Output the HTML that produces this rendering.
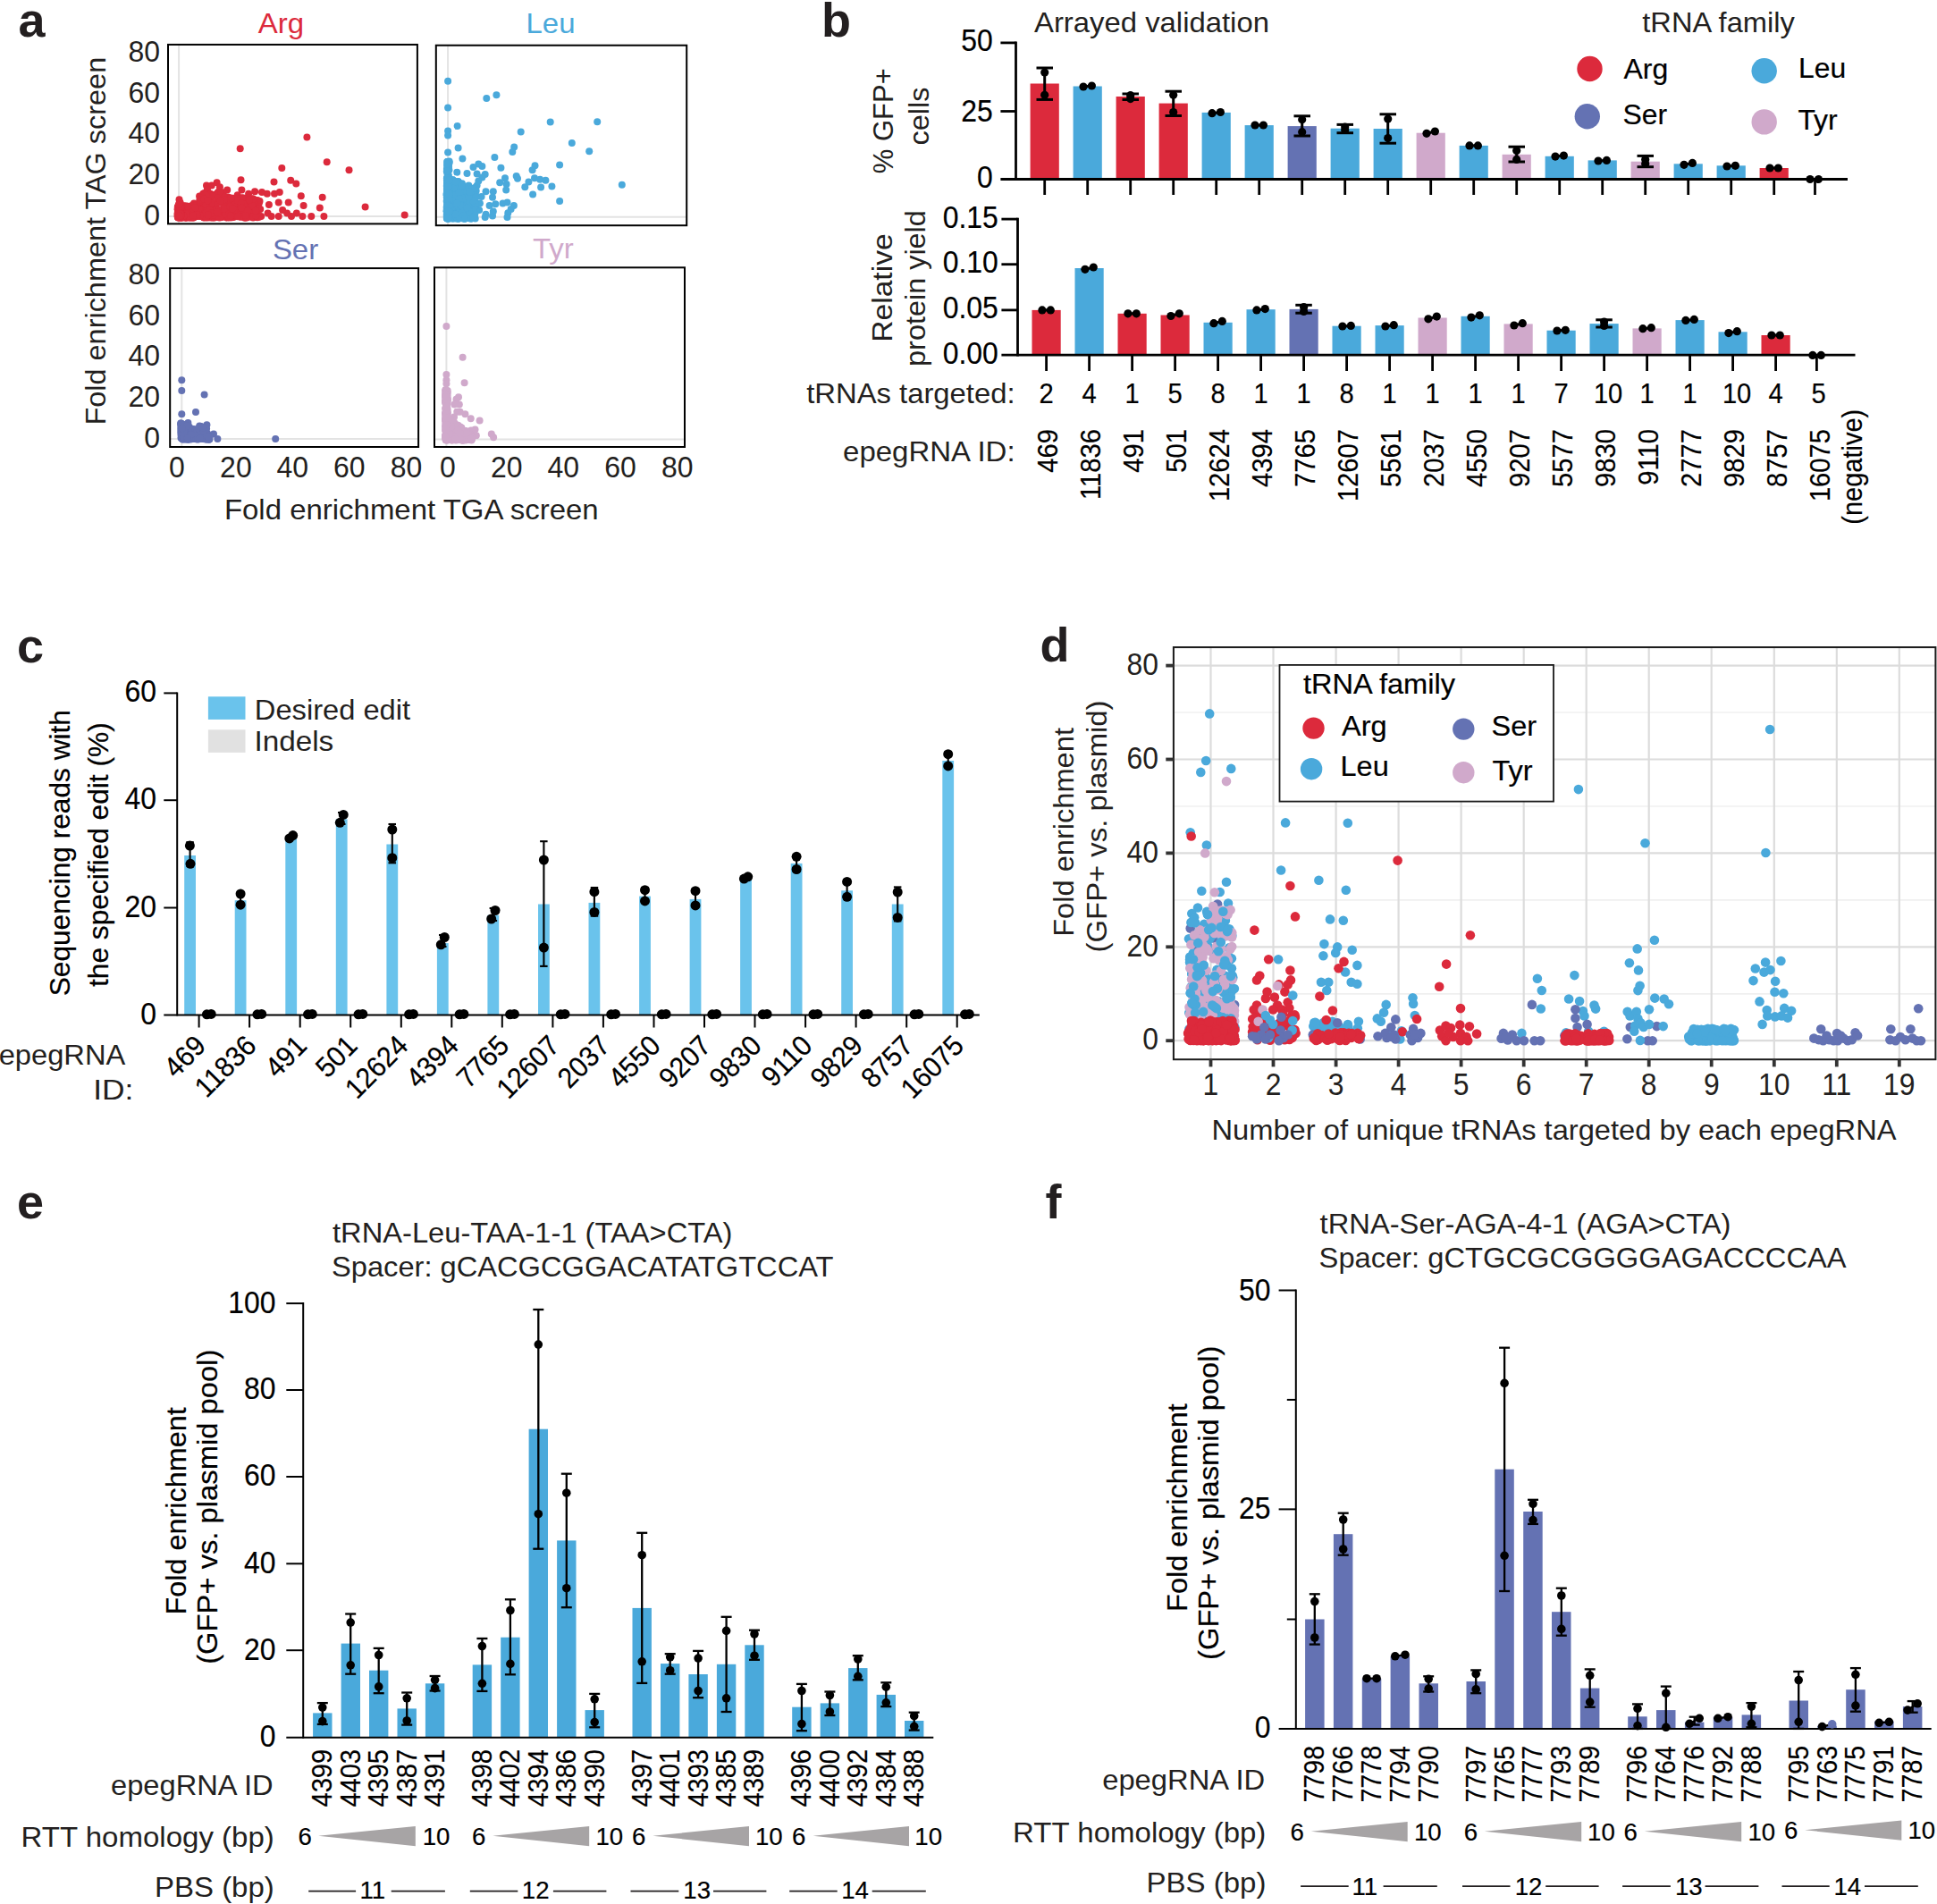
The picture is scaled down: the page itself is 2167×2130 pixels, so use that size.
<!DOCTYPE html>
<html lang="en"><head><meta charset="utf-8"><title>Figure</title>
<style>
html,body{margin:0;padding:0;background:#fff}
svg{display:block}
text{font-family:"Liberation Sans", sans-serif}
.k{fill:#000;stroke:#000;stroke-width:.2px}
</style></head><body>
<svg width="2167" height="2130" viewBox="0 0 2167 2130" fill="#231F20">
<rect width="2167" height="2130" fill="#fff"/>
<text x="20.5" y="41" font-size="54" font-weight="bold">a</text>
<line x1="200.1" y1="49.9" x2="200.1" y2="250.4" stroke="#E3E3E3" stroke-width="2"/>
<line x1="188" y1="242" x2="466.9" y2="242" stroke="#E3E3E3" stroke-width="2"/>
<text x="288.7" y="37.4" font-size="31.9" fill="#DC2A3C" textLength="51.30" lengthAdjust="spacingAndGlyphs">Arg</text>
<g fill="#DC2A3C">
<circle cx="268.7" cy="166.3" r="4"/><circle cx="343.4" cy="153.6" r="4"/><circle cx="365.7" cy="181.2" r="4"/><circle cx="390.5" cy="190.3" r="4"/><circle cx="315.3" cy="188.1" r="4"/><circle cx="269.5" cy="201.3" r="4"/><circle cx="306.5" cy="203.5" r="4"/><circle cx="325.2" cy="201.8" r="4"/><circle cx="331.3" cy="205.5" r="4"/><circle cx="408.6" cy="231.6" r="4"/><circle cx="452.7" cy="240.6" r="4"/><circle cx="360.7" cy="220.8" r="4"/><circle cx="336.8" cy="219.2" r="4"/><circle cx="339.6" cy="229.9" r="4"/><circle cx="357.8" cy="232.4" r="4"/><circle cx="362.4" cy="242" r="4"/><circle cx="348.3" cy="242" r="4"/><circle cx="338.4" cy="242" r="4"/><circle cx="331.8" cy="238.5" r="4"/><circle cx="326" cy="242" r="4"/><circle cx="321.1" cy="238.5" r="4"/><circle cx="316.1" cy="234.9" r="4"/><circle cx="322.7" cy="226.6" r="4"/><circle cx="311.7" cy="226.6" r="4"/><circle cx="311.7" cy="242" r="4"/><circle cx="300.9" cy="229.1" r="4"/><circle cx="299.6" cy="238.5" r="4"/><circle cx="312.8" cy="215" r="4"/><circle cx="307" cy="216.7" r="4"/><circle cx="298.8" cy="216.7" r="4"/><circle cx="293" cy="215" r="4"/><circle cx="285.1" cy="214.2" r="4"/><circle cx="278.1" cy="216.7" r="4"/><circle cx="270.4" cy="212.6" r="4"/><circle cx="254.2" cy="212.6" r="4"/><circle cx="242.6" cy="204.3" r="4"/><circle cx="231" cy="207.6" r="4"/><circle cx="236.8" cy="207.6" r="4"/><circle cx="245.9" cy="209.2" r="4"/><circle cx="231.9" cy="211.7" r="4"/><circle cx="245.9" cy="215" r="4"/><circle cx="200.5" cy="223.3" r="4"/><circle cx="200.5" cy="227.4" r="4"/><circle cx="265.7" cy="218.3" r="4"/><circle cx="290.5" cy="224.9" r="4"/><circle cx="288.9" cy="232.4" r="4"/><circle cx="303.7" cy="242" r="4"/><circle cx="292.2" cy="242" r="4"/><circle cx="217" cy="227.4" r="4"/><circle cx="231" cy="220" r="4"/><circle cx="241" cy="218.3" r="4"/><circle cx="252.5" cy="226.6" r="4"/><circle cx="260.8" cy="223.3" r="4"/><circle cx="214.1" cy="242.7" r="4"/><circle cx="245.4" cy="242.9" r="4"/><circle cx="232.9" cy="237" r="4"/><circle cx="199.8" cy="238.6" r="4"/><circle cx="199.3" cy="239.6" r="4"/><circle cx="200.1" cy="243.1" r="4"/><circle cx="222.3" cy="233.3" r="4"/><circle cx="202.1" cy="242" r="4"/><circle cx="242.7" cy="216.5" r="4"/><circle cx="237.2" cy="236.1" r="4"/><circle cx="287.9" cy="243.2" r="4"/><circle cx="271.3" cy="240" r="4"/><circle cx="203" cy="242.9" r="4"/><circle cx="212.9" cy="233.5" r="4"/><circle cx="204.8" cy="237.4" r="4"/><circle cx="244" cy="236.8" r="4"/><circle cx="234.1" cy="243" r="4"/><circle cx="199.8" cy="242.2" r="4"/><circle cx="248.8" cy="235.3" r="4"/><circle cx="213.3" cy="237.4" r="4"/><circle cx="224.9" cy="238.6" r="4"/><circle cx="262.8" cy="230.2" r="4"/><circle cx="208.5" cy="237.6" r="4"/><circle cx="231.8" cy="219.5" r="4"/><circle cx="254.7" cy="239.9" r="4"/><circle cx="288.4" cy="242.6" r="4"/><circle cx="221.7" cy="234.5" r="4"/><circle cx="203.4" cy="238.8" r="4"/><circle cx="199.3" cy="236" r="4"/><circle cx="259" cy="233.6" r="4"/><circle cx="273.6" cy="239.6" r="4"/><circle cx="250.5" cy="230.2" r="4"/><circle cx="237.5" cy="234.4" r="4"/><circle cx="268.8" cy="223" r="4"/><circle cx="226.9" cy="227.6" r="4"/><circle cx="199.9" cy="235.5" r="4"/><circle cx="244.9" cy="214.5" r="4"/><circle cx="266.4" cy="240" r="4"/><circle cx="219" cy="236" r="4"/><circle cx="199" cy="239.2" r="4"/><circle cx="204.2" cy="242.9" r="4"/><circle cx="199.8" cy="234.3" r="4"/><circle cx="202.3" cy="241.8" r="4"/><circle cx="219.4" cy="232.4" r="4"/><circle cx="200.5" cy="239.4" r="4"/><circle cx="234.3" cy="219.2" r="4"/><circle cx="266.1" cy="225.4" r="4"/><circle cx="210.8" cy="239.8" r="4"/><circle cx="216.8" cy="232.2" r="4"/><circle cx="285.2" cy="242.2" r="4"/><circle cx="204.6" cy="241.9" r="4"/><circle cx="207.8" cy="238.9" r="4"/><circle cx="238.5" cy="239.5" r="4"/><circle cx="198.8" cy="239.8" r="4"/><circle cx="217.6" cy="237.7" r="4"/><circle cx="284.5" cy="231.1" r="4"/><circle cx="230.9" cy="229.3" r="4"/><circle cx="248.3" cy="243.1" r="4"/><circle cx="276.9" cy="228.4" r="4"/><circle cx="273.5" cy="227.7" r="4"/><circle cx="219.5" cy="240" r="4"/><circle cx="201.3" cy="236.6" r="4"/><circle cx="199.9" cy="243.2" r="4"/><circle cx="206.4" cy="242.6" r="4"/><circle cx="215.3" cy="243.3" r="4"/><circle cx="198.8" cy="242.7" r="4"/><circle cx="201.2" cy="240.5" r="4"/><circle cx="199.1" cy="232.4" r="4"/><circle cx="241.2" cy="241.8" r="4"/><circle cx="209" cy="240.7" r="4"/><circle cx="217.2" cy="242.9" r="4"/><circle cx="270" cy="221.4" r="4"/><circle cx="226.1" cy="233.6" r="4"/><circle cx="200.6" cy="243" r="4"/><circle cx="215.5" cy="241.6" r="4"/><circle cx="267.3" cy="242" r="4"/><circle cx="199" cy="230.9" r="4"/><circle cx="232.1" cy="241.8" r="4"/><circle cx="233.7" cy="243.3" r="4"/><circle cx="232.1" cy="215.1" r="4"/><circle cx="272" cy="230.6" r="4"/><circle cx="209.6" cy="240.4" r="4"/><circle cx="204.1" cy="234.3" r="4"/><circle cx="232.6" cy="223.3" r="4"/><circle cx="214.5" cy="242" r="4"/><circle cx="265.1" cy="221.5" r="4"/><circle cx="270.5" cy="227.4" r="4"/><circle cx="266" cy="229.2" r="4"/><circle cx="207.4" cy="238.4" r="4"/><circle cx="216.5" cy="243.4" r="4"/><circle cx="199.1" cy="241.4" r="4"/><circle cx="209.5" cy="235.6" r="4"/><circle cx="285" cy="237" r="4"/><circle cx="282.2" cy="222.2" r="4"/><circle cx="284.8" cy="238.7" r="4"/><circle cx="207.1" cy="242" r="4"/><circle cx="205.7" cy="242.2" r="4"/><circle cx="242.3" cy="218.5" r="4"/><circle cx="268.9" cy="236" r="4"/><circle cx="245.6" cy="222.5" r="4"/><circle cx="200.6" cy="236.2" r="4"/><circle cx="278.4" cy="228.3" r="4"/><circle cx="257.2" cy="235.9" r="4"/><circle cx="204.7" cy="234" r="4"/><circle cx="214.7" cy="233.7" r="4"/><circle cx="287.2" cy="238.1" r="4"/><circle cx="220.3" cy="231" r="4"/><circle cx="254.1" cy="241.8" r="4"/><circle cx="202.2" cy="242.7" r="4"/><circle cx="277.7" cy="227.6" r="4"/><circle cx="203.1" cy="233.3" r="4"/><circle cx="288.4" cy="232.1" r="4"/><circle cx="216.1" cy="237.9" r="4"/><circle cx="202.4" cy="243.4" r="4"/><circle cx="287.1" cy="232.2" r="4"/><circle cx="232" cy="217.1" r="4"/><circle cx="223.1" cy="219.6" r="4"/><circle cx="267" cy="241.3" r="4"/><circle cx="209" cy="241.3" r="4"/><circle cx="208.3" cy="237.4" r="4"/><circle cx="209.5" cy="239.8" r="4"/><circle cx="202.4" cy="231.7" r="4"/><circle cx="216.4" cy="239.2" r="4"/><circle cx="237.9" cy="218.3" r="4"/><circle cx="222" cy="231.5" r="4"/><circle cx="229.5" cy="232.1" r="4"/><circle cx="231.7" cy="243.4" r="4"/><circle cx="223.7" cy="241.2" r="4"/><circle cx="198.8" cy="233.8" r="4"/><circle cx="204.4" cy="239" r="4"/><circle cx="254.2" cy="233.9" r="4"/><circle cx="214.2" cy="238.4" r="4"/><circle cx="234.9" cy="223.1" r="4"/><circle cx="201.4" cy="237.8" r="4"/><circle cx="208.8" cy="241.5" r="4"/><circle cx="260" cy="235.2" r="4"/><circle cx="235.6" cy="224.1" r="4"/><circle cx="278.7" cy="237" r="4"/><circle cx="241.1" cy="232.9" r="4"/><circle cx="230.5" cy="226.6" r="4"/><circle cx="224.8" cy="232.1" r="4"/><circle cx="227.2" cy="216.7" r="4"/><circle cx="251" cy="219.7" r="4"/><circle cx="282.9" cy="240.6" r="4"/><circle cx="235.4" cy="216.7" r="4"/><circle cx="268.8" cy="242.3" r="4"/><circle cx="202" cy="239.5" r="4"/><circle cx="200.2" cy="241.8" r="4"/><circle cx="200.2" cy="236" r="4"/><circle cx="261.5" cy="224.2" r="4"/><circle cx="203.5" cy="235.2" r="4"/><circle cx="246.4" cy="241.9" r="4"/><circle cx="274.6" cy="222.5" r="4"/><circle cx="207" cy="230.9" r="4"/><circle cx="220" cy="238.8" r="4"/><circle cx="289.8" cy="227.3" r="4"/><circle cx="203.8" cy="239.6" r="4"/><circle cx="230.9" cy="237.7" r="4"/><circle cx="205.6" cy="241" r="4"/><circle cx="253.8" cy="243.4" r="4"/><circle cx="234.8" cy="234.9" r="4"/><circle cx="199" cy="240.9" r="4"/><circle cx="242.3" cy="232.7" r="4"/><circle cx="200" cy="230.2" r="4"/><circle cx="262.1" cy="221.8" r="4"/><circle cx="201.3" cy="241.6" r="4"/><circle cx="199.4" cy="234.1" r="4"/><circle cx="210.2" cy="242.8" r="4"/><circle cx="222.1" cy="231.7" r="4"/><circle cx="266" cy="240.5" r="4"/><circle cx="203.2" cy="231.5" r="4"/><circle cx="236.5" cy="226.3" r="4"/><circle cx="200.8" cy="243.3" r="4"/><circle cx="249.7" cy="235.4" r="4"/><circle cx="200.2" cy="231.1" r="4"/><circle cx="243.5" cy="222.5" r="4"/><circle cx="200.6" cy="232.7" r="4"/><circle cx="200" cy="232.6" r="4"/><circle cx="225" cy="237.7" r="4"/><circle cx="234.7" cy="217.4" r="4"/><circle cx="210.1" cy="242.8" r="4"/><circle cx="232" cy="240" r="4"/><circle cx="201.5" cy="242.6" r="4"/><circle cx="199.6" cy="242.2" r="4"/><circle cx="213.2" cy="241.2" r="4"/><circle cx="258.4" cy="239.9" r="4"/><circle cx="229.4" cy="241.3" r="4"/><circle cx="215.8" cy="243.4" r="4"/><circle cx="208.9" cy="243.4" r="4"/><circle cx="255.1" cy="234" r="4"/><circle cx="205.3" cy="239" r="4"/><circle cx="281.9" cy="242.7" r="4"/><circle cx="266" cy="237.1" r="4"/><circle cx="228.9" cy="221.2" r="4"/><circle cx="219.6" cy="238.6" r="4"/><circle cx="249.7" cy="215.2" r="4"/><circle cx="215.5" cy="233.2" r="4"/><circle cx="251.9" cy="228.8" r="4"/><circle cx="220.6" cy="240.7" r="4"/><circle cx="199.7" cy="242.8" r="4"/><circle cx="200.2" cy="234.8" r="4"/><circle cx="209.3" cy="242.6" r="4"/><circle cx="200.6" cy="233" r="4"/><circle cx="272.9" cy="231.3" r="4"/><circle cx="211" cy="241.8" r="4"/><circle cx="211.8" cy="239.2" r="4"/><circle cx="203.6" cy="239.4" r="4"/><circle cx="209.8" cy="230.7" r="4"/><circle cx="287.3" cy="234.8" r="4"/><circle cx="208.5" cy="230.6" r="4"/><circle cx="213" cy="240.6" r="4"/><circle cx="198.8" cy="240.3" r="4"/><circle cx="226.9" cy="233" r="4"/><circle cx="205.9" cy="238.6" r="4"/><circle cx="198.8" cy="241.6" r="4"/><circle cx="200.8" cy="240" r="4"/><circle cx="199.4" cy="243.4" r="4"/><circle cx="212.6" cy="241.9" r="4"/><circle cx="238.1" cy="232.2" r="4"/><circle cx="257.3" cy="231.2" r="4"/><circle cx="253" cy="224.4" r="4"/><circle cx="219.3" cy="240.9" r="4"/><circle cx="289.1" cy="242.2" r="4"/><circle cx="254" cy="231.6" r="4"/><circle cx="199.4" cy="233.1" r="4"/><circle cx="275.9" cy="232.5" r="4"/><circle cx="255.2" cy="226.6" r="4"/><circle cx="202.8" cy="238.3" r="4"/><circle cx="229.8" cy="221.1" r="4"/><circle cx="264.2" cy="226.5" r="4"/><circle cx="238" cy="218.8" r="4"/><circle cx="249.1" cy="226.7" r="4"/><circle cx="207.6" cy="243.4" r="4"/><circle cx="202.5" cy="240.5" r="4"/><circle cx="201.3" cy="233.1" r="4"/><circle cx="235.3" cy="228.9" r="4"/><circle cx="242.6" cy="227" r="4"/><circle cx="228.3" cy="243.4" r="4"/><circle cx="263.3" cy="228.8" r="4"/><circle cx="229.6" cy="232" r="4"/><circle cx="246.3" cy="243" r="4"/><circle cx="255.6" cy="240.5" r="4"/><circle cx="200.3" cy="241.6" r="4"/><circle cx="254.7" cy="241.3" r="4"/><circle cx="255.9" cy="221.3" r="4"/><circle cx="228.8" cy="236.5" r="4"/><circle cx="227.3" cy="226.9" r="4"/><circle cx="259.3" cy="232.4" r="4"/><circle cx="244.4" cy="242.8" r="4"/><circle cx="203.1" cy="241.7" r="4"/><circle cx="256.4" cy="239.6" r="4"/><circle cx="236.2" cy="243.4" r="4"/><circle cx="199.9" cy="241.6" r="4"/><circle cx="247.8" cy="226.7" r="4"/><circle cx="248.2" cy="238.9" r="4"/><circle cx="231" cy="234.2" r="4"/><circle cx="226.1" cy="242.3" r="4"/><circle cx="276.1" cy="241.5" r="4"/><circle cx="288.1" cy="224.1" r="4"/><circle cx="199" cy="239.2" r="4"/><circle cx="266.2" cy="222.1" r="4"/><circle cx="224.6" cy="239.4" r="4"/><circle cx="206.4" cy="231" r="4"/><circle cx="206.5" cy="237.4" r="4"/><circle cx="202.9" cy="238.3" r="4"/><circle cx="284.4" cy="242.4" r="4"/><circle cx="266.2" cy="235.3" r="4"/><circle cx="275.2" cy="230.5" r="4"/><circle cx="207.7" cy="231.9" r="4"/><circle cx="228" cy="243.3" r="4"/><circle cx="198.8" cy="238.8" r="4"/><circle cx="224.7" cy="238.6" r="4"/><circle cx="202.8" cy="240.7" r="4"/><circle cx="213.5" cy="233" r="4"/><circle cx="198.8" cy="234.6" r="4"/><circle cx="268.7" cy="242.5" r="4"/><circle cx="280.7" cy="230.4" r="4"/><circle cx="277.2" cy="240" r="4"/><circle cx="217.9" cy="240.1" r="4"/><circle cx="291.2" cy="233.9" r="4"/><circle cx="216.9" cy="239.7" r="4"/><circle cx="210.6" cy="243.3" r="4"/><circle cx="201.2" cy="233.1" r="4"/><circle cx="211.3" cy="231.2" r="4"/><circle cx="208.8" cy="241.6" r="4"/><circle cx="230.4" cy="241" r="4"/><circle cx="217.9" cy="230.8" r="4"/><circle cx="274.8" cy="227.3" r="4"/><circle cx="243.1" cy="217.9" r="4"/><circle cx="282.7" cy="234.6" r="4"/><circle cx="253.5" cy="243.2" r="4"/><circle cx="255" cy="236.5" r="4"/><circle cx="257.5" cy="231.6" r="4"/><circle cx="211.3" cy="243.3" r="4"/><circle cx="280.7" cy="242.5" r="4"/><circle cx="226.7" cy="237.6" r="4"/><circle cx="212.1" cy="234.8" r="4"/><circle cx="287.9" cy="240.6" r="4"/><circle cx="245.9" cy="238.6" r="4"/><circle cx="235.1" cy="236.2" r="4"/><circle cx="204.1" cy="242.6" r="4"/><circle cx="206.3" cy="231.8" r="4"/><circle cx="229.1" cy="240.4" r="4"/><circle cx="277.9" cy="221.7" r="4"/><circle cx="224.6" cy="241.9" r="4"/><circle cx="205.4" cy="243.1" r="4"/><circle cx="215.4" cy="243.1" r="4"/><circle cx="208.2" cy="241.7" r="4"/><circle cx="236.4" cy="219" r="4"/><circle cx="257.2" cy="237.4" r="4"/><circle cx="221.4" cy="238.3" r="4"/><circle cx="218.2" cy="240.8" r="4"/><circle cx="199.9" cy="241.5" r="4"/><circle cx="286.6" cy="242.5" r="4"/><circle cx="229.7" cy="228.8" r="4"/><circle cx="271.9" cy="241.2" r="4"/><circle cx="210.3" cy="241.8" r="4"/><circle cx="220.2" cy="239.4" r="4"/><circle cx="284.6" cy="226.6" r="4"/><circle cx="273.3" cy="243.4" r="4"/><circle cx="199.2" cy="235.4" r="4"/><circle cx="276.4" cy="236.3" r="4"/><circle cx="238.3" cy="243.4" r="4"/><circle cx="219.5" cy="231.4" r="4"/><circle cx="266.9" cy="225.7" r="4"/><circle cx="287.3" cy="240.8" r="4"/><circle cx="201.5" cy="242.6" r="4"/><circle cx="231.6" cy="227" r="4"/><circle cx="282.8" cy="230.2" r="4"/><circle cx="245" cy="223.9" r="4"/><circle cx="225.3" cy="231.5" r="4"/><circle cx="199.4" cy="234.1" r="4"/><circle cx="207.8" cy="231.5" r="4"/><circle cx="244.7" cy="238.6" r="4"/><circle cx="202.3" cy="241.7" r="4"/><circle cx="243.7" cy="226.4" r="4"/><circle cx="201.6" cy="243.2" r="4"/><circle cx="231.8" cy="230.4" r="4"/><circle cx="219.2" cy="242" r="4"/><circle cx="239.8" cy="243.4" r="4"/><circle cx="212.4" cy="239.2" r="4"/><circle cx="285.3" cy="232.3" r="4"/><circle cx="274.7" cy="236.2" r="4"/><circle cx="207.9" cy="241.8" r="4"/><circle cx="285.6" cy="230.7" r="4"/><circle cx="212.8" cy="243.4" r="4"/><circle cx="229.2" cy="227.3" r="4"/><circle cx="221.9" cy="241.7" r="4"/><circle cx="247.3" cy="217.5" r="4"/><circle cx="207.4" cy="243.4" r="4"/><circle cx="215.1" cy="239.8" r="4"/><circle cx="249" cy="240.9" r="4"/><circle cx="263.2" cy="229.1" r="4"/><circle cx="229.8" cy="240.7" r="4"/><circle cx="286.9" cy="239.7" r="4"/><circle cx="266.2" cy="241" r="4"/><circle cx="207.1" cy="234.5" r="4"/><circle cx="211.9" cy="230.9" r="4"/><circle cx="228.9" cy="241.1" r="4"/><circle cx="207.2" cy="239.8" r="4"/><circle cx="247" cy="216.5" r="4"/><circle cx="203.1" cy="240.1" r="4"/><circle cx="206.6" cy="230.4" r="4"/><circle cx="202.9" cy="243.3" r="4"/><circle cx="199.9" cy="240.1" r="4"/><circle cx="276.7" cy="225.2" r="4"/><circle cx="255.1" cy="220.5" r="4"/><circle cx="281.4" cy="239.4" r="4"/><circle cx="205.1" cy="231.2" r="4"/><circle cx="256.8" cy="243.3" r="4"/><circle cx="246.9" cy="236.6" r="4"/><circle cx="218" cy="240.9" r="4"/><circle cx="204.2" cy="243.4" r="4"/><circle cx="210.9" cy="240.6" r="4"/><circle cx="284.8" cy="242.5" r="4"/><circle cx="286.1" cy="241.4" r="4"/><circle cx="216.6" cy="233.4" r="4"/><circle cx="266.4" cy="237.1" r="4"/><circle cx="199.6" cy="239" r="4"/><circle cx="217.9" cy="231.5" r="4"/><circle cx="205.5" cy="240.5" r="4"/><circle cx="276.6" cy="243.3" r="4"/><circle cx="221.1" cy="233.5" r="4"/><circle cx="259.3" cy="243.3" r="4"/><circle cx="199.3" cy="243.2" r="4"/><circle cx="279.8" cy="240.6" r="4"/><circle cx="256.9" cy="223.9" r="4"/><circle cx="215.2" cy="241.5" r="4"/><circle cx="285.2" cy="233" r="4"/><circle cx="209.7" cy="235.2" r="4"/><circle cx="213.5" cy="241.5" r="4"/><circle cx="198.8" cy="234.5" r="4"/><circle cx="279.3" cy="232.4" r="4"/><circle cx="283.1" cy="243.4" r="4"/><circle cx="207.9" cy="239" r="4"/><circle cx="285" cy="223.4" r="4"/><circle cx="219" cy="241.7" r="4"/><circle cx="222.8" cy="233.3" r="4"/><circle cx="280.9" cy="241.7" r="4"/><circle cx="263.9" cy="229.1" r="4"/><circle cx="266.5" cy="228.2" r="4"/><circle cx="240.5" cy="238" r="4"/><circle cx="213.7" cy="240.5" r="4"/><circle cx="261.3" cy="242.9" r="4"/><circle cx="205.7" cy="234.6" r="4"/><circle cx="208.7" cy="243.2" r="4"/><circle cx="199.2" cy="237.9" r="4"/><circle cx="214.2" cy="230.3" r="4"/><circle cx="274.7" cy="221.8" r="4"/><circle cx="209.9" cy="243.1" r="4"/><circle cx="201" cy="238.7" r="4"/><circle cx="252.3" cy="234.8" r="4"/><circle cx="207.9" cy="239.8" r="4"/><circle cx="241.9" cy="227.3" r="4"/><circle cx="257" cy="225.6" r="4"/><circle cx="246.9" cy="242.2" r="4"/><circle cx="268.9" cy="239.9" r="4"/><circle cx="236.1" cy="236.8" r="4"/><circle cx="255.7" cy="241.4" r="4"/><circle cx="208.7" cy="241.8" r="4"/><circle cx="203.4" cy="232.2" r="4"/><circle cx="237.3" cy="238" r="4"/><circle cx="219.8" cy="230.1" r="4"/><circle cx="230.1" cy="240.2" r="4"/><circle cx="264.7" cy="231.6" r="4"/><circle cx="290" cy="242.8" r="4"/><circle cx="226.9" cy="221.8" r="4"/><circle cx="268.9" cy="223.9" r="4"/><circle cx="199.4" cy="241.3" r="4"/><circle cx="201.9" cy="242.3" r="4"/><circle cx="287.4" cy="233.9" r="4"/><circle cx="281.2" cy="238.5" r="4"/><circle cx="272.3" cy="236.8" r="4"/><circle cx="209.5" cy="234.2" r="4"/><circle cx="283.4" cy="242.7" r="4"/><circle cx="239.3" cy="229.2" r="4"/><circle cx="206.9" cy="240.4" r="4"/><circle cx="202.9" cy="242.2" r="4"/><circle cx="209.2" cy="237.2" r="4"/><circle cx="245.5" cy="240.8" r="4"/><circle cx="198.9" cy="240.9" r="4"/><circle cx="248.5" cy="241.1" r="4"/><circle cx="213.2" cy="242.2" r="4"/><circle cx="263" cy="234.3" r="4"/><circle cx="199.9" cy="243" r="4"/><circle cx="219.8" cy="237.9" r="4"/><circle cx="244" cy="242.6" r="4"/><circle cx="203.9" cy="235.6" r="4"/><circle cx="221" cy="241.4" r="4"/><circle cx="212.9" cy="230.8" r="4"/><circle cx="213.2" cy="237.7" r="4"/><circle cx="216.6" cy="239.8" r="4"/><circle cx="272.1" cy="221.4" r="4"/><circle cx="217.2" cy="242.3" r="4"/><circle cx="254.5" cy="241.3" r="4"/><circle cx="198.8" cy="231.8" r="4"/><circle cx="222.2" cy="233.4" r="4"/><circle cx="220.7" cy="232.2" r="4"/><circle cx="225.6" cy="241.5" r="4"/><circle cx="198.9" cy="237.9" r="4"/><circle cx="244.2" cy="218.1" r="4"/><circle cx="200.8" cy="236.8" r="4"/><circle cx="217.7" cy="238.6" r="4"/><circle cx="203.1" cy="241.4" r="4"/><circle cx="231.4" cy="217.4" r="4"/><circle cx="201.5" cy="238.8" r="4"/><circle cx="264.2" cy="222" r="4"/><circle cx="205.7" cy="242.8" r="4"/><circle cx="283.1" cy="222.6" r="4"/><circle cx="227.7" cy="243.1" r="4"/><circle cx="280.7" cy="238.2" r="4"/><circle cx="277.6" cy="232.8" r="4"/><circle cx="266.8" cy="242" r="4"/><circle cx="261.7" cy="241.1" r="4"/><circle cx="220.6" cy="232.9" r="4"/><circle cx="267.4" cy="241.7" r="4"/><circle cx="206.9" cy="240" r="4"/><circle cx="231.1" cy="236.5" r="4"/><circle cx="202.1" cy="241.8" r="4"/><circle cx="254.1" cy="223.9" r="4"/><circle cx="199.4" cy="237.7" r="4"/><circle cx="258.1" cy="243.3" r="4"/><circle cx="268.6" cy="242.5" r="4"/><circle cx="239.6" cy="231.5" r="4"/><circle cx="242.7" cy="238.5" r="4"/><circle cx="221.9" cy="237.4" r="4"/><circle cx="222.4" cy="236.2" r="4"/><circle cx="224.3" cy="235" r="4"/><circle cx="199.1" cy="236.9" r="4"/><circle cx="228.3" cy="240.1" r="4"/><circle cx="258.9" cy="227.7" r="4"/><circle cx="225.4" cy="241.2" r="4"/><circle cx="226.8" cy="242.4" r="4"/><circle cx="202.3" cy="239.6" r="4"/><circle cx="200.8" cy="239.5" r="4"/><circle cx="230.3" cy="243.2" r="4"/><circle cx="243.7" cy="242.8" r="4"/><circle cx="255.2" cy="227.7" r="4"/><circle cx="230.5" cy="243.1" r="4"/><circle cx="229.7" cy="236.7" r="4"/><circle cx="284.2" cy="242.4" r="4"/><circle cx="271.1" cy="221.4" r="4"/><circle cx="255" cy="226.5" r="4"/><circle cx="205.5" cy="230.3" r="4"/><circle cx="228.6" cy="216.1" r="4"/><circle cx="279.2" cy="242" r="4"/><circle cx="262.1" cy="223.1" r="4"/><circle cx="200" cy="240.6" r="4"/><circle cx="258" cy="242" r="4"/><circle cx="276.5" cy="240.3" r="4"/><circle cx="265.6" cy="242.2" r="4"/><circle cx="229.6" cy="217.6" r="4"/><circle cx="206.3" cy="241.6" r="4"/><circle cx="229.9" cy="238.2" r="4"/><circle cx="199.3" cy="242.4" r="4"/><circle cx="203.8" cy="231.2" r="4"/><circle cx="248.7" cy="218.8" r="4"/><circle cx="204.2" cy="234" r="4"/><circle cx="201.7" cy="238.2" r="4"/><circle cx="243.7" cy="237.1" r="4"/><circle cx="273.3" cy="234.3" r="4"/><circle cx="237.5" cy="219.2" r="4"/><circle cx="201.3" cy="230" r="4"/><circle cx="243" cy="236.2" r="4"/><circle cx="263.3" cy="240.4" r="4"/><circle cx="289.9" cy="234.1" r="4"/><circle cx="216.9" cy="234.4" r="4"/><circle cx="223.9" cy="241.3" r="4"/><circle cx="256.4" cy="243.2" r="4"/><circle cx="266.1" cy="240.6" r="4"/><circle cx="244" cy="214.9" r="4"/><circle cx="238.2" cy="227.6" r="4"/><circle cx="213.2" cy="243.4" r="4"/><circle cx="199.2" cy="242.7" r="4"/><circle cx="241.4" cy="235.1" r="4"/><circle cx="230.6" cy="218.7" r="4"/><circle cx="202.4" cy="242" r="4"/><circle cx="245.6" cy="243.4" r="4"/><circle cx="198.8" cy="240.6" r="4"/><circle cx="201.4" cy="240.6" r="4"/><circle cx="207.3" cy="237.4" r="4"/><circle cx="238.5" cy="240.7" r="4"/><circle cx="242.3" cy="233.9" r="4"/><circle cx="202.6" cy="231.2" r="4"/><circle cx="208.5" cy="242.7" r="4"/><circle cx="201" cy="236.5" r="4"/><circle cx="273" cy="228.2" r="4"/><circle cx="220.3" cy="241.6" r="4"/><circle cx="198.9" cy="236.4" r="4"/><circle cx="235.7" cy="237.4" r="4"/><circle cx="244.8" cy="234.8" r="4"/><circle cx="282.2" cy="229.9" r="4"/><circle cx="208.8" cy="231.8" r="4"/><circle cx="199.4" cy="238.2" r="4"/><circle cx="220.7" cy="241.9" r="4"/><circle cx="199.8" cy="234.1" r="4"/><circle cx="198.9" cy="237.9" r="4"/><circle cx="282.8" cy="242.3" r="4"/><circle cx="205.8" cy="237" r="4"/><circle cx="230" cy="228.4" r="4"/><circle cx="265.3" cy="241.8" r="4"/><circle cx="213" cy="241.2" r="4"/><circle cx="199.6" cy="232.1" r="4"/><circle cx="261.4" cy="229.7" r="4"/><circle cx="198.9" cy="232.9" r="4"/><circle cx="256.6" cy="236.2" r="4"/><circle cx="256.2" cy="236.5" r="4"/><circle cx="207.4" cy="243" r="4"/><circle cx="207.8" cy="243.3" r="4"/><circle cx="214.9" cy="234.7" r="4"/><circle cx="250.5" cy="220.9" r="4"/><circle cx="252.5" cy="239.5" r="4"/><circle cx="234.8" cy="235" r="4"/><circle cx="262.1" cy="234.9" r="4"/><circle cx="209.9" cy="236.5" r="4"/><circle cx="286.2" cy="241.3" r="4"/><circle cx="274.2" cy="243.4" r="4"/><circle cx="209.6" cy="241.9" r="4"/><circle cx="256.5" cy="222.4" r="4"/><circle cx="256.7" cy="239.2" r="4"/><circle cx="274.2" cy="239.3" r="4"/><circle cx="208.2" cy="231.7" r="4"/><circle cx="243.1" cy="226.6" r="4"/><circle cx="247" cy="215.2" r="4"/><circle cx="226.4" cy="220.9" r="4"/><circle cx="250.8" cy="220.4" r="4"/><circle cx="223.4" cy="225.4" r="4"/><circle cx="236.5" cy="238.5" r="4"/><circle cx="206.6" cy="236.8" r="4"/><circle cx="200.4" cy="231.7" r="4"/><circle cx="203" cy="243.4" r="4"/><circle cx="201.4" cy="231.3" r="4"/><circle cx="215.7" cy="242.7" r="4"/><circle cx="199.1" cy="243.3" r="4"/><circle cx="250.2" cy="228.8" r="4"/><circle cx="250.8" cy="225.1" r="4"/><circle cx="200" cy="237.3" r="4"/><circle cx="217.1" cy="233.4" r="4"/><circle cx="266.1" cy="224.6" r="4"/><circle cx="200" cy="232.5" r="4"/><circle cx="279" cy="223.4" r="4"/><circle cx="201.4" cy="242.2" r="4"/><circle cx="201.6" cy="243.4" r="4"/><circle cx="269.8" cy="227.2" r="4"/><circle cx="243.5" cy="221.5" r="4"/><circle cx="243.2" cy="238.9" r="4"/><circle cx="201.1" cy="243" r="4"/><circle cx="258.1" cy="241.3" r="4"/><circle cx="213.7" cy="239.7" r="4"/><circle cx="199" cy="241.7" r="4"/><circle cx="211.1" cy="235.2" r="4"/><circle cx="217.5" cy="241" r="4"/><circle cx="286.1" cy="235.8" r="4"/><circle cx="270.3" cy="232.6" r="4"/><circle cx="199.2" cy="239.9" r="4"/><circle cx="223.4" cy="223.6" r="4"/><circle cx="215.8" cy="235.4" r="4"/><circle cx="233.1" cy="240.5" r="4"/><circle cx="271.8" cy="242.8" r="4"/><circle cx="266.1" cy="241.9" r="4"/><circle cx="198.8" cy="242.2" r="4"/><circle cx="258.7" cy="221.4" r="4"/><circle cx="198.8" cy="238.8" r="4"/><circle cx="228.5" cy="222.7" r="4"/><circle cx="205" cy="238.7" r="4"/><circle cx="215.8" cy="233.2" r="4"/><circle cx="209.6" cy="231" r="4"/><circle cx="211.2" cy="242.1" r="4"/><circle cx="251" cy="233.3" r="4"/><circle cx="201.5" cy="236.6" r="4"/><circle cx="200.5" cy="234" r="4"/><circle cx="250.8" cy="223.2" r="4"/><circle cx="242.8" cy="237.2" r="4"/><circle cx="220.3" cy="240.1" r="4"/><circle cx="275.7" cy="242.9" r="4"/><circle cx="275.4" cy="243.4" r="4"/><circle cx="206.2" cy="241.6" r="4"/><circle cx="277.2" cy="235.7" r="4"/><circle cx="218.4" cy="232.2" r="4"/><circle cx="207.9" cy="239.2" r="4"/><circle cx="232.5" cy="224.3" r="4"/><circle cx="257.6" cy="231.6" r="4"/><circle cx="216" cy="240.9" r="4"/><circle cx="203.5" cy="233" r="4"/><circle cx="246.7" cy="224.8" r="4"/><circle cx="204.2" cy="239.5" r="4"/><circle cx="260.2" cy="233.4" r="4"/><circle cx="202.2" cy="239.2" r="4"/><circle cx="274.9" cy="240.9" r="4"/><circle cx="205.4" cy="241.2" r="4"/><circle cx="202" cy="240.5" r="4"/><circle cx="200.2" cy="229.2" r="4"/><circle cx="200.5" cy="232" r="4"/><circle cx="201.4" cy="229.3" r="4"/><circle cx="200.7" cy="229.7" r="4"/><circle cx="202.9" cy="238.6" r="4"/><circle cx="200" cy="242.5" r="4"/><circle cx="200" cy="232.9" r="4"/><circle cx="202.9" cy="239.7" r="4"/><circle cx="202.1" cy="233.8" r="4"/><circle cx="200.3" cy="237.1" r="4"/><circle cx="200" cy="230" r="4"/><circle cx="200.9" cy="227.2" r="4"/><circle cx="201" cy="239.7" r="4"/><circle cx="201.9" cy="234.9" r="4"/><circle cx="201.7" cy="234.3" r="4"/><circle cx="200.1" cy="236.6" r="4"/><circle cx="201" cy="238.8" r="4"/><circle cx="202.6" cy="233.7" r="4"/><circle cx="201.5" cy="239" r="4"/><circle cx="201" cy="230.4" r="4"/><circle cx="202" cy="241.1" r="4"/><circle cx="202.2" cy="238.2" r="4"/><circle cx="202.5" cy="237.8" r="4"/><circle cx="201.8" cy="234.1" r="4"/><circle cx="200.7" cy="237" r="4"/><circle cx="200" cy="233.5" r="4"/><circle cx="202.2" cy="238.4" r="4"/><circle cx="201.7" cy="230.7" r="4"/><circle cx="201" cy="234.1" r="4"/><circle cx="201.7" cy="233.4" r="4"/><circle cx="201.9" cy="242" r="4"/><circle cx="200.3" cy="237.4" r="4"/><circle cx="202.2" cy="233" r="4"/><circle cx="201.3" cy="242.7" r="4"/><circle cx="199.8" cy="235.6" r="4"/><circle cx="200.2" cy="239.5" r="4"/><circle cx="202.8" cy="235.2" r="4"/><circle cx="200" cy="236.1" r="4"/><circle cx="201.4" cy="238.4" r="4"/><circle cx="201.3" cy="237.2" r="4"/><circle cx="202.4" cy="235.2" r="4"/><circle cx="201" cy="242.3" r="4"/><circle cx="200.3" cy="237.9" r="4"/><circle cx="200.9" cy="239.2" r="4"/><circle cx="200.1" cy="242.9" r="4"/><circle cx="200.8" cy="227.5" r="4"/><circle cx="200.6" cy="233.2" r="4"/><circle cx="199.7" cy="233.5" r="4"/><circle cx="201" cy="238.1" r="4"/><circle cx="200.8" cy="231" r="4"/><circle cx="200.4" cy="238.8" r="4"/><circle cx="202.8" cy="235.3" r="4"/><circle cx="200.4" cy="239.8" r="4"/><circle cx="200.9" cy="230.1" r="4"/><circle cx="200.1" cy="239.4" r="4"/><circle cx="202.3" cy="237.1" r="4"/><circle cx="201.2" cy="235.9" r="4"/><circle cx="200.4" cy="242.5" r="4"/><circle cx="200.8" cy="237.2" r="4"/><circle cx="202.4" cy="240.1" r="4"/><circle cx="201.2" cy="231.5" r="4"/><circle cx="201.5" cy="228.7" r="4"/><circle cx="202.4" cy="232.5" r="4"/><circle cx="202.5" cy="231" r="4"/><circle cx="200.9" cy="230.8" r="4"/><circle cx="201.1" cy="229.7" r="4"/><circle cx="199.7" cy="238.5" r="4"/><circle cx="200.6" cy="230.6" r="4"/><circle cx="200.6" cy="234.5" r="4"/><circle cx="201.1" cy="237.1" r="4"/><circle cx="201.8" cy="232.6" r="4"/><circle cx="202.7" cy="240.7" r="4"/><circle cx="199.8" cy="240.3" r="4"/><circle cx="202.6" cy="239.5" r="4"/><circle cx="200.1" cy="240.3" r="4"/><circle cx="201.7" cy="226.8" r="4"/><circle cx="199.7" cy="242.3" r="4"/><circle cx="201.8" cy="230.7" r="4"/><circle cx="200" cy="229" r="4"/><circle cx="200.4" cy="239.4" r="4"/><circle cx="200.8" cy="229.1" r="4"/><circle cx="202.6" cy="239.7" r="4"/><circle cx="200.2" cy="241.3" r="4"/><circle cx="201.7" cy="239.5" r="4"/><circle cx="201.9" cy="241.4" r="4"/><circle cx="202.3" cy="240.5" r="4"/><circle cx="200.3" cy="238" r="4"/><circle cx="201.4" cy="238.9" r="4"/><circle cx="201.1" cy="241.2" r="4"/>
</g>
<rect x="188" y="49.9" width="278.9" height="200.5" fill="none" stroke="#000" stroke-width="2"/>
<line x1="501.1" y1="50.7" x2="501.1" y2="252.2" stroke="#E3E3E3" stroke-width="2"/>
<line x1="487.8" y1="242.8" x2="768.2" y2="242.8" stroke="#E3E3E3" stroke-width="2"/>
<text x="588.5" y="37.4" font-size="31.9" fill="#4AA9DB" textLength="55.00" lengthAdjust="spacingAndGlyphs">Leu</text>
<g fill="#4AA9DB">
<circle cx="501.1" cy="90.8" r="4"/><circle cx="501.1" cy="120.4" r="4"/><circle cx="544.3" cy="110.1" r="4"/><circle cx="555.4" cy="106.2" r="4"/><circle cx="511.6" cy="141" r="4"/><circle cx="501.1" cy="146.5" r="4"/><circle cx="501.1" cy="151.4" r="4"/><circle cx="582.7" cy="147.5" r="4"/><circle cx="615.7" cy="136.6" r="4"/><circle cx="668.2" cy="136.2" r="4"/><circle cx="639.8" cy="159.9" r="4"/><circle cx="659.2" cy="169.3" r="4"/><circle cx="512.6" cy="165.5" r="4"/><circle cx="501.1" cy="170.4" r="4"/><circle cx="575.2" cy="164.6" r="4"/><circle cx="573.3" cy="170.1" r="4"/><circle cx="553.4" cy="176" r="4"/><circle cx="517.4" cy="177.5" r="4"/><circle cx="501.1" cy="180.7" r="4"/><circle cx="626.1" cy="184.5" r="4"/><circle cx="598.5" cy="185.3" r="4"/><circle cx="595.6" cy="190.3" r="4"/><circle cx="560.4" cy="187.8" r="4"/><circle cx="535.3" cy="183.6" r="4"/><circle cx="529.5" cy="186.9" r="4"/><circle cx="539.4" cy="186.1" r="4"/><circle cx="511.3" cy="192.7" r="4"/><circle cx="522.5" cy="194.1" r="4"/><circle cx="533.6" cy="194.4" r="4"/><circle cx="542.7" cy="194.9" r="4"/><circle cx="539.4" cy="198.5" r="4"/><circle cx="577.7" cy="196.9" r="4"/><circle cx="579" cy="199.8" r="4"/><circle cx="565" cy="199.3" r="4"/><circle cx="559.2" cy="204.3" r="4"/><circle cx="566.6" cy="205.9" r="4"/><circle cx="566.2" cy="212.6" r="4"/><circle cx="598" cy="199.3" r="4"/><circle cx="604.1" cy="200.7" r="4"/><circle cx="610.4" cy="201.8" r="4"/><circle cx="591.4" cy="203.5" r="4"/><circle cx="587.3" cy="209.2" r="4"/><circle cx="605.1" cy="209.6" r="4"/><circle cx="617.4" cy="208.4" r="4"/><circle cx="596.1" cy="217.5" r="4"/><circle cx="695.8" cy="206.8" r="4"/><circle cx="626.1" cy="224.9" r="4"/><circle cx="543.5" cy="214.2" r="4"/><circle cx="551.8" cy="214.2" r="4"/><circle cx="538.6" cy="220" r="4"/><circle cx="551" cy="220.8" r="4"/><circle cx="547.6" cy="229.9" r="4"/><circle cx="554.3" cy="228.2" r="4"/><circle cx="562.5" cy="227.4" r="4"/><circle cx="567.5" cy="226.6" r="4"/><circle cx="574.9" cy="229.9" r="4"/><circle cx="571.6" cy="234" r="4"/><circle cx="568.3" cy="238.2" r="4"/><circle cx="567.5" cy="243.1" r="4"/><circle cx="543.5" cy="239.8" r="4"/><circle cx="542.7" cy="243.1" r="4"/><circle cx="551" cy="241.5" r="4"/><circle cx="551.8" cy="236.5" r="4"/><circle cx="536.1" cy="234.9" r="4"/><circle cx="536.9" cy="227.4" r="4"/><circle cx="533.6" cy="207.6" r="4"/><circle cx="535.3" cy="202.6" r="4"/><circle cx="513.4" cy="237.4" r="4"/><circle cx="503.5" cy="241.3" r="4"/><circle cx="511.2" cy="243.7" r="4"/><circle cx="510.3" cy="241.3" r="4"/><circle cx="511.1" cy="227.7" r="4"/><circle cx="512.8" cy="210.4" r="4"/><circle cx="499.8" cy="207.9" r="4"/><circle cx="510.3" cy="224.6" r="4"/><circle cx="517.7" cy="212.9" r="4"/><circle cx="507.3" cy="230.7" r="4"/><circle cx="530.8" cy="243.5" r="4"/><circle cx="516.5" cy="222.3" r="4"/><circle cx="499.9" cy="220.5" r="4"/><circle cx="518.4" cy="208.5" r="4"/><circle cx="506" cy="201.8" r="4"/><circle cx="511.8" cy="228.4" r="4"/><circle cx="527.8" cy="244.3" r="4"/><circle cx="519.8" cy="223.5" r="4"/><circle cx="506.2" cy="208.5" r="4"/><circle cx="507.1" cy="228.2" r="4"/><circle cx="512.3" cy="214.9" r="4"/><circle cx="502.9" cy="229.5" r="4"/><circle cx="508.8" cy="224.8" r="4"/><circle cx="524.6" cy="237.2" r="4"/><circle cx="524.6" cy="233.2" r="4"/><circle cx="511.6" cy="237" r="4"/><circle cx="511.6" cy="204" r="4"/><circle cx="517.2" cy="215.1" r="4"/><circle cx="506" cy="234.9" r="4"/><circle cx="505.1" cy="222.6" r="4"/><circle cx="516.4" cy="215.3" r="4"/><circle cx="500" cy="214.5" r="4"/><circle cx="527.3" cy="228.1" r="4"/><circle cx="500.1" cy="235.1" r="4"/><circle cx="499.8" cy="239.4" r="4"/><circle cx="529" cy="225.9" r="4"/><circle cx="517.4" cy="215.3" r="4"/><circle cx="528.4" cy="225.6" r="4"/><circle cx="515.7" cy="222.6" r="4"/><circle cx="518.9" cy="224.6" r="4"/><circle cx="518.3" cy="239.5" r="4"/><circle cx="517.7" cy="230.3" r="4"/><circle cx="521.7" cy="242.8" r="4"/><circle cx="502.3" cy="244.1" r="4"/><circle cx="522.3" cy="210.6" r="4"/><circle cx="517.3" cy="233.8" r="4"/><circle cx="524.4" cy="217.2" r="4"/><circle cx="513.7" cy="237.7" r="4"/><circle cx="505.2" cy="230.3" r="4"/><circle cx="505.7" cy="230" r="4"/><circle cx="516.7" cy="207.9" r="4"/><circle cx="500.2" cy="222.7" r="4"/><circle cx="500" cy="241.9" r="4"/><circle cx="523.8" cy="226.3" r="4"/><circle cx="528.8" cy="232.1" r="4"/><circle cx="499.8" cy="231.3" r="4"/><circle cx="514.8" cy="207.1" r="4"/><circle cx="531.8" cy="231.4" r="4"/><circle cx="508.5" cy="242.5" r="4"/><circle cx="516.8" cy="239.4" r="4"/><circle cx="501.7" cy="244.6" r="4"/><circle cx="499.7" cy="216.6" r="4"/><circle cx="501.1" cy="201" r="4"/><circle cx="500.6" cy="206.5" r="4"/><circle cx="501.3" cy="244.5" r="4"/><circle cx="519.9" cy="238.6" r="4"/><circle cx="520.5" cy="240.3" r="4"/><circle cx="500.1" cy="211.7" r="4"/><circle cx="519.7" cy="212.7" r="4"/><circle cx="520.3" cy="243.2" r="4"/><circle cx="516.2" cy="218.9" r="4"/><circle cx="510.1" cy="205.8" r="4"/><circle cx="504" cy="202.1" r="4"/><circle cx="519.8" cy="244.7" r="4"/><circle cx="499.8" cy="218.3" r="4"/><circle cx="524.2" cy="243.4" r="4"/><circle cx="505.5" cy="215.4" r="4"/><circle cx="502" cy="207.3" r="4"/><circle cx="510.9" cy="243.7" r="4"/><circle cx="507.1" cy="223.5" r="4"/><circle cx="509.3" cy="218.9" r="4"/><circle cx="501.6" cy="210.8" r="4"/><circle cx="507" cy="220" r="4"/><circle cx="516.2" cy="231.7" r="4"/><circle cx="507.7" cy="213" r="4"/><circle cx="530.1" cy="218.8" r="4"/><circle cx="513.8" cy="236.4" r="4"/><circle cx="500.2" cy="200.2" r="4"/><circle cx="519.2" cy="213.9" r="4"/><circle cx="506.1" cy="221.8" r="4"/><circle cx="531.7" cy="217.2" r="4"/><circle cx="515.1" cy="235.9" r="4"/><circle cx="509" cy="207.9" r="4"/><circle cx="507.4" cy="218.1" r="4"/><circle cx="515.2" cy="209.3" r="4"/><circle cx="523.7" cy="237.4" r="4"/><circle cx="499.7" cy="236.6" r="4"/><circle cx="508.8" cy="223.2" r="4"/><circle cx="524.1" cy="212.5" r="4"/><circle cx="500" cy="208.4" r="4"/><circle cx="523.9" cy="213.4" r="4"/><circle cx="514" cy="237.1" r="4"/><circle cx="525.7" cy="216.6" r="4"/><circle cx="518.5" cy="209.5" r="4"/><circle cx="506.5" cy="243" r="4"/><circle cx="513.3" cy="213.9" r="4"/><circle cx="502.7" cy="213.6" r="4"/><circle cx="529.5" cy="239.3" r="4"/><circle cx="515.4" cy="220.2" r="4"/><circle cx="510.2" cy="239.3" r="4"/><circle cx="504" cy="213.9" r="4"/><circle cx="523" cy="230.9" r="4"/><circle cx="500.6" cy="210" r="4"/><circle cx="522.2" cy="239" r="4"/><circle cx="514.3" cy="209" r="4"/><circle cx="527.3" cy="229" r="4"/><circle cx="510.6" cy="223.4" r="4"/><circle cx="502.5" cy="239.5" r="4"/><circle cx="502.3" cy="216.2" r="4"/><circle cx="507" cy="224" r="4"/><circle cx="508.2" cy="226.4" r="4"/><circle cx="501.6" cy="244" r="4"/><circle cx="532.6" cy="235.1" r="4"/><circle cx="500.9" cy="219.5" r="4"/><circle cx="522.8" cy="241.4" r="4"/><circle cx="515" cy="234.5" r="4"/><circle cx="512.1" cy="244.5" r="4"/><circle cx="499.9" cy="199.2" r="4"/><circle cx="526.4" cy="230.3" r="4"/><circle cx="513.9" cy="237.5" r="4"/><circle cx="522.5" cy="232.1" r="4"/><circle cx="530.2" cy="219.5" r="4"/><circle cx="524.2" cy="208.9" r="4"/><circle cx="504" cy="244.1" r="4"/><circle cx="502.7" cy="239.9" r="4"/><circle cx="500.5" cy="243.8" r="4"/><circle cx="513.5" cy="210.2" r="4"/><circle cx="510" cy="205" r="4"/><circle cx="528.4" cy="243.7" r="4"/><circle cx="515" cy="232.4" r="4"/><circle cx="501.1" cy="201.4" r="4"/><circle cx="504" cy="223.5" r="4"/><circle cx="516.7" cy="206.7" r="4"/><circle cx="517.8" cy="232.9" r="4"/><circle cx="509.7" cy="240.8" r="4"/><circle cx="531.1" cy="209.9" r="4"/><circle cx="503.2" cy="244.1" r="4"/><circle cx="504" cy="233.3" r="4"/><circle cx="528.1" cy="212.9" r="4"/><circle cx="525" cy="244.1" r="4"/><circle cx="522.8" cy="220.3" r="4"/><circle cx="516.9" cy="205.3" r="4"/><circle cx="500.2" cy="241" r="4"/><circle cx="521.4" cy="209.1" r="4"/><circle cx="518.1" cy="236.5" r="4"/><circle cx="514.8" cy="216.2" r="4"/><circle cx="500.9" cy="234.2" r="4"/><circle cx="504" cy="241.8" r="4"/><circle cx="510.8" cy="240.6" r="4"/><circle cx="503.6" cy="241.2" r="4"/><circle cx="518.2" cy="244.6" r="4"/><circle cx="519.8" cy="240.1" r="4"/><circle cx="500" cy="202.9" r="4"/><circle cx="503.2" cy="203.5" r="4"/><circle cx="526.4" cy="213.1" r="4"/><circle cx="501.5" cy="228.7" r="4"/><circle cx="500.7" cy="203.1" r="4"/><circle cx="525.3" cy="224.4" r="4"/><circle cx="509.8" cy="234.3" r="4"/><circle cx="524.4" cy="230.4" r="4"/><circle cx="516.2" cy="241.5" r="4"/><circle cx="503.2" cy="243.7" r="4"/><circle cx="519.7" cy="226.6" r="4"/><circle cx="501.6" cy="206.7" r="4"/><circle cx="504.3" cy="230.7" r="4"/><circle cx="501.8" cy="236.4" r="4"/><circle cx="525.2" cy="235.8" r="4"/><circle cx="502" cy="226.7" r="4"/><circle cx="505.7" cy="206.1" r="4"/><circle cx="501" cy="200.2" r="4"/><circle cx="500.2" cy="204.9" r="4"/><circle cx="517.8" cy="239.5" r="4"/><circle cx="510.6" cy="236.4" r="4"/><circle cx="504.1" cy="239.2" r="4"/><circle cx="507" cy="201.6" r="4"/><circle cx="532.7" cy="213.4" r="4"/><circle cx="500.7" cy="235.6" r="4"/><circle cx="527.8" cy="243.9" r="4"/><circle cx="520.2" cy="236.8" r="4"/><circle cx="531.7" cy="244.6" r="4"/><circle cx="523.7" cy="235.4" r="4"/><circle cx="501.5" cy="244.8" r="4"/><circle cx="524.8" cy="228.5" r="4"/><circle cx="502.4" cy="229.4" r="4"/><circle cx="528.5" cy="239.8" r="4"/><circle cx="514" cy="241.6" r="4"/><circle cx="502.3" cy="212.4" r="4"/><circle cx="519.6" cy="240" r="4"/><circle cx="500.5" cy="242.8" r="4"/><circle cx="515.4" cy="228.4" r="4"/><circle cx="504.5" cy="239" r="4"/><circle cx="515.6" cy="218.8" r="4"/><circle cx="523.9" cy="226" r="4"/><circle cx="502.7" cy="243.5" r="4"/><circle cx="520.5" cy="232.6" r="4"/><circle cx="520" cy="243.9" r="4"/><circle cx="523.9" cy="235.6" r="4"/><circle cx="525.3" cy="213.9" r="4"/><circle cx="511.2" cy="244.6" r="4"/><circle cx="528.4" cy="230.9" r="4"/><circle cx="526.6" cy="238.2" r="4"/><circle cx="502.4" cy="209.1" r="4"/><circle cx="507.1" cy="240.6" r="4"/><circle cx="507.2" cy="222.6" r="4"/><circle cx="499.7" cy="225" r="4"/><circle cx="509.6" cy="226.7" r="4"/><circle cx="501.1" cy="215.2" r="4"/><circle cx="524.1" cy="213.5" r="4"/><circle cx="505.7" cy="216.4" r="4"/><circle cx="507.5" cy="214.8" r="4"/><circle cx="500.2" cy="206.2" r="4"/><circle cx="530.5" cy="230.6" r="4"/><circle cx="511.9" cy="226.3" r="4"/><circle cx="512.8" cy="244.5" r="4"/><circle cx="531.2" cy="239.7" r="4"/><circle cx="502.3" cy="242.4" r="4"/><circle cx="503.9" cy="210.3" r="4"/><circle cx="499.9" cy="242.6" r="4"/><circle cx="519" cy="240.1" r="4"/><circle cx="499.8" cy="221" r="4"/><circle cx="514.2" cy="227" r="4"/><circle cx="519.2" cy="242.7" r="4"/><circle cx="526.5" cy="220.8" r="4"/><circle cx="500.1" cy="241.7" r="4"/><circle cx="511.2" cy="227.6" r="4"/><circle cx="504.6" cy="241.9" r="4"/><circle cx="508.3" cy="241.5" r="4"/><circle cx="514.8" cy="211" r="4"/><circle cx="501.6" cy="222.7" r="4"/><circle cx="521.1" cy="241.1" r="4"/><circle cx="524.5" cy="210.2" r="4"/><circle cx="507.7" cy="230.7" r="4"/><circle cx="525.2" cy="228.6" r="4"/><circle cx="508" cy="204.7" r="4"/><circle cx="522.4" cy="235.4" r="4"/><circle cx="503.6" cy="233.9" r="4"/><circle cx="509.2" cy="202.9" r="4"/><circle cx="523.6" cy="211.1" r="4"/><circle cx="524" cy="214.3" r="4"/><circle cx="500.1" cy="225.2" r="4"/><circle cx="530.7" cy="212.3" r="4"/><circle cx="503.8" cy="230.2" r="4"/><circle cx="516.4" cy="233.9" r="4"/><circle cx="512.5" cy="243.5" r="4"/><circle cx="509.2" cy="227.1" r="4"/><circle cx="499.8" cy="241.2" r="4"/><circle cx="531.3" cy="219.4" r="4"/><circle cx="529.7" cy="225" r="4"/><circle cx="523.8" cy="212.5" r="4"/><circle cx="527.2" cy="244.3" r="4"/><circle cx="516.7" cy="237.6" r="4"/><circle cx="518.2" cy="237.4" r="4"/><circle cx="512.9" cy="207.2" r="4"/><circle cx="515.9" cy="238.1" r="4"/><circle cx="512.1" cy="230.6" r="4"/><circle cx="530.4" cy="237.7" r="4"/><circle cx="505.3" cy="219.6" r="4"/><circle cx="501.1" cy="221.5" r="4"/><circle cx="530.6" cy="229.9" r="4"/><circle cx="504.3" cy="228.2" r="4"/><circle cx="512.6" cy="241.3" r="4"/><circle cx="501.2" cy="241.5" r="4"/><circle cx="505" cy="231" r="4"/><circle cx="504.9" cy="237.7" r="4"/><circle cx="500.6" cy="223.8" r="4"/><circle cx="525.2" cy="225.1" r="4"/><circle cx="514" cy="221.2" r="4"/><circle cx="502.7" cy="215.8" r="4"/><circle cx="510.1" cy="225.3" r="4"/><circle cx="515.6" cy="229.6" r="4"/><circle cx="505.5" cy="237.8" r="4"/><circle cx="503.2" cy="225.9" r="4"/><circle cx="507.6" cy="223.1" r="4"/><circle cx="499.8" cy="232.8" r="4"/><circle cx="526.2" cy="239" r="4"/><circle cx="513.5" cy="228.3" r="4"/><circle cx="504.8" cy="201" r="4"/><circle cx="505" cy="213" r="4"/><circle cx="501.8" cy="243.4" r="4"/><circle cx="526.6" cy="232.1" r="4"/><circle cx="500.2" cy="231.3" r="4"/><circle cx="509.4" cy="216" r="4"/><circle cx="500.9" cy="238.2" r="4"/><circle cx="530.8" cy="220.9" r="4"/><circle cx="501.7" cy="233.7" r="4"/><circle cx="506.7" cy="218.5" r="4"/><circle cx="515.7" cy="211.9" r="4"/><circle cx="524.3" cy="228.8" r="4"/><circle cx="520.7" cy="218.3" r="4"/><circle cx="521.6" cy="230.1" r="4"/><circle cx="522.7" cy="220.4" r="4"/><circle cx="528.6" cy="242.3" r="4"/><circle cx="526.6" cy="244.7" r="4"/><circle cx="521.9" cy="225.6" r="4"/><circle cx="511.3" cy="204.6" r="4"/><circle cx="514" cy="231.5" r="4"/><circle cx="522.7" cy="212.7" r="4"/><circle cx="515.4" cy="233.2" r="4"/><circle cx="509.8" cy="229.3" r="4"/><circle cx="520.1" cy="236.8" r="4"/><circle cx="507.8" cy="224.6" r="4"/><circle cx="507.6" cy="234.8" r="4"/><circle cx="522.8" cy="213.9" r="4"/><circle cx="511.4" cy="230.1" r="4"/><circle cx="502.3" cy="235.1" r="4"/><circle cx="501.6" cy="222.5" r="4"/><circle cx="514.4" cy="243" r="4"/><circle cx="528.9" cy="236.4" r="4"/><circle cx="525.3" cy="215.1" r="4"/><circle cx="530.8" cy="240.3" r="4"/><circle cx="508.9" cy="206.7" r="4"/><circle cx="499.8" cy="243.9" r="4"/><circle cx="513.8" cy="228.1" r="4"/><circle cx="528.9" cy="219" r="4"/><circle cx="512.8" cy="203.2" r="4"/><circle cx="512" cy="227" r="4"/><circle cx="518.5" cy="233.1" r="4"/><circle cx="506.8" cy="222.5" r="4"/><circle cx="506.6" cy="203.9" r="4"/><circle cx="518.1" cy="227.5" r="4"/><circle cx="500.8" cy="232" r="4"/><circle cx="508.1" cy="224.3" r="4"/><circle cx="514.1" cy="209.9" r="4"/><circle cx="531" cy="230.9" r="4"/><circle cx="509.4" cy="221.5" r="4"/><circle cx="532.6" cy="236.1" r="4"/><circle cx="512.5" cy="212.7" r="4"/><circle cx="502.1" cy="234.5" r="4"/><circle cx="531.7" cy="217.4" r="4"/><circle cx="511.9" cy="242.4" r="4"/><circle cx="527.7" cy="222.3" r="4"/><circle cx="524.3" cy="207.6" r="4"/><circle cx="527.4" cy="232.9" r="4"/><circle cx="501.8" cy="235.7" r="4"/><circle cx="511.8" cy="227.5" r="4"/><circle cx="502.4" cy="239.8" r="4"/><circle cx="516.3" cy="223.8" r="4"/><circle cx="506.7" cy="201.3" r="4"/><circle cx="516.5" cy="244.1" r="4"/><circle cx="508.5" cy="213.1" r="4"/><circle cx="505.4" cy="217.4" r="4"/><circle cx="499.7" cy="234.9" r="4"/><circle cx="525.3" cy="226.1" r="4"/><circle cx="517.8" cy="239.9" r="4"/><circle cx="511.3" cy="225.2" r="4"/><circle cx="504.3" cy="219.4" r="4"/><circle cx="512.5" cy="203.1" r="4"/><circle cx="514.1" cy="231.8" r="4"/><circle cx="501.1" cy="240.7" r="4"/><circle cx="521.6" cy="242.7" r="4"/><circle cx="500.8" cy="240.2" r="4"/><circle cx="512.2" cy="212.2" r="4"/><circle cx="515.6" cy="214" r="4"/><circle cx="500.2" cy="244.6" r="4"/><circle cx="522.1" cy="235.9" r="4"/><circle cx="519.7" cy="234.6" r="4"/><circle cx="502" cy="236.6" r="4"/><circle cx="500.8" cy="204.5" r="4"/><circle cx="514.4" cy="234.3" r="4"/><circle cx="509.7" cy="232.4" r="4"/><circle cx="500.2" cy="205.1" r="4"/><circle cx="514.4" cy="205.8" r="4"/><circle cx="509.4" cy="221.7" r="4"/><circle cx="503.9" cy="244" r="4"/><circle cx="529.4" cy="215.5" r="4"/><circle cx="505.6" cy="206.3" r="4"/><circle cx="524.1" cy="236.8" r="4"/><circle cx="515.2" cy="206" r="4"/><circle cx="511.3" cy="205.3" r="4"/><circle cx="503.7" cy="231.6" r="4"/><circle cx="519.9" cy="239.2" r="4"/><circle cx="505.4" cy="207.5" r="4"/><circle cx="510.9" cy="213.4" r="4"/><circle cx="503.7" cy="240.2" r="4"/><circle cx="506.8" cy="239.8" r="4"/><circle cx="531.4" cy="237.7" r="4"/><circle cx="513.6" cy="242.3" r="4"/><circle cx="512.6" cy="232.7" r="4"/><circle cx="508.2" cy="243.5" r="4"/><circle cx="501.2" cy="209.1" r="4"/><circle cx="506.6" cy="237.7" r="4"/><circle cx="502.5" cy="236" r="4"/><circle cx="503.6" cy="244.2" r="4"/><circle cx="517.6" cy="234.9" r="4"/><circle cx="501.8" cy="215.8" r="4"/><circle cx="500.7" cy="236.4" r="4"/><circle cx="524.9" cy="242.2" r="4"/><circle cx="509.5" cy="210.8" r="4"/><circle cx="523.6" cy="241.3" r="4"/><circle cx="506.7" cy="216" r="4"/><circle cx="507.4" cy="203.5" r="4"/><circle cx="502.9" cy="202.5" r="4"/><circle cx="511.6" cy="238.6" r="4"/><circle cx="509.8" cy="241.7" r="4"/><circle cx="519.4" cy="237.9" r="4"/><circle cx="527.9" cy="226.5" r="4"/><circle cx="507.1" cy="237.7" r="4"/><circle cx="515.4" cy="239.3" r="4"/><circle cx="526.7" cy="242.4" r="4"/><circle cx="511.9" cy="225.8" r="4"/><circle cx="504.4" cy="212.9" r="4"/><circle cx="507.6" cy="219.5" r="4"/><circle cx="513.9" cy="235.7" r="4"/><circle cx="507.8" cy="243" r="4"/><circle cx="502.2" cy="208" r="4"/><circle cx="505.7" cy="218.9" r="4"/><circle cx="500.9" cy="223.1" r="4"/><circle cx="506.9" cy="227" r="4"/><circle cx="505.1" cy="243.5" r="4"/><circle cx="505.5" cy="238.4" r="4"/><circle cx="501.2" cy="215.1" r="4"/><circle cx="504.7" cy="231.1" r="4"/><circle cx="528.4" cy="218.8" r="4"/><circle cx="527.1" cy="214.6" r="4"/><circle cx="501.3" cy="236.2" r="4"/><circle cx="499.9" cy="216.8" r="4"/><circle cx="517.6" cy="234.5" r="4"/><circle cx="508.5" cy="219.6" r="4"/><circle cx="519.1" cy="238.3" r="4"/><circle cx="525.5" cy="235.2" r="4"/><circle cx="516.2" cy="240.4" r="4"/><circle cx="501" cy="204.1" r="4"/><circle cx="520.5" cy="219.7" r="4"/><circle cx="500" cy="244.1" r="4"/><circle cx="501.9" cy="239.2" r="4"/><circle cx="505.3" cy="232.1" r="4"/><circle cx="500" cy="234.7" r="4"/><circle cx="516.6" cy="240.4" r="4"/><circle cx="525.2" cy="226.8" r="4"/><circle cx="519.8" cy="238.1" r="4"/><circle cx="509.2" cy="218.5" r="4"/><circle cx="506.6" cy="244.8" r="4"/><circle cx="524.9" cy="217.8" r="4"/><circle cx="504.8" cy="244" r="4"/><circle cx="525.8" cy="225.4" r="4"/><circle cx="500.1" cy="237.4" r="4"/><circle cx="501" cy="211" r="4"/><circle cx="502.9" cy="204.6" r="4"/><circle cx="521.2" cy="243.2" r="4"/><circle cx="518.9" cy="233" r="4"/><circle cx="521.1" cy="214.4" r="4"/><circle cx="504.7" cy="242.8" r="4"/><circle cx="530.2" cy="233.1" r="4"/><circle cx="529.4" cy="222.6" r="4"/><circle cx="520.7" cy="214.2" r="4"/><circle cx="516.2" cy="230.3" r="4"/><circle cx="500.2" cy="215.9" r="4"/><circle cx="509" cy="226.8" r="4"/><circle cx="529.3" cy="242.3" r="4"/><circle cx="521.7" cy="244.1" r="4"/><circle cx="519.2" cy="215" r="4"/><circle cx="504.1" cy="224.4" r="4"/><circle cx="531.3" cy="225.2" r="4"/><circle cx="513" cy="237.9" r="4"/><circle cx="500.2" cy="232.7" r="4"/><circle cx="508.5" cy="239.4" r="4"/><circle cx="505.5" cy="241.4" r="4"/><circle cx="519.4" cy="221.4" r="4"/><circle cx="503.6" cy="237.7" r="4"/><circle cx="512" cy="230.1" r="4"/><circle cx="529.7" cy="235.6" r="4"/><circle cx="505.1" cy="206.9" r="4"/><circle cx="501.5" cy="223.1" r="4"/><circle cx="506.1" cy="211" r="4"/><circle cx="513.2" cy="215.7" r="4"/><circle cx="502" cy="217.9" r="4"/><circle cx="515" cy="229.8" r="4"/><circle cx="521.9" cy="214.5" r="4"/><circle cx="501" cy="235.6" r="4"/><circle cx="506.9" cy="239.1" r="4"/><circle cx="500.2" cy="235.9" r="4"/><circle cx="502.6" cy="216.2" r="4"/><circle cx="509.6" cy="242.3" r="4"/><circle cx="505.8" cy="228.3" r="4"/><circle cx="507" cy="240.5" r="4"/><circle cx="500.4" cy="244.6" r="4"/><circle cx="532.4" cy="220.8" r="4"/><circle cx="500.5" cy="214.9" r="4"/><circle cx="531.8" cy="228.1" r="4"/><circle cx="500.9" cy="226.7" r="4"/><circle cx="509.2" cy="239.8" r="4"/><circle cx="513" cy="244.7" r="4"/><circle cx="528.9" cy="224.4" r="4"/><circle cx="516.2" cy="207.6" r="4"/><circle cx="517.2" cy="238.1" r="4"/><circle cx="503.8" cy="241.3" r="4"/><circle cx="499.9" cy="211.6" r="4"/><circle cx="525.2" cy="237.1" r="4"/><circle cx="502.4" cy="219.5" r="4"/><circle cx="525.4" cy="211" r="4"/><circle cx="502" cy="211.6" r="4"/><circle cx="524.7" cy="219.3" r="4"/><circle cx="505.9" cy="239.9" r="4"/><circle cx="524.5" cy="236.2" r="4"/><circle cx="507.1" cy="224.6" r="4"/><circle cx="507.2" cy="210.4" r="4"/><circle cx="503.6" cy="244.1" r="4"/><circle cx="513.8" cy="222.2" r="4"/><circle cx="524.3" cy="220.8" r="4"/><circle cx="528.2" cy="211" r="4"/><circle cx="511.2" cy="227.6" r="4"/><circle cx="501.8" cy="235.3" r="4"/><circle cx="514.4" cy="243.2" r="4"/><circle cx="518.6" cy="241" r="4"/><circle cx="509.5" cy="203.6" r="4"/><circle cx="500.6" cy="244.1" r="4"/><circle cx="509.4" cy="239.8" r="4"/><circle cx="520" cy="244.8" r="4"/><circle cx="525.2" cy="214.3" r="4"/><circle cx="522.8" cy="232.2" r="4"/><circle cx="500.6" cy="222.7" r="4"/><circle cx="501.3" cy="207" r="4"/><circle cx="500.7" cy="208.1" r="4"/><circle cx="501.7" cy="233.4" r="4"/><circle cx="502.4" cy="190.2" r="4"/><circle cx="500.6" cy="208.4" r="4"/><circle cx="501.4" cy="202.2" r="4"/><circle cx="500.3" cy="185.1" r="4"/><circle cx="500.7" cy="209.6" r="4"/><circle cx="502.6" cy="238.8" r="4"/><circle cx="502.3" cy="243.1" r="4"/><circle cx="502.6" cy="220" r="4"/><circle cx="502.1" cy="183.4" r="4"/><circle cx="501.7" cy="219.3" r="4"/><circle cx="500.6" cy="216.8" r="4"/><circle cx="502.6" cy="210.9" r="4"/><circle cx="501.7" cy="199" r="4"/><circle cx="500.8" cy="237.3" r="4"/><circle cx="499.8" cy="191.8" r="4"/><circle cx="501.8" cy="208.7" r="4"/><circle cx="500" cy="222.6" r="4"/><circle cx="500.8" cy="217.4" r="4"/><circle cx="501" cy="214.1" r="4"/><circle cx="501.4" cy="205.4" r="4"/><circle cx="500.1" cy="191.3" r="4"/><circle cx="502.4" cy="215.3" r="4"/><circle cx="500.1" cy="235.8" r="4"/><circle cx="500.5" cy="185.7" r="4"/><circle cx="501.3" cy="195.9" r="4"/><circle cx="501.2" cy="215.7" r="4"/><circle cx="500.4" cy="216.9" r="4"/><circle cx="500.1" cy="213" r="4"/><circle cx="501.5" cy="184.7" r="4"/><circle cx="501" cy="184.3" r="4"/><circle cx="501" cy="235.9" r="4"/><circle cx="501.4" cy="226.1" r="4"/><circle cx="502" cy="187" r="4"/><circle cx="502.7" cy="226.6" r="4"/><circle cx="500" cy="233.7" r="4"/><circle cx="500.9" cy="190.7" r="4"/><circle cx="502.6" cy="216.3" r="4"/><circle cx="502" cy="188.4" r="4"/><circle cx="502" cy="183.3" r="4"/><circle cx="500.4" cy="203.8" r="4"/><circle cx="499.8" cy="218.3" r="4"/><circle cx="500.4" cy="199.1" r="4"/><circle cx="501.8" cy="207.3" r="4"/><circle cx="502.4" cy="220" r="4"/><circle cx="502.3" cy="216.2" r="4"/><circle cx="502.5" cy="236.3" r="4"/><circle cx="500.2" cy="228.2" r="4"/><circle cx="500.8" cy="229.3" r="4"/><circle cx="501.8" cy="233.4" r="4"/><circle cx="500.1" cy="203.9" r="4"/><circle cx="501.9" cy="241.4" r="4"/><circle cx="501.9" cy="182.4" r="4"/><circle cx="501.5" cy="186" r="4"/><circle cx="501.4" cy="231.9" r="4"/><circle cx="500.1" cy="239.9" r="4"/><circle cx="501.7" cy="196.1" r="4"/><circle cx="500.3" cy="208.7" r="4"/><circle cx="502.2" cy="217.5" r="4"/><circle cx="500.1" cy="180.9" r="4"/><circle cx="500.1" cy="231.8" r="4"/><circle cx="500.3" cy="215.7" r="4"/><circle cx="500.6" cy="224.4" r="4"/><circle cx="500.9" cy="188.9" r="4"/><circle cx="502.3" cy="214.6" r="4"/><circle cx="501.8" cy="232.3" r="4"/><circle cx="502.6" cy="180.4" r="4"/><circle cx="500.8" cy="189.4" r="4"/><circle cx="501.2" cy="236.5" r="4"/><circle cx="502.1" cy="181.8" r="4"/><circle cx="500.3" cy="232.9" r="4"/><circle cx="501.8" cy="205.1" r="4"/><circle cx="501.2" cy="189.8" r="4"/><circle cx="502.3" cy="205.2" r="4"/><circle cx="502.3" cy="219.4" r="4"/><circle cx="500" cy="201" r="4"/><circle cx="500.4" cy="237.9" r="4"/><circle cx="501.5" cy="182.4" r="4"/><circle cx="500.2" cy="203.1" r="4"/><circle cx="501.1" cy="217.2" r="4"/><circle cx="500.9" cy="202.6" r="4"/><circle cx="499.8" cy="217.3" r="4"/><circle cx="500.7" cy="180.9" r="4"/><circle cx="501.1" cy="243.9" r="4"/><circle cx="499.9" cy="189" r="4"/><circle cx="501.7" cy="197.3" r="4"/><circle cx="500.6" cy="212.1" r="4"/><circle cx="500.5" cy="216.6" r="4"/><circle cx="501.3" cy="242" r="4"/><circle cx="502.7" cy="181.7" r="4"/><circle cx="501.4" cy="229.8" r="4"/><circle cx="502.3" cy="230" r="4"/><circle cx="501.6" cy="220.9" r="4"/><circle cx="500.8" cy="197.9" r="4"/><circle cx="502.1" cy="236.5" r="4"/><circle cx="502.5" cy="224" r="4"/><circle cx="500.6" cy="229.3" r="4"/><circle cx="501.9" cy="212.7" r="4"/><circle cx="501.6" cy="202.4" r="4"/><circle cx="501.4" cy="206" r="4"/><circle cx="499.9" cy="201.5" r="4"/><circle cx="500.7" cy="244" r="4"/><circle cx="501.2" cy="203.5" r="4"/><circle cx="500.5" cy="194.8" r="4"/><circle cx="500.8" cy="188.4" r="4"/><circle cx="499.8" cy="236.3" r="4"/><circle cx="501.1" cy="208.6" r="4"/><circle cx="501.4" cy="199.2" r="4"/><circle cx="500.2" cy="183.8" r="4"/><circle cx="500.6" cy="199.6" r="4"/><circle cx="501.9" cy="215.5" r="4"/><circle cx="502.5" cy="201.7" r="4"/><circle cx="502.5" cy="217.6" r="4"/><circle cx="500" cy="191.2" r="4"/><circle cx="501.5" cy="244" r="4"/><circle cx="500.8" cy="230.1" r="4"/><circle cx="501" cy="236.2" r="4"/>
</g>
<rect x="487.8" y="50.7" width="280.4" height="201.5" fill="none" stroke="#000" stroke-width="2"/>
<line x1="203.3" y1="300.1" x2="203.3" y2="500" stroke="#E3E3E3" stroke-width="2"/>
<line x1="190.2" y1="491" x2="468.1" y2="491" stroke="#E3E3E3" stroke-width="2"/>
<text x="304.9" y="289.7" font-size="31.9" fill="#6472B3" textLength="51.30" lengthAdjust="spacingAndGlyphs">Ser</text>
<g fill="#6472B3">
<circle cx="203.3" cy="425.2" r="4"/><circle cx="203.3" cy="437.1" r="4"/><circle cx="228.6" cy="441.4" r="4"/><circle cx="203.3" cy="463.2" r="4"/><circle cx="219" cy="461.1" r="4"/><circle cx="231.4" cy="475.3" r="4"/><circle cx="210.4" cy="473.1" r="4"/><circle cx="239" cy="485.5" r="4"/><circle cx="243.4" cy="491" r="4"/><circle cx="308.2" cy="491" r="4"/><circle cx="226.1" cy="481.4" r="4"/><circle cx="214.5" cy="481.4" r="4"/><circle cx="203" cy="484" r="4"/><circle cx="230.1" cy="488.9" r="4"/><circle cx="207.1" cy="491.4" r="4"/><circle cx="204.9" cy="488" r="4"/><circle cx="222" cy="490.1" r="4"/><circle cx="211.2" cy="489.5" r="4"/><circle cx="218.2" cy="482.1" r="4"/><circle cx="219.8" cy="490.1" r="4"/><circle cx="223.2" cy="476.6" r="4"/><circle cx="218.1" cy="491.1" r="4"/><circle cx="226.3" cy="479.4" r="4"/><circle cx="209.4" cy="490.2" r="4"/><circle cx="205.4" cy="483.5" r="4"/><circle cx="229" cy="484" r="4"/><circle cx="231.1" cy="489.7" r="4"/><circle cx="209" cy="480.7" r="4"/><circle cx="219.9" cy="488" r="4"/><circle cx="221" cy="488.9" r="4"/><circle cx="202.9" cy="485.3" r="4"/><circle cx="202.7" cy="481.2" r="4"/><circle cx="209.2" cy="485" r="4"/><circle cx="218" cy="489.4" r="4"/><circle cx="213.3" cy="491.5" r="4"/><circle cx="231.2" cy="485.5" r="4"/><circle cx="233.9" cy="491.5" r="4"/><circle cx="218.6" cy="484" r="4"/><circle cx="209.1" cy="490.7" r="4"/><circle cx="204.7" cy="489.9" r="4"/><circle cx="224.5" cy="490.8" r="4"/><circle cx="226.4" cy="486.5" r="4"/><circle cx="215.8" cy="485.1" r="4"/><circle cx="216.4" cy="484.3" r="4"/><circle cx="218.1" cy="488.6" r="4"/><circle cx="223.5" cy="488.6" r="4"/><circle cx="222.3" cy="484.7" r="4"/><circle cx="224.9" cy="488" r="4"/><circle cx="224.7" cy="477" r="4"/><circle cx="212.9" cy="488.7" r="4"/><circle cx="215.3" cy="479.9" r="4"/><circle cx="204.2" cy="491.6" r="4"/><circle cx="213.7" cy="483.6" r="4"/><circle cx="224.8" cy="487.2" r="4"/><circle cx="234" cy="490.9" r="4"/><circle cx="224.1" cy="490.8" r="4"/><circle cx="202.5" cy="490" r="4"/><circle cx="202.9" cy="483.7" r="4"/><circle cx="216.4" cy="490.1" r="4"/><circle cx="231.8" cy="488.1" r="4"/><circle cx="204.5" cy="489.4" r="4"/><circle cx="223.3" cy="477.4" r="4"/><circle cx="204.8" cy="491.4" r="4"/><circle cx="225" cy="488.9" r="4"/><circle cx="233.7" cy="489.7" r="4"/><circle cx="219.4" cy="488.6" r="4"/><circle cx="225.9" cy="485.9" r="4"/><circle cx="208.9" cy="477.9" r="4"/><circle cx="203.7" cy="479.3" r="4"/><circle cx="203" cy="480.9" r="4"/><circle cx="211.3" cy="479.5" r="4"/><circle cx="202.9" cy="482.5" r="4"/><circle cx="211.5" cy="478.7" r="4"/><circle cx="232.1" cy="484.9" r="4"/><circle cx="206.3" cy="488.4" r="4"/><circle cx="207.2" cy="485.6" r="4"/><circle cx="206.4" cy="489.2" r="4"/><circle cx="224.2" cy="482.6" r="4"/><circle cx="208.2" cy="475.9" r="4"/><circle cx="206.1" cy="483.1" r="4"/><circle cx="204.7" cy="477" r="4"/><circle cx="228.8" cy="488.9" r="4"/><circle cx="223.9" cy="479.4" r="4"/><circle cx="207.8" cy="487.4" r="4"/><circle cx="214" cy="480.1" r="4"/><circle cx="204.8" cy="480.6" r="4"/><circle cx="218" cy="487.2" r="4"/><circle cx="217.3" cy="481.5" r="4"/><circle cx="205.9" cy="477.1" r="4"/><circle cx="210" cy="480.5" r="4"/><circle cx="228.5" cy="489.9" r="4"/><circle cx="228.5" cy="478.4" r="4"/><circle cx="208.2" cy="491.4" r="4"/><circle cx="203.8" cy="474.3" r="4"/><circle cx="202.3" cy="475.1" r="4"/><circle cx="204.6" cy="479.5" r="4"/><circle cx="203.5" cy="489.5" r="4"/><circle cx="221.2" cy="491.1" r="4"/><circle cx="209.4" cy="477.8" r="4"/><circle cx="222.5" cy="483.5" r="4"/><circle cx="233.6" cy="491.5" r="4"/><circle cx="206.5" cy="479.1" r="4"/><circle cx="221.4" cy="491.4" r="4"/><circle cx="214.7" cy="489.4" r="4"/><circle cx="212.2" cy="490.7" r="4"/><circle cx="202.4" cy="473.4" r="4"/><circle cx="208.7" cy="478.3" r="4"/><circle cx="204" cy="484.1" r="4"/><circle cx="204.3" cy="485.2" r="4"/><circle cx="205.2" cy="480.7" r="4"/><circle cx="204.5" cy="479.5" r="4"/><circle cx="214.5" cy="490.7" r="4"/><circle cx="209.8" cy="485.1" r="4"/><circle cx="230.9" cy="488.2" r="4"/><circle cx="206" cy="475.5" r="4"/><circle cx="229.4" cy="482.7" r="4"/><circle cx="207.5" cy="489.6" r="4"/><circle cx="207.3" cy="491" r="4"/><circle cx="202.7" cy="483.5" r="4"/><circle cx="211.5" cy="484.5" r="4"/><circle cx="210.1" cy="491.6" r="4"/><circle cx="221.4" cy="485.7" r="4"/><circle cx="216" cy="485.6" r="4"/><circle cx="221.5" cy="482" r="4"/><circle cx="229" cy="482.8" r="4"/><circle cx="211.2" cy="488" r="4"/><circle cx="211.8" cy="477.9" r="4"/><circle cx="210.8" cy="487" r="4"/><circle cx="211.5" cy="490.2" r="4"/><circle cx="234.4" cy="491.6" r="4"/><circle cx="218.3" cy="481.3" r="4"/><circle cx="207" cy="482.6" r="4"/><circle cx="210.5" cy="488.9" r="4"/><circle cx="205.6" cy="490.3" r="4"/><circle cx="227.7" cy="481.4" r="4"/><circle cx="230.5" cy="491.3" r="4"/><circle cx="221.6" cy="489.1" r="4"/><circle cx="219.8" cy="486.4" r="4"/><circle cx="208.7" cy="476.5" r="4"/><circle cx="202.3" cy="478.6" r="4"/><circle cx="228.1" cy="485.6" r="4"/><circle cx="217.8" cy="480.2" r="4"/><circle cx="206.5" cy="482.1" r="4"/><circle cx="223.6" cy="486.8" r="4"/><circle cx="222.3" cy="488.5" r="4"/><circle cx="215.4" cy="484.6" r="4"/><circle cx="221" cy="489" r="4"/><circle cx="219.1" cy="486.4" r="4"/><circle cx="206.2" cy="482.3" r="4"/><circle cx="207.3" cy="477.1" r="4"/><circle cx="213.6" cy="482.6" r="4"/><circle cx="215.3" cy="486.4" r="4"/><circle cx="206.2" cy="490" r="4"/><circle cx="231.3" cy="486" r="4"/><circle cx="215.3" cy="485.8" r="4"/><circle cx="226.4" cy="489.1" r="4"/><circle cx="205" cy="478" r="4"/><circle cx="213.2" cy="483.6" r="4"/><circle cx="227" cy="479.4" r="4"/><circle cx="228.7" cy="491.3" r="4"/><circle cx="210.6" cy="479.8" r="4"/><circle cx="226.6" cy="490.5" r="4"/><circle cx="204.6" cy="488.3" r="4"/><circle cx="203.6" cy="486.4" r="4"/><circle cx="226" cy="485" r="4"/><circle cx="212.9" cy="490.9" r="4"/><circle cx="211.1" cy="477.1" r="4"/><circle cx="221.7" cy="487.9" r="4"/><circle cx="213.8" cy="481.4" r="4"/><circle cx="224.2" cy="490.1" r="4"/><circle cx="221.1" cy="488.6" r="4"/><circle cx="215.2" cy="489.4" r="4"/><circle cx="210.3" cy="487.5" r="4"/><circle cx="210.6" cy="491.5" r="4"/><circle cx="205.7" cy="483" r="4"/><circle cx="202.9" cy="489.3" r="4"/><circle cx="222.6" cy="489.6" r="4"/><circle cx="208.9" cy="488.8" r="4"/><circle cx="227.3" cy="490.8" r="4"/><circle cx="219.4" cy="482.6" r="4"/><circle cx="205.7" cy="485.6" r="4"/><circle cx="225.5" cy="483.4" r="4"/><circle cx="210.4" cy="491.3" r="4"/><circle cx="212.6" cy="487.5" r="4"/><circle cx="222.3" cy="489.4" r="4"/><circle cx="211.5" cy="483.1" r="4"/><circle cx="226.3" cy="487.5" r="4"/><circle cx="210.8" cy="484" r="4"/><circle cx="231.2" cy="490" r="4"/><circle cx="233.2" cy="488.6" r="4"/><circle cx="210.4" cy="482.5" r="4"/><circle cx="209.1" cy="491" r="4"/><circle cx="224.1" cy="486.8" r="4"/><circle cx="215.4" cy="486.2" r="4"/><circle cx="230.1" cy="482.6" r="4"/><circle cx="202.5" cy="481.8" r="4"/><circle cx="213.2" cy="486.2" r="4"/><circle cx="227.5" cy="486.8" r="4"/><circle cx="213.6" cy="480" r="4"/><circle cx="212.5" cy="485.7" r="4"/><circle cx="214.9" cy="481.4" r="4"/><circle cx="220.7" cy="484.5" r="4"/><circle cx="211.3" cy="491.3" r="4"/><circle cx="221.1" cy="486.7" r="4"/><circle cx="224.6" cy="480.6" r="4"/><circle cx="203.9" cy="488.7" r="4"/><circle cx="203.2" cy="477.4" r="4"/><circle cx="203.6" cy="490.6" r="4"/><circle cx="224" cy="483.9" r="4"/><circle cx="202.8" cy="480.1" r="4"/><circle cx="222.3" cy="487.7" r="4"/><circle cx="202.8" cy="479.9" r="4"/><circle cx="211.8" cy="484.2" r="4"/><circle cx="234.4" cy="488.4" r="4"/><circle cx="228.9" cy="490.3" r="4"/><circle cx="209.2" cy="484.6" r="4"/><circle cx="202.3" cy="473.4" r="4"/><circle cx="207.6" cy="488.4" r="4"/><circle cx="208.6" cy="488.6" r="4"/><circle cx="228.3" cy="485" r="4"/><circle cx="214.9" cy="487.1" r="4"/><circle cx="202.8" cy="487.2" r="4"/><circle cx="228.7" cy="481.5" r="4"/><circle cx="228.2" cy="489" r="4"/><circle cx="205.7" cy="491.1" r="4"/><circle cx="215.8" cy="487.8" r="4"/><circle cx="213.3" cy="485.9" r="4"/><circle cx="217.5" cy="488.1" r="4"/><circle cx="225.9" cy="489.5" r="4"/><circle cx="230.9" cy="485.6" r="4"/><circle cx="202.8" cy="487.1" r="4"/><circle cx="215.6" cy="487.3" r="4"/><circle cx="216.8" cy="488.5" r="4"/><circle cx="207.5" cy="479.3" r="4"/><circle cx="208" cy="481.1" r="4"/><circle cx="226" cy="483.9" r="4"/><circle cx="213" cy="479" r="4"/><circle cx="212.7" cy="479.8" r="4"/><circle cx="202.9" cy="484.9" r="4"/><circle cx="219.5" cy="491.3" r="4"/><circle cx="228.5" cy="491.1" r="4"/><circle cx="217.9" cy="490.2" r="4"/><circle cx="231.1" cy="485.5" r="4"/><circle cx="225.9" cy="485.3" r="4"/><circle cx="220.8" cy="485.3" r="4"/><circle cx="208.1" cy="489.2" r="4"/><circle cx="227.5" cy="490.3" r="4"/><circle cx="230.9" cy="489.8" r="4"/><circle cx="203.6" cy="490.6" r="4"/><circle cx="225.2" cy="477.7" r="4"/><circle cx="211.7" cy="483" r="4"/><circle cx="207.1" cy="477.1" r="4"/><circle cx="221.3" cy="490.6" r="4"/><circle cx="202.9" cy="479.8" r="4"/><circle cx="202.7" cy="476.8" r="4"/><circle cx="208.1" cy="488.9" r="4"/><circle cx="217.4" cy="488.7" r="4"/><circle cx="216.6" cy="490.3" r="4"/><circle cx="230.6" cy="488.4" r="4"/><circle cx="227.6" cy="490.2" r="4"/><circle cx="225.8" cy="477.5" r="4"/><circle cx="211" cy="491.4" r="4"/><circle cx="210.6" cy="483" r="4"/><circle cx="206.2" cy="483.5" r="4"/><circle cx="203.5" cy="484.5" r="4"/><circle cx="223" cy="485.9" r="4"/><circle cx="221" cy="490.9" r="4"/><circle cx="227" cy="490.5" r="4"/><circle cx="231.1" cy="479.5" r="4"/><circle cx="231.8" cy="486.1" r="4"/><circle cx="208" cy="487.1" r="4"/><circle cx="223.8" cy="485" r="4"/><circle cx="231.4" cy="490.9" r="4"/><circle cx="214" cy="480.5" r="4"/><circle cx="218" cy="486.1" r="4"/><circle cx="203.4" cy="489.9" r="4"/><circle cx="207.5" cy="477.5" r="4"/><circle cx="227.8" cy="489.3" r="4"/><circle cx="231.2" cy="491.4" r="4"/><circle cx="218" cy="480.6" r="4"/><circle cx="209.5" cy="477.4" r="4"/><circle cx="220.2" cy="491.3" r="4"/><circle cx="209.2" cy="485.7" r="4"/><circle cx="206.9" cy="480.1" r="4"/><circle cx="205.2" cy="478.7" r="4"/><circle cx="208.2" cy="491" r="4"/><circle cx="216.6" cy="490.9" r="4"/><circle cx="216.3" cy="482.5" r="4"/><circle cx="217.9" cy="487.1" r="4"/><circle cx="202.6" cy="483.4" r="4"/><circle cx="203.5" cy="481" r="4"/><circle cx="204.2" cy="482.5" r="4"/><circle cx="209.8" cy="487" r="4"/><circle cx="220.4" cy="490.4" r="4"/><circle cx="205" cy="475.5" r="4"/><circle cx="209.2" cy="479.1" r="4"/><circle cx="228.9" cy="486.2" r="4"/><circle cx="204.5" cy="490.6" r="4"/><circle cx="229.2" cy="490.6" r="4"/><circle cx="214.4" cy="485.4" r="4"/><circle cx="203.9" cy="484.5" r="4"/><circle cx="204.9" cy="483.4" r="4"/><circle cx="214.7" cy="487.7" r="4"/><circle cx="205.6" cy="485.9" r="4"/><circle cx="205.8" cy="490.2" r="4"/><circle cx="206.7" cy="477.6" r="4"/><circle cx="214.6" cy="480.3" r="4"/><circle cx="202.4" cy="474.4" r="4"/><circle cx="214.1" cy="481.7" r="4"/><circle cx="217" cy="484" r="4"/><circle cx="206.4" cy="479.8" r="4"/><circle cx="204.6" cy="488.1" r="4"/><circle cx="202.5" cy="485.6" r="4"/><circle cx="215.1" cy="488.7" r="4"/><circle cx="229.7" cy="491" r="4"/><circle cx="217.3" cy="489.6" r="4"/><circle cx="217.9" cy="483" r="4"/><circle cx="222.3" cy="491.3" r="4"/><circle cx="206.8" cy="482.7" r="4"/><circle cx="233.7" cy="491.5" r="4"/><circle cx="218.7" cy="484.5" r="4"/><circle cx="226.5" cy="487.7" r="4"/><circle cx="226.3" cy="486" r="4"/><circle cx="231" cy="491.6" r="4"/><circle cx="231.8" cy="487.5" r="4"/><circle cx="211.4" cy="490.8" r="4"/><circle cx="206.8" cy="480.3" r="4"/><circle cx="221" cy="490.6" r="4"/><circle cx="209.5" cy="490.2" r="4"/><circle cx="205.6" cy="488.9" r="4"/><circle cx="209.1" cy="476.6" r="4"/><circle cx="234.4" cy="488.6" r="4"/><circle cx="213.8" cy="485.9" r="4"/><circle cx="225" cy="478.4" r="4"/><circle cx="223.9" cy="482.7" r="4"/><circle cx="205.7" cy="482" r="4"/><circle cx="227.8" cy="481.4" r="4"/><circle cx="203.4" cy="479.5" r="4"/><circle cx="209.7" cy="489.9" r="4"/><circle cx="233" cy="488.7" r="4"/><circle cx="223.6" cy="490.2" r="4"/><circle cx="227" cy="478.7" r="4"/>
</g>
<rect x="190.2" y="300.1" width="277.9" height="199.9" fill="none" stroke="#000" stroke-width="2"/>
<line x1="499.4" y1="299.3" x2="499.4" y2="500" stroke="#E3E3E3" stroke-width="2"/>
<line x1="486" y1="491.6" x2="766" y2="491.6" stroke="#E3E3E3" stroke-width="2"/>
<text x="596" y="288.9" font-size="31.9" fill="#D0A9CB" textLength="45.78" lengthAdjust="spacingAndGlyphs">Tyr</text>
<g fill="#D0A9CB">
<circle cx="499.4" cy="364.9" r="4"/><circle cx="517.6" cy="399.8" r="4"/><circle cx="499.4" cy="418.9" r="4"/><circle cx="519.6" cy="428.2" r="4"/><circle cx="499.4" cy="425.2" r="4"/><circle cx="499.4" cy="429.3" r="4"/><circle cx="513" cy="444.2" r="4"/><circle cx="510.5" cy="446.7" r="4"/><circle cx="508.3" cy="452.5" r="4"/><circle cx="513.8" cy="452.5" r="4"/><circle cx="526.7" cy="468.2" r="4"/><circle cx="536.6" cy="470.6" r="4"/><circle cx="520.4" cy="463.2" r="4"/><circle cx="514.6" cy="460.7" r="4"/><circle cx="549.8" cy="485.5" r="4"/><circle cx="552.1" cy="489.3" r="4"/><circle cx="531.5" cy="480.6" r="4"/><circle cx="532.8" cy="487.2" r="4"/><circle cx="527" cy="481.4" r="4"/><circle cx="511.3" cy="460.7" r="4"/><circle cx="508" cy="466.5" r="4"/><circle cx="524" cy="486.6" r="4"/><circle cx="521" cy="484.3" r="4"/><circle cx="511.9" cy="486.1" r="4"/><circle cx="520.7" cy="484.4" r="4"/><circle cx="522.6" cy="490.4" r="4"/><circle cx="526.4" cy="489.5" r="4"/><circle cx="525.8" cy="492.1" r="4"/><circle cx="526.8" cy="487.7" r="4"/><circle cx="502.2" cy="472.4" r="4"/><circle cx="501.7" cy="489" r="4"/><circle cx="507.6" cy="488.9" r="4"/><circle cx="508.7" cy="474.8" r="4"/><circle cx="515.3" cy="482.6" r="4"/><circle cx="505.7" cy="476" r="4"/><circle cx="519.4" cy="485" r="4"/><circle cx="525.6" cy="486.8" r="4"/><circle cx="506.1" cy="491.4" r="4"/><circle cx="514.1" cy="479.7" r="4"/><circle cx="504.3" cy="480.1" r="4"/><circle cx="521.2" cy="484.5" r="4"/><circle cx="498.4" cy="480.9" r="4"/><circle cx="498.5" cy="490.6" r="4"/><circle cx="520.2" cy="488.6" r="4"/><circle cx="512.4" cy="485.9" r="4"/><circle cx="504.2" cy="488.9" r="4"/><circle cx="504.7" cy="473.8" r="4"/><circle cx="512.9" cy="488.8" r="4"/><circle cx="499.2" cy="486.9" r="4"/><circle cx="515.9" cy="487.1" r="4"/><circle cx="514.4" cy="480.4" r="4"/><circle cx="499.7" cy="475.6" r="4"/><circle cx="498.7" cy="470.8" r="4"/><circle cx="500.8" cy="487.2" r="4"/><circle cx="526.3" cy="490.6" r="4"/><circle cx="501.6" cy="470.5" r="4"/><circle cx="512.6" cy="477.6" r="4"/><circle cx="505.8" cy="482.9" r="4"/><circle cx="526.2" cy="489.6" r="4"/><circle cx="527.6" cy="491.8" r="4"/><circle cx="520.9" cy="491.4" r="4"/><circle cx="509.8" cy="492.6" r="4"/><circle cx="500.6" cy="468.2" r="4"/><circle cx="507.5" cy="476.4" r="4"/><circle cx="502.2" cy="485.5" r="4"/><circle cx="499.4" cy="479.3" r="4"/><circle cx="522.2" cy="488.2" r="4"/><circle cx="505.3" cy="471.9" r="4"/><circle cx="523.5" cy="487.1" r="4"/><circle cx="499" cy="477.1" r="4"/><circle cx="507.2" cy="472.5" r="4"/><circle cx="504.9" cy="478.7" r="4"/><circle cx="513.4" cy="487.5" r="4"/><circle cx="509.6" cy="480.5" r="4"/><circle cx="524.1" cy="488.9" r="4"/><circle cx="504.9" cy="470.4" r="4"/><circle cx="498.8" cy="470.5" r="4"/><circle cx="515.2" cy="485.1" r="4"/><circle cx="507.3" cy="477.7" r="4"/><circle cx="523.4" cy="486.5" r="4"/><circle cx="517.7" cy="492.4" r="4"/><circle cx="503.9" cy="490.4" r="4"/><circle cx="526.1" cy="486.5" r="4"/><circle cx="500" cy="478.6" r="4"/><circle cx="511.4" cy="492.2" r="4"/><circle cx="505.7" cy="476.9" r="4"/><circle cx="513.7" cy="489.1" r="4"/><circle cx="518.2" cy="489.7" r="4"/><circle cx="510.4" cy="486" r="4"/><circle cx="527.2" cy="488.9" r="4"/><circle cx="519.9" cy="485.3" r="4"/><circle cx="505.4" cy="471.1" r="4"/><circle cx="516.2" cy="483.4" r="4"/><circle cx="502.8" cy="489.9" r="4"/><circle cx="511.4" cy="478.3" r="4"/><circle cx="519.4" cy="489.2" r="4"/><circle cx="500" cy="480.6" r="4"/><circle cx="522.9" cy="491.5" r="4"/><circle cx="517.3" cy="491" r="4"/><circle cx="503.6" cy="491.9" r="4"/><circle cx="503.2" cy="485" r="4"/><circle cx="526.7" cy="486.4" r="4"/><circle cx="500.8" cy="486.3" r="4"/><circle cx="525.7" cy="491.6" r="4"/><circle cx="503.8" cy="483.8" r="4"/><circle cx="499.5" cy="487.3" r="4"/><circle cx="505.8" cy="485.5" r="4"/><circle cx="526.5" cy="491.2" r="4"/><circle cx="501.2" cy="469.7" r="4"/><circle cx="507.4" cy="475.6" r="4"/><circle cx="513.5" cy="480.5" r="4"/><circle cx="503.7" cy="490.1" r="4"/><circle cx="518" cy="487.3" r="4"/><circle cx="510.8" cy="481.2" r="4"/><circle cx="517.8" cy="489.8" r="4"/><circle cx="504.9" cy="472" r="4"/><circle cx="509.9" cy="488.3" r="4"/><circle cx="513.3" cy="489.3" r="4"/><circle cx="518.6" cy="492.3" r="4"/><circle cx="520.8" cy="487.1" r="4"/><circle cx="504.7" cy="471.2" r="4"/><circle cx="502.5" cy="488.1" r="4"/><circle cx="499" cy="479.3" r="4"/><circle cx="517.9" cy="484.4" r="4"/><circle cx="506.3" cy="475.7" r="4"/><circle cx="499.5" cy="486.1" r="4"/><circle cx="513.8" cy="477" r="4"/><circle cx="513.4" cy="482" r="4"/><circle cx="518.7" cy="488.5" r="4"/><circle cx="525.5" cy="487.4" r="4"/><circle cx="504.4" cy="485" r="4"/><circle cx="519.9" cy="489.3" r="4"/><circle cx="500.8" cy="470.6" r="4"/><circle cx="509.9" cy="483.9" r="4"/><circle cx="514.7" cy="478.9" r="4"/><circle cx="499.9" cy="485.3" r="4"/><circle cx="498.9" cy="483.1" r="4"/><circle cx="509" cy="476.3" r="4"/><circle cx="514.6" cy="484.5" r="4"/><circle cx="506" cy="481.3" r="4"/><circle cx="502.7" cy="472.6" r="4"/><circle cx="519.2" cy="482.8" r="4"/><circle cx="500.2" cy="476.2" r="4"/><circle cx="517.9" cy="486.9" r="4"/><circle cx="523.7" cy="484.9" r="4"/><circle cx="517.5" cy="482" r="4"/><circle cx="514" cy="478.8" r="4"/><circle cx="499.8" cy="475.1" r="4"/><circle cx="516" cy="484.5" r="4"/><circle cx="502.7" cy="491.6" r="4"/><circle cx="512.4" cy="478.9" r="4"/><circle cx="502.7" cy="488.8" r="4"/><circle cx="501.6" cy="491.1" r="4"/><circle cx="514.9" cy="477.7" r="4"/><circle cx="519.8" cy="489.2" r="4"/><circle cx="515.8" cy="492" r="4"/><circle cx="521.3" cy="489.9" r="4"/><circle cx="498.4" cy="476.7" r="4"/><circle cx="500" cy="487" r="4"/><circle cx="498.8" cy="482.2" r="4"/><circle cx="510.7" cy="478.3" r="4"/><circle cx="498.7" cy="470.6" r="4"/><circle cx="499.5" cy="488.1" r="4"/><circle cx="513.3" cy="488.1" r="4"/><circle cx="504.1" cy="480.7" r="4"/><circle cx="501.4" cy="473.3" r="4"/><circle cx="501.3" cy="471.8" r="4"/><circle cx="520" cy="487.1" r="4"/><circle cx="498.6" cy="472.2" r="4"/><circle cx="498.6" cy="480.4" r="4"/><circle cx="506.6" cy="491.8" r="4"/><circle cx="513.3" cy="481.3" r="4"/><circle cx="511.7" cy="486.7" r="4"/><circle cx="509.3" cy="482.2" r="4"/><circle cx="501.6" cy="471.2" r="4"/><circle cx="528" cy="488.3" r="4"/><circle cx="526.4" cy="490.8" r="4"/><circle cx="527.5" cy="492.4" r="4"/><circle cx="508.2" cy="490.8" r="4"/><circle cx="507.5" cy="479.4" r="4"/><circle cx="516.1" cy="487" r="4"/><circle cx="504.4" cy="489.4" r="4"/><circle cx="506" cy="487.8" r="4"/><circle cx="501" cy="474.7" r="4"/><circle cx="509.4" cy="485.4" r="4"/><circle cx="501" cy="475.7" r="4"/><circle cx="501" cy="487.4" r="4"/><circle cx="510.9" cy="480.6" r="4"/><circle cx="527" cy="488.1" r="4"/><circle cx="525.9" cy="486.1" r="4"/><circle cx="516.7" cy="483.1" r="4"/><circle cx="498.9" cy="488.5" r="4"/><circle cx="498.5" cy="469.4" r="4"/><circle cx="516.7" cy="484.5" r="4"/><circle cx="502.4" cy="485.5" r="4"/><circle cx="500.4" cy="477.5" r="4"/><circle cx="527.8" cy="491.2" r="4"/><circle cx="498.7" cy="489.2" r="4"/><circle cx="504.7" cy="472.3" r="4"/><circle cx="519.9" cy="488.1" r="4"/><circle cx="499.4" cy="490.8" r="4"/><circle cx="500.2" cy="473.1" r="4"/><circle cx="508" cy="472.3" r="4"/><circle cx="524.3" cy="486.3" r="4"/><circle cx="508.2" cy="476.5" r="4"/><circle cx="499.8" cy="490.7" r="4"/><circle cx="511" cy="484.5" r="4"/><circle cx="501.3" cy="487.7" r="4"/><circle cx="498.5" cy="467.9" r="4"/><circle cx="516.2" cy="479.1" r="4"/><circle cx="527.3" cy="490.4" r="4"/><circle cx="517.1" cy="488.2" r="4"/><circle cx="520.2" cy="483.3" r="4"/><circle cx="499.9" cy="492.5" r="4"/><circle cx="501.4" cy="479.2" r="4"/><circle cx="505.4" cy="492.5" r="4"/><circle cx="520.9" cy="484.5" r="4"/><circle cx="507.8" cy="492.1" r="4"/><circle cx="523.3" cy="488.3" r="4"/><circle cx="499" cy="485.6" r="4"/><circle cx="513.1" cy="478.1" r="4"/><circle cx="508.4" cy="480.8" r="4"/><circle cx="501.2" cy="487.9" r="4"/><circle cx="524.1" cy="489.9" r="4"/><circle cx="499.4" cy="478.2" r="4"/><circle cx="499.7" cy="488.7" r="4"/><circle cx="507.6" cy="481.6" r="4"/><circle cx="513.5" cy="481.8" r="4"/><circle cx="507.1" cy="491.8" r="4"/><circle cx="516.8" cy="492.2" r="4"/><circle cx="508" cy="485.8" r="4"/><circle cx="514.8" cy="482.3" r="4"/><circle cx="501.9" cy="477.6" r="4"/><circle cx="515.5" cy="486.6" r="4"/><circle cx="500" cy="468.9" r="4"/><circle cx="512.2" cy="492" r="4"/><circle cx="501.9" cy="467.9" r="4"/><circle cx="501.7" cy="484.4" r="4"/><circle cx="519.2" cy="483" r="4"/><circle cx="513.4" cy="481.1" r="4"/><circle cx="498.6" cy="491" r="4"/><circle cx="527.1" cy="487.8" r="4"/><circle cx="498.6" cy="491.9" r="4"/><circle cx="501.9" cy="469.6" r="4"/><circle cx="501.5" cy="476.8" r="4"/><circle cx="525.1" cy="488.1" r="4"/><circle cx="524.6" cy="491" r="4"/><circle cx="500.2" cy="492.4" r="4"/><circle cx="518" cy="491.7" r="4"/><circle cx="527" cy="488.4" r="4"/><circle cx="500.8" cy="472.5" r="4"/><circle cx="500.4" cy="480.8" r="4"/><circle cx="499.4" cy="472.4" r="4"/><circle cx="523.4" cy="484.5" r="4"/><circle cx="498.4" cy="469.7" r="4"/><circle cx="510.7" cy="478" r="4"/><circle cx="509" cy="481.5" r="4"/><circle cx="512" cy="479.2" r="4"/><circle cx="499.1" cy="491.8" r="4"/><circle cx="510.4" cy="488.3" r="4"/><circle cx="505.9" cy="492.5" r="4"/><circle cx="517.5" cy="492.5" r="4"/><circle cx="520.9" cy="484.1" r="4"/><circle cx="507.6" cy="490.9" r="4"/><circle cx="514" cy="490.2" r="4"/><circle cx="506.8" cy="491.1" r="4"/><circle cx="527.1" cy="489.6" r="4"/><circle cx="504.6" cy="491.3" r="4"/><circle cx="517" cy="481.2" r="4"/><circle cx="521.7" cy="491.9" r="4"/><circle cx="505" cy="487.2" r="4"/><circle cx="518.2" cy="491.3" r="4"/><circle cx="512.5" cy="475.8" r="4"/><circle cx="518.5" cy="492.6" r="4"/><circle cx="499" cy="490.6" r="4"/><circle cx="515.6" cy="484.6" r="4"/><circle cx="509.6" cy="485.1" r="4"/><circle cx="506.1" cy="480.5" r="4"/><circle cx="513.9" cy="478.1" r="4"/><circle cx="517.1" cy="482.1" r="4"/><circle cx="524.4" cy="485.9" r="4"/><circle cx="516.5" cy="492.4" r="4"/><circle cx="515.1" cy="480.1" r="4"/><circle cx="506.8" cy="474.3" r="4"/><circle cx="500.7" cy="468.3" r="4"/><circle cx="507.1" cy="478.6" r="4"/><circle cx="502.2" cy="486.7" r="4"/><circle cx="504.5" cy="486.6" r="4"/><circle cx="499.3" cy="482.4" r="4"/><circle cx="527.3" cy="489" r="4"/><circle cx="525.2" cy="487.1" r="4"/><circle cx="521.2" cy="482" r="4"/><circle cx="517.8" cy="489.8" r="4"/><circle cx="502.1" cy="484" r="4"/><circle cx="498.5" cy="487.8" r="4"/><circle cx="523.2" cy="484.3" r="4"/><circle cx="504" cy="475.4" r="4"/><circle cx="518.7" cy="481.7" r="4"/><circle cx="519.5" cy="487" r="4"/><circle cx="499.4" cy="471.2" r="4"/><circle cx="503.6" cy="479" r="4"/><circle cx="505" cy="481.8" r="4"/><circle cx="526.6" cy="491.9" r="4"/><circle cx="509.9" cy="481.2" r="4"/><circle cx="510.2" cy="475.1" r="4"/><circle cx="506.2" cy="472.9" r="4"/><circle cx="515.5" cy="478.2" r="4"/><circle cx="499.2" cy="488.4" r="4"/><circle cx="503" cy="471" r="4"/><circle cx="498.5" cy="487.1" r="4"/><circle cx="516.4" cy="478.5" r="4"/><circle cx="500.6" cy="482.9" r="4"/><circle cx="515.3" cy="483" r="4"/><circle cx="517.6" cy="483.1" r="4"/><circle cx="502.1" cy="487.7" r="4"/><circle cx="498.6" cy="474.9" r="4"/><circle cx="501.3" cy="487.5" r="4"/><circle cx="526.6" cy="488.7" r="4"/><circle cx="511.9" cy="482" r="4"/><circle cx="512.2" cy="481.3" r="4"/><circle cx="503.4" cy="491.7" r="4"/><circle cx="498.9" cy="492.4" r="4"/><circle cx="504.9" cy="490.4" r="4"/><circle cx="499.5" cy="481.1" r="4"/><circle cx="526.8" cy="488.5" r="4"/><circle cx="502.7" cy="474.7" r="4"/><circle cx="500.6" cy="491" r="4"/><circle cx="503.4" cy="484.4" r="4"/><circle cx="515.4" cy="486.9" r="4"/><circle cx="516.9" cy="491.8" r="4"/><circle cx="525.2" cy="490.5" r="4"/><circle cx="521" cy="492.4" r="4"/><circle cx="520.9" cy="490.8" r="4"/><circle cx="521.9" cy="484.8" r="4"/><circle cx="514.8" cy="489.3" r="4"/><circle cx="498.4" cy="488.8" r="4"/><circle cx="524" cy="491.7" r="4"/><circle cx="514.3" cy="484.3" r="4"/><circle cx="514.4" cy="490.6" r="4"/><circle cx="500" cy="491" r="4"/><circle cx="527.4" cy="490.7" r="4"/><circle cx="514.1" cy="484.5" r="4"/><circle cx="501.6" cy="491.7" r="4"/><circle cx="498.5" cy="469.7" r="4"/><circle cx="499.8" cy="467.1" r="4"/><circle cx="504.9" cy="477.1" r="4"/><circle cx="499.9" cy="472.6" r="4"/><circle cx="502.2" cy="485.1" r="4"/><circle cx="509.7" cy="491.2" r="4"/><circle cx="502.1" cy="473.6" r="4"/><circle cx="502.9" cy="485" r="4"/><circle cx="500.1" cy="448.5" r="4"/><circle cx="498.6" cy="448.2" r="4"/><circle cx="499.1" cy="456.5" r="4"/><circle cx="499.8" cy="462.4" r="4"/><circle cx="500.4" cy="438.8" r="4"/><circle cx="499.8" cy="482.9" r="4"/><circle cx="498.7" cy="437.6" r="4"/><circle cx="499.2" cy="442.5" r="4"/><circle cx="499.3" cy="475.9" r="4"/><circle cx="498.3" cy="442.6" r="4"/><circle cx="499.4" cy="445.7" r="4"/><circle cx="498.7" cy="460.7" r="4"/><circle cx="498.4" cy="439.8" r="4"/><circle cx="499" cy="462.3" r="4"/><circle cx="500.6" cy="467.1" r="4"/><circle cx="498.3" cy="448.4" r="4"/><circle cx="500.1" cy="467.6" r="4"/><circle cx="500.4" cy="490" r="4"/><circle cx="500.4" cy="442.1" r="4"/><circle cx="500.6" cy="465.4" r="4"/><circle cx="498.7" cy="445.5" r="4"/><circle cx="500.4" cy="447.9" r="4"/><circle cx="498.3" cy="450.8" r="4"/><circle cx="500.5" cy="461.8" r="4"/><circle cx="500" cy="440.1" r="4"/><circle cx="499.3" cy="453.8" r="4"/><circle cx="498.6" cy="473.2" r="4"/><circle cx="499" cy="442.7" r="4"/><circle cx="500.7" cy="463" r="4"/><circle cx="498.6" cy="436.6" r="4"/><circle cx="499.8" cy="464.9" r="4"/><circle cx="498.1" cy="462.4" r="4"/><circle cx="500" cy="466.1" r="4"/><circle cx="498.7" cy="464" r="4"/><circle cx="499.7" cy="472.5" r="4"/><circle cx="498.5" cy="481.1" r="4"/><circle cx="500.6" cy="477.5" r="4"/><circle cx="500.4" cy="456.6" r="4"/><circle cx="500.5" cy="446.2" r="4"/><circle cx="498.7" cy="469.5" r="4"/><circle cx="500.5" cy="440.5" r="4"/><circle cx="498.7" cy="438" r="4"/><circle cx="499.2" cy="443.8" r="4"/><circle cx="498.6" cy="478" r="4"/><circle cx="499.6" cy="488.7" r="4"/><circle cx="499.1" cy="474.1" r="4"/><circle cx="498.1" cy="489.2" r="4"/><circle cx="498.7" cy="462.7" r="4"/><circle cx="499.4" cy="489.2" r="4"/><circle cx="499.4" cy="491.7" r="4"/><circle cx="499.7" cy="448.1" r="4"/><circle cx="500.3" cy="447.3" r="4"/><circle cx="500.7" cy="461.6" r="4"/><circle cx="498.7" cy="489.9" r="4"/><circle cx="498.9" cy="458.8" r="4"/><circle cx="499" cy="473.5" r="4"/><circle cx="498.1" cy="457" r="4"/><circle cx="498.5" cy="482.5" r="4"/><circle cx="498.1" cy="470.1" r="4"/><circle cx="498.8" cy="461.5" r="4"/><circle cx="499.6" cy="475.9" r="4"/><circle cx="498.4" cy="449.5" r="4"/><circle cx="498.4" cy="489.9" r="4"/><circle cx="498.5" cy="443.6" r="4"/><circle cx="499.5" cy="468.6" r="4"/><circle cx="500.4" cy="439.1" r="4"/><circle cx="498.7" cy="445.4" r="4"/><circle cx="499.6" cy="461.4" r="4"/><circle cx="499.2" cy="485.8" r="4"/><circle cx="499.8" cy="484.3" r="4"/><circle cx="500.6" cy="451.1" r="4"/><circle cx="500.6" cy="458.8" r="4"/><circle cx="498.2" cy="487.3" r="4"/><circle cx="498.4" cy="436.9" r="4"/><circle cx="498.9" cy="452.2" r="4"/><circle cx="500.6" cy="484.8" r="4"/><circle cx="499.2" cy="465.7" r="4"/><circle cx="500.3" cy="481.3" r="4"/><circle cx="499.8" cy="464.8" r="4"/><circle cx="498.4" cy="449.6" r="4"/><circle cx="499.8" cy="468.9" r="4"/><circle cx="500.2" cy="486.4" r="4"/><circle cx="500.6" cy="446.8" r="4"/><circle cx="498.3" cy="486.4" r="4"/><circle cx="499.6" cy="446.1" r="4"/><circle cx="499.9" cy="450.3" r="4"/><circle cx="498.7" cy="456.5" r="4"/><circle cx="499.5" cy="474" r="4"/><circle cx="498.3" cy="477.6" r="4"/><circle cx="499.7" cy="462.4" r="4"/><circle cx="499.9" cy="480.9" r="4"/><circle cx="498.1" cy="462.6" r="4"/><circle cx="499.9" cy="475.8" r="4"/><circle cx="499.8" cy="446.1" r="4"/><circle cx="500.6" cy="480.1" r="4"/><circle cx="498.7" cy="460.1" r="4"/><circle cx="500.6" cy="447.6" r="4"/><circle cx="499.2" cy="490" r="4"/><circle cx="500.5" cy="449" r="4"/><circle cx="500" cy="456.1" r="4"/><circle cx="499.8" cy="479" r="4"/><circle cx="498.4" cy="448.4" r="4"/><circle cx="498.7" cy="450.9" r="4"/><circle cx="498.2" cy="443.6" r="4"/><circle cx="499.2" cy="459.6" r="4"/><circle cx="498.3" cy="468.7" r="4"/><circle cx="500.6" cy="468.4" r="4"/><circle cx="499" cy="475.5" r="4"/><circle cx="499.2" cy="445.8" r="4"/><circle cx="499.4" cy="436.9" r="4"/><circle cx="499.9" cy="445" r="4"/><circle cx="499.1" cy="490" r="4"/><circle cx="500.1" cy="482.9" r="4"/><circle cx="499.8" cy="471.6" r="4"/><circle cx="499.9" cy="490.2" r="4"/><circle cx="498.6" cy="479" r="4"/><circle cx="498.9" cy="450.3" r="4"/><circle cx="500.3" cy="469.7" r="4"/><circle cx="500.3" cy="485.1" r="4"/><circle cx="499.6" cy="447.1" r="4"/><circle cx="498.1" cy="466" r="4"/><circle cx="500" cy="451.2" r="4"/><circle cx="498.3" cy="436.2" r="4"/><circle cx="498.5" cy="475" r="4"/><circle cx="498.1" cy="448.9" r="4"/><circle cx="498.8" cy="475.9" r="4"/><circle cx="500.7" cy="437" r="4"/><circle cx="498.4" cy="488.4" r="4"/><circle cx="500.6" cy="444.3" r="4"/><circle cx="499" cy="465.3" r="4"/><circle cx="498.9" cy="459.4" r="4"/><circle cx="499.4" cy="450.5" r="4"/><circle cx="498.2" cy="440.7" r="4"/><circle cx="498.5" cy="441.1" r="4"/><circle cx="499.7" cy="475.1" r="4"/><circle cx="498.8" cy="480.4" r="4"/><circle cx="500" cy="455.1" r="4"/><circle cx="499.4" cy="446.5" r="4"/><circle cx="500.5" cy="467.4" r="4"/><circle cx="498.2" cy="444.6" r="4"/>
</g>
<rect x="486" y="299.3" width="280" height="200.7" fill="none" stroke="#000" stroke-width="2"/>
<text x="143.4" y="68.9" font-size="32.8" textLength="35.57" lengthAdjust="spacingAndGlyphs">80</text>
<text x="143.4" y="114.6" font-size="32.8" textLength="35.57" lengthAdjust="spacingAndGlyphs">60</text>
<text x="143.4" y="160.4" font-size="32.8" textLength="35.57" lengthAdjust="spacingAndGlyphs">40</text>
<text x="143.4" y="206.1" font-size="32.8" textLength="35.57" lengthAdjust="spacingAndGlyphs">20</text>
<text x="161.2" y="251.8" font-size="32.8" textLength="17.79" lengthAdjust="spacingAndGlyphs">0</text>
<text x="143.4" y="317.8" font-size="32.8" textLength="35.57" lengthAdjust="spacingAndGlyphs">80</text>
<text x="143.4" y="363.5" font-size="32.8" textLength="35.57" lengthAdjust="spacingAndGlyphs">60</text>
<text x="143.4" y="409.3" font-size="32.8" textLength="35.57" lengthAdjust="spacingAndGlyphs">40</text>
<text x="143.4" y="455" font-size="32.8" textLength="35.57" lengthAdjust="spacingAndGlyphs">20</text>
<text x="161.2" y="500.7" font-size="32.8" textLength="17.79" lengthAdjust="spacingAndGlyphs">0</text>
<text x="188.9" y="533.6" font-size="32.8" textLength="17.79" lengthAdjust="spacingAndGlyphs">0</text>
<text x="246.1" y="533.6" font-size="32.8" textLength="35.57" lengthAdjust="spacingAndGlyphs">20</text>
<text x="309.5" y="533.6" font-size="32.8" textLength="35.57" lengthAdjust="spacingAndGlyphs">40</text>
<text x="373" y="533.6" font-size="32.8" textLength="35.57" lengthAdjust="spacingAndGlyphs">60</text>
<text x="436.7" y="533.6" font-size="32.8" textLength="35.57" lengthAdjust="spacingAndGlyphs">80</text>
<text x="491.9" y="533.6" font-size="32.8" textLength="17.79" lengthAdjust="spacingAndGlyphs">0</text>
<text x="549" y="533.6" font-size="32.8" textLength="35.57" lengthAdjust="spacingAndGlyphs">20</text>
<text x="612.5" y="533.6" font-size="32.8" textLength="35.57" lengthAdjust="spacingAndGlyphs">40</text>
<text x="676.2" y="533.6" font-size="32.8" textLength="35.57" lengthAdjust="spacingAndGlyphs">60</text>
<text x="740" y="533.6" font-size="32.8" textLength="35.57" lengthAdjust="spacingAndGlyphs">80</text>
<text x="250.9" y="581.2" font-size="31.9" textLength="418.76" lengthAdjust="spacingAndGlyphs">Fold enrichment TGA screen</text>
<text transform="translate(118 475.6) rotate(-90)" font-size="31.9" textLength="411.81" lengthAdjust="spacingAndGlyphs">Fold enrichment TAG screen</text>
<text x="919" y="41.3" font-size="54" font-weight="bold">b</text>
<text x="1157" y="36.3" font-size="31.9" textLength="262.94" lengthAdjust="spacingAndGlyphs">Arrayed validation</text>
<rect x="1152.6" y="93.5" width="32.2" height="107" fill="#DC2A3C"/>
<rect x="1200.6" y="96.5" width="32.2" height="104" fill="#4AA9DB"/>
<rect x="1248.6" y="108" width="32.2" height="92.5" fill="#DC2A3C"/>
<rect x="1296.6" y="115.6" width="32.2" height="84.9" fill="#DC2A3C"/>
<rect x="1344.6" y="125.9" width="32.2" height="74.6" fill="#4AA9DB"/>
<rect x="1392.6" y="140.1" width="32.2" height="60.4" fill="#4AA9DB"/>
<rect x="1440.6" y="141.1" width="32.2" height="59.4" fill="#6472B3"/>
<rect x="1488.6" y="143.7" width="32.2" height="56.8" fill="#4AA9DB"/>
<rect x="1536.6" y="144" width="32.2" height="56.5" fill="#4AA9DB"/>
<rect x="1584.6" y="148.7" width="32.2" height="51.8" fill="#D0A9CB"/>
<rect x="1632.6" y="162.9" width="32.2" height="37.6" fill="#4AA9DB"/>
<rect x="1680.6" y="172.8" width="32.2" height="27.7" fill="#D0A9CB"/>
<rect x="1728.6" y="174.8" width="32.2" height="25.7" fill="#4AA9DB"/>
<rect x="1776.6" y="179.4" width="32.2" height="21.1" fill="#4AA9DB"/>
<rect x="1824.6" y="180.7" width="32.2" height="19.8" fill="#D0A9CB"/>
<rect x="1872.6" y="183.3" width="32.2" height="17.2" fill="#4AA9DB"/>
<rect x="1920.6" y="185.3" width="32.2" height="15.2" fill="#4AA9DB"/>
<rect x="1968.6" y="188" width="32.2" height="12.5" fill="#DC2A3C"/>
<line x1="1136.5" y1="46.5" x2="1136.5" y2="201.9" stroke="#000" stroke-width="2.8"/>
<line x1="1119.4" y1="200.5" x2="2067" y2="200.5" stroke="#000" stroke-width="2.8"/>
<line x1="1119.4" y1="47.9" x2="1136.5" y2="47.9" stroke="#000" stroke-width="2.8"/>
<line x1="1119.4" y1="124.5" x2="1136.5" y2="124.5" stroke="#000" stroke-width="2.8"/>
<line x1="1168.7" y1="200.5" x2="1168.7" y2="218" stroke="#000" stroke-width="2.8"/>
<line x1="1216.7" y1="200.5" x2="1216.7" y2="218" stroke="#000" stroke-width="2.8"/>
<line x1="1264.7" y1="200.5" x2="1264.7" y2="218" stroke="#000" stroke-width="2.8"/>
<line x1="1312.7" y1="200.5" x2="1312.7" y2="218" stroke="#000" stroke-width="2.8"/>
<line x1="1360.7" y1="200.5" x2="1360.7" y2="218" stroke="#000" stroke-width="2.8"/>
<line x1="1408.7" y1="200.5" x2="1408.7" y2="218" stroke="#000" stroke-width="2.8"/>
<line x1="1456.7" y1="200.5" x2="1456.7" y2="218" stroke="#000" stroke-width="2.8"/>
<line x1="1504.7" y1="200.5" x2="1504.7" y2="218" stroke="#000" stroke-width="2.8"/>
<line x1="1552.7" y1="200.5" x2="1552.7" y2="218" stroke="#000" stroke-width="2.8"/>
<line x1="1600.7" y1="200.5" x2="1600.7" y2="218" stroke="#000" stroke-width="2.8"/>
<line x1="1648.7" y1="200.5" x2="1648.7" y2="218" stroke="#000" stroke-width="2.8"/>
<line x1="1696.7" y1="200.5" x2="1696.7" y2="218" stroke="#000" stroke-width="2.8"/>
<line x1="1744.7" y1="200.5" x2="1744.7" y2="218" stroke="#000" stroke-width="2.8"/>
<line x1="1792.7" y1="200.5" x2="1792.7" y2="218" stroke="#000" stroke-width="2.8"/>
<line x1="1840.7" y1="200.5" x2="1840.7" y2="218" stroke="#000" stroke-width="2.8"/>
<line x1="1888.7" y1="200.5" x2="1888.7" y2="218" stroke="#000" stroke-width="2.8"/>
<line x1="1936.7" y1="200.5" x2="1936.7" y2="218" stroke="#000" stroke-width="2.8"/>
<line x1="1984.7" y1="200.5" x2="1984.7" y2="218" stroke="#000" stroke-width="2.8"/>
<line x1="2030.5" y1="200.5" x2="2030.5" y2="218" stroke="#000" stroke-width="2.8"/>
<text x="1075.3" y="57.3" font-size="34.3" class="k" textLength="35.48" lengthAdjust="spacingAndGlyphs">50</text>
<text x="1075.3" y="135.9" font-size="34.3" class="k" textLength="35.48" lengthAdjust="spacingAndGlyphs">25</text>
<text x="1093.1" y="209.9" font-size="34.3" class="k" textLength="17.74" lengthAdjust="spacingAndGlyphs">0</text>
<text transform="translate(999 194.2) rotate(-90)" font-size="31.9" textLength="117.99" lengthAdjust="spacingAndGlyphs">% GFP+</text>
<text transform="translate(1038.8 162.5) rotate(-90)" font-size="31.9" textLength="65.08" lengthAdjust="spacingAndGlyphs">cells</text>
<line x1="1168.7" y1="76" x2="1168.7" y2="111.4" stroke="#000" stroke-width="3"/>
<line x1="1159.5" y1="76" x2="1178" y2="76" stroke="#000" stroke-width="3"/>
<line x1="1159.5" y1="111.4" x2="1178" y2="111.4" stroke="#000" stroke-width="3"/>
<circle cx="1168.7" cy="81" r="4.6" fill="#000"/>
<circle cx="1168.7" cy="106.3" r="4.6" fill="#000"/>
<line x1="1264.7" y1="105" x2="1264.7" y2="111.5" stroke="#000" stroke-width="3"/>
<line x1="1255.5" y1="105" x2="1274" y2="105" stroke="#000" stroke-width="3"/>
<line x1="1255.5" y1="111.5" x2="1274" y2="111.5" stroke="#000" stroke-width="3"/>
<circle cx="1264.7" cy="106.7" r="4.6" fill="#000"/>
<circle cx="1264.7" cy="110.6" r="4.6" fill="#000"/>
<line x1="1312.7" y1="102.2" x2="1312.7" y2="129.5" stroke="#000" stroke-width="3"/>
<line x1="1303.5" y1="102.2" x2="1322" y2="102.2" stroke="#000" stroke-width="3"/>
<line x1="1303.5" y1="129.5" x2="1322" y2="129.5" stroke="#000" stroke-width="3"/>
<circle cx="1312.7" cy="106.2" r="4.6" fill="#000"/>
<circle cx="1312.7" cy="125.5" r="4.6" fill="#000"/>
<line x1="1456.7" y1="129.8" x2="1456.7" y2="152" stroke="#000" stroke-width="3"/>
<line x1="1447.5" y1="129.8" x2="1466" y2="129.8" stroke="#000" stroke-width="3"/>
<line x1="1447.5" y1="152" x2="1466" y2="152" stroke="#000" stroke-width="3"/>
<circle cx="1456.7" cy="133.8" r="4.6" fill="#000"/>
<circle cx="1456.7" cy="147.7" r="4.6" fill="#000"/>
<line x1="1504.7" y1="139.4" x2="1504.7" y2="148.7" stroke="#000" stroke-width="3"/>
<line x1="1495.5" y1="139.4" x2="1514" y2="139.4" stroke="#000" stroke-width="3"/>
<line x1="1495.5" y1="148.7" x2="1514" y2="148.7" stroke="#000" stroke-width="3"/>
<circle cx="1504.7" cy="142" r="4.6" fill="#000"/>
<circle cx="1504.7" cy="145.4" r="4.6" fill="#000"/>
<line x1="1552.7" y1="127.8" x2="1552.7" y2="160.2" stroke="#000" stroke-width="3"/>
<line x1="1543.5" y1="127.8" x2="1562" y2="127.8" stroke="#000" stroke-width="3"/>
<line x1="1543.5" y1="160.2" x2="1562" y2="160.2" stroke="#000" stroke-width="3"/>
<circle cx="1552.7" cy="133.1" r="4.6" fill="#000"/>
<circle cx="1552.7" cy="154.6" r="4.6" fill="#000"/>
<line x1="1696.7" y1="164.2" x2="1696.7" y2="181" stroke="#000" stroke-width="3"/>
<line x1="1687.5" y1="164.2" x2="1706" y2="164.2" stroke="#000" stroke-width="3"/>
<line x1="1687.5" y1="181" x2="1706" y2="181" stroke="#000" stroke-width="3"/>
<circle cx="1696.7" cy="168.5" r="4.6" fill="#000"/>
<circle cx="1696.7" cy="178.4" r="4.6" fill="#000"/>
<line x1="1840.7" y1="174.4" x2="1840.7" y2="186.7" stroke="#000" stroke-width="3"/>
<line x1="1831.5" y1="174.4" x2="1850" y2="174.4" stroke="#000" stroke-width="3"/>
<line x1="1831.5" y1="186.7" x2="1850" y2="186.7" stroke="#000" stroke-width="3"/>
<circle cx="1840.7" cy="178.4" r="4.6" fill="#000"/>
<circle cx="1840.7" cy="183.3" r="4.6" fill="#000"/>
<circle cx="1212" cy="97" r="4.6" fill="#000"/>
<circle cx="1221.4" cy="96" r="4.6" fill="#000"/>
<line x1="1212" y1="97" x2="1221.4" y2="96" stroke="#000" stroke-width="3"/>
<circle cx="1356" cy="126.7" r="4.6" fill="#000"/>
<circle cx="1365.4" cy="125.5" r="4.6" fill="#000"/>
<line x1="1356" y1="126.7" x2="1365.4" y2="125.5" stroke="#000" stroke-width="3"/>
<circle cx="1404" cy="140" r="4.6" fill="#000"/>
<circle cx="1413.4" cy="140" r="4.6" fill="#000"/>
<line x1="1404" y1="140" x2="1413.4" y2="140" stroke="#000" stroke-width="3"/>
<circle cx="1596" cy="149.3" r="4.6" fill="#000"/>
<circle cx="1605.4" cy="147" r="4.6" fill="#000"/>
<line x1="1596" y1="149.3" x2="1605.4" y2="147" stroke="#000" stroke-width="3"/>
<circle cx="1644" cy="162.9" r="4.6" fill="#000"/>
<circle cx="1653.4" cy="162.9" r="4.6" fill="#000"/>
<line x1="1644" y1="162.9" x2="1653.4" y2="162.9" stroke="#000" stroke-width="3"/>
<circle cx="1740" cy="175.1" r="4.6" fill="#000"/>
<circle cx="1749.4" cy="174.1" r="4.6" fill="#000"/>
<line x1="1740" y1="175.1" x2="1749.4" y2="174.1" stroke="#000" stroke-width="3"/>
<circle cx="1788" cy="180" r="4.6" fill="#000"/>
<circle cx="1797.4" cy="179.4" r="4.6" fill="#000"/>
<line x1="1788" y1="180" x2="1797.4" y2="179.4" stroke="#000" stroke-width="3"/>
<circle cx="1884" cy="184.3" r="4.6" fill="#000"/>
<circle cx="1893.4" cy="182.4" r="4.6" fill="#000"/>
<line x1="1884" y1="184.3" x2="1893.4" y2="182.4" stroke="#000" stroke-width="3"/>
<circle cx="1932" cy="186" r="4.6" fill="#000"/>
<circle cx="1941.4" cy="185.3" r="4.6" fill="#000"/>
<line x1="1932" y1="186" x2="1941.4" y2="185.3" stroke="#000" stroke-width="3"/>
<circle cx="1980" cy="188" r="4.6" fill="#000"/>
<circle cx="1989.4" cy="188" r="4.6" fill="#000"/>
<line x1="1980" y1="188" x2="1989.4" y2="188" stroke="#000" stroke-width="3"/>
<circle cx="2025" cy="200.5" r="4.6" fill="#000"/>
<circle cx="2034.4" cy="200.5" r="4.6" fill="#000"/>
<line x1="2025" y1="200.5" x2="2034.4" y2="200.5" stroke="#000" stroke-width="3"/>
<rect x="1154.5" y="346.9" width="32.2" height="50.2" fill="#DC2A3C"/>
<rect x="1202.5" y="300" width="32.2" height="97.1" fill="#4AA9DB"/>
<rect x="1250.5" y="350.8" width="32.2" height="46.3" fill="#DC2A3C"/>
<rect x="1298.5" y="352.5" width="32.2" height="44.6" fill="#DC2A3C"/>
<rect x="1346.5" y="360.8" width="32.2" height="36.3" fill="#4AA9DB"/>
<rect x="1394.5" y="346.2" width="32.2" height="50.9" fill="#4AA9DB"/>
<rect x="1442.5" y="345.9" width="32.2" height="51.2" fill="#6472B3"/>
<rect x="1490.5" y="364.7" width="32.2" height="32.4" fill="#4AA9DB"/>
<rect x="1538.5" y="364.1" width="32.2" height="33" fill="#4AA9DB"/>
<rect x="1586.5" y="355.5" width="32.2" height="41.6" fill="#D0A9CB"/>
<rect x="1634.5" y="353.8" width="32.2" height="43.3" fill="#4AA9DB"/>
<rect x="1682.5" y="362.4" width="32.2" height="34.7" fill="#D0A9CB"/>
<rect x="1730.5" y="369.7" width="32.2" height="27.4" fill="#4AA9DB"/>
<rect x="1778.5" y="362.1" width="32.2" height="35" fill="#4AA9DB"/>
<rect x="1826.5" y="367.4" width="32.2" height="29.7" fill="#D0A9CB"/>
<rect x="1874.5" y="358.1" width="32.2" height="39" fill="#4AA9DB"/>
<rect x="1922.5" y="371.3" width="32.2" height="25.8" fill="#4AA9DB"/>
<rect x="1970.5" y="375" width="32.2" height="22.1" fill="#DC2A3C"/>
<line x1="1138.5" y1="243.7" x2="1138.5" y2="398.5" stroke="#000" stroke-width="2.8"/>
<line x1="1120.4" y1="397.1" x2="2075.5" y2="397.1" stroke="#000" stroke-width="2.8"/>
<line x1="1120.4" y1="245.1" x2="1138.5" y2="245.1" stroke="#000" stroke-width="2.8"/>
<line x1="1120.4" y1="295.7" x2="1138.5" y2="295.7" stroke="#000" stroke-width="2.8"/>
<line x1="1120.4" y1="346.9" x2="1138.5" y2="346.9" stroke="#000" stroke-width="2.8"/>
<line x1="1170.6" y1="397.1" x2="1170.6" y2="415" stroke="#000" stroke-width="2.8"/>
<line x1="1218.6" y1="397.1" x2="1218.6" y2="415" stroke="#000" stroke-width="2.8"/>
<line x1="1266.6" y1="397.1" x2="1266.6" y2="415" stroke="#000" stroke-width="2.8"/>
<line x1="1314.6" y1="397.1" x2="1314.6" y2="415" stroke="#000" stroke-width="2.8"/>
<line x1="1362.6" y1="397.1" x2="1362.6" y2="415" stroke="#000" stroke-width="2.8"/>
<line x1="1410.6" y1="397.1" x2="1410.6" y2="415" stroke="#000" stroke-width="2.8"/>
<line x1="1458.6" y1="397.1" x2="1458.6" y2="415" stroke="#000" stroke-width="2.8"/>
<line x1="1506.6" y1="397.1" x2="1506.6" y2="415" stroke="#000" stroke-width="2.8"/>
<line x1="1554.6" y1="397.1" x2="1554.6" y2="415" stroke="#000" stroke-width="2.8"/>
<line x1="1602.6" y1="397.1" x2="1602.6" y2="415" stroke="#000" stroke-width="2.8"/>
<line x1="1650.6" y1="397.1" x2="1650.6" y2="415" stroke="#000" stroke-width="2.8"/>
<line x1="1698.6" y1="397.1" x2="1698.6" y2="415" stroke="#000" stroke-width="2.8"/>
<line x1="1746.6" y1="397.1" x2="1746.6" y2="415" stroke="#000" stroke-width="2.8"/>
<line x1="1794.6" y1="397.1" x2="1794.6" y2="415" stroke="#000" stroke-width="2.8"/>
<line x1="1842.6" y1="397.1" x2="1842.6" y2="415" stroke="#000" stroke-width="2.8"/>
<line x1="1890.6" y1="397.1" x2="1890.6" y2="415" stroke="#000" stroke-width="2.8"/>
<line x1="1938.6" y1="397.1" x2="1938.6" y2="415" stroke="#000" stroke-width="2.8"/>
<line x1="1986.6" y1="397.1" x2="1986.6" y2="415" stroke="#000" stroke-width="2.8"/>
<line x1="2032.4" y1="397.1" x2="2032.4" y2="415" stroke="#000" stroke-width="2.8"/>
<text x="1054.7" y="254.9" font-size="34.3" class="k" textLength="62.08" lengthAdjust="spacingAndGlyphs">0.15</text>
<text x="1054.7" y="304.5" font-size="34.3" class="k" textLength="62.08" lengthAdjust="spacingAndGlyphs">0.10</text>
<text x="1054.7" y="356.3" font-size="34.3" class="k" textLength="62.08" lengthAdjust="spacingAndGlyphs">0.05</text>
<text x="1054.7" y="406.8" font-size="34.3" class="k" textLength="62.08" lengthAdjust="spacingAndGlyphs">0.00</text>
<text transform="translate(998.4 382.7) rotate(-90)" font-size="31.9" textLength="121.30" lengthAdjust="spacingAndGlyphs">Relative</text>
<text transform="translate(1035.4 409.9) rotate(-90)" font-size="31.9" textLength="174.76" lengthAdjust="spacingAndGlyphs">protein yield</text>
<circle cx="1165.9" cy="346.9" r="4.6" fill="#000"/>
<circle cx="1175.3" cy="346.9" r="4.6" fill="#000"/>
<line x1="1165.9" y1="346.9" x2="1175.3" y2="346.9" stroke="#000" stroke-width="3"/>
<circle cx="1213.9" cy="301.3" r="4.6" fill="#000"/>
<circle cx="1223.3" cy="299" r="4.6" fill="#000"/>
<line x1="1213.9" y1="301.3" x2="1223.3" y2="299" stroke="#000" stroke-width="3"/>
<circle cx="1261.9" cy="350.8" r="4.6" fill="#000"/>
<circle cx="1271.3" cy="350.8" r="4.6" fill="#000"/>
<line x1="1261.9" y1="350.8" x2="1271.3" y2="350.8" stroke="#000" stroke-width="3"/>
<circle cx="1309.9" cy="353.5" r="4.6" fill="#000"/>
<circle cx="1319.3" cy="350.8" r="4.6" fill="#000"/>
<line x1="1309.9" y1="353.5" x2="1319.3" y2="350.8" stroke="#000" stroke-width="3"/>
<circle cx="1357.9" cy="361.7" r="4.6" fill="#000"/>
<circle cx="1367.3" cy="359.4" r="4.6" fill="#000"/>
<line x1="1357.9" y1="361.7" x2="1367.3" y2="359.4" stroke="#000" stroke-width="3"/>
<circle cx="1405.9" cy="346.9" r="4.6" fill="#000"/>
<circle cx="1415.3" cy="345.6" r="4.6" fill="#000"/>
<line x1="1405.9" y1="346.9" x2="1415.3" y2="345.6" stroke="#000" stroke-width="3"/>
<circle cx="1501.9" cy="365" r="4.6" fill="#000"/>
<circle cx="1511.3" cy="364.4" r="4.6" fill="#000"/>
<line x1="1501.9" y1="365" x2="1511.3" y2="364.4" stroke="#000" stroke-width="3"/>
<circle cx="1549.9" cy="365" r="4.6" fill="#000"/>
<circle cx="1559.3" cy="363.7" r="4.6" fill="#000"/>
<line x1="1549.9" y1="365" x2="1559.3" y2="363.7" stroke="#000" stroke-width="3"/>
<circle cx="1597.9" cy="356.8" r="4.6" fill="#000"/>
<circle cx="1607.3" cy="354.1" r="4.6" fill="#000"/>
<line x1="1597.9" y1="356.8" x2="1607.3" y2="354.1" stroke="#000" stroke-width="3"/>
<circle cx="1645.9" cy="355.1" r="4.6" fill="#000"/>
<circle cx="1655.3" cy="352.8" r="4.6" fill="#000"/>
<line x1="1645.9" y1="355.1" x2="1655.3" y2="352.8" stroke="#000" stroke-width="3"/>
<circle cx="1693.9" cy="364" r="4.6" fill="#000"/>
<circle cx="1703.3" cy="361.7" r="4.6" fill="#000"/>
<line x1="1693.9" y1="364" x2="1703.3" y2="361.7" stroke="#000" stroke-width="3"/>
<circle cx="1741.9" cy="370" r="4.6" fill="#000"/>
<circle cx="1751.3" cy="369.3" r="4.6" fill="#000"/>
<line x1="1741.9" y1="370" x2="1751.3" y2="369.3" stroke="#000" stroke-width="3"/>
<circle cx="1837.9" cy="367.7" r="4.6" fill="#000"/>
<circle cx="1847.3" cy="366.7" r="4.6" fill="#000"/>
<line x1="1837.9" y1="367.7" x2="1847.3" y2="366.7" stroke="#000" stroke-width="3"/>
<circle cx="1885.9" cy="358.4" r="4.6" fill="#000"/>
<circle cx="1895.3" cy="357.4" r="4.6" fill="#000"/>
<line x1="1885.9" y1="358.4" x2="1895.3" y2="357.4" stroke="#000" stroke-width="3"/>
<circle cx="1933.9" cy="372.6" r="4.6" fill="#000"/>
<circle cx="1943.3" cy="370.7" r="4.6" fill="#000"/>
<line x1="1933.9" y1="372.6" x2="1943.3" y2="370.7" stroke="#000" stroke-width="3"/>
<circle cx="1981.9" cy="375" r="4.6" fill="#000"/>
<circle cx="1991.3" cy="375" r="4.6" fill="#000"/>
<line x1="1981.9" y1="375" x2="1991.3" y2="375" stroke="#000" stroke-width="3"/>
<circle cx="2027.9" cy="397.4" r="4.6" fill="#000"/>
<circle cx="2037.3" cy="397.4" r="4.6" fill="#000"/>
<line x1="2027.9" y1="397.4" x2="2037.3" y2="397.4" stroke="#000" stroke-width="3"/>
<line x1="1458.6" y1="341.3" x2="1458.6" y2="350.2" stroke="#000" stroke-width="3"/>
<line x1="1449.3" y1="341.3" x2="1467.8" y2="341.3" stroke="#000" stroke-width="3"/>
<line x1="1449.3" y1="350.2" x2="1467.8" y2="350.2" stroke="#000" stroke-width="3"/>
<circle cx="1458.6" cy="343.6" r="4.6" fill="#000"/>
<circle cx="1458.6" cy="348.5" r="4.6" fill="#000"/>
<line x1="1794.6" y1="357.8" x2="1794.6" y2="366" stroke="#000" stroke-width="3"/>
<line x1="1785.3" y1="357.8" x2="1803.8" y2="357.8" stroke="#000" stroke-width="3"/>
<line x1="1785.3" y1="366" x2="1803.8" y2="366" stroke="#000" stroke-width="3"/>
<circle cx="1794.6" cy="360" r="4.6" fill="#000"/>
<circle cx="1794.6" cy="364.4" r="4.6" fill="#000"/>
<text x="902.2" y="451.1" font-size="31.9" textLength="233.41" lengthAdjust="spacingAndGlyphs">tRNAs targeted:</text>
<text x="943.1" y="515.5" font-size="31.9" textLength="192.48" lengthAdjust="spacingAndGlyphs">epegRNA ID:</text>
<text x="1162.5" y="451.2" font-size="31.9" class="k" textLength="16.23" lengthAdjust="spacingAndGlyphs">2</text>
<text transform="translate(1182.6 528.7) rotate(-90)" font-size="31.9" class="k" textLength="48.68" lengthAdjust="spacingAndGlyphs">469</text>
<text x="1210.5" y="451.2" font-size="31.9" class="k" textLength="16.23" lengthAdjust="spacingAndGlyphs">4</text>
<text transform="translate(1230.6 559) rotate(-90)" font-size="31.9" class="k" textLength="78.96" lengthAdjust="spacingAndGlyphs">11836</text>
<text x="1258.5" y="451.2" font-size="31.9" class="k" textLength="16.23" lengthAdjust="spacingAndGlyphs">1</text>
<text transform="translate(1278.6 528.7) rotate(-90)" font-size="31.9" class="k" textLength="48.68" lengthAdjust="spacingAndGlyphs">491</text>
<text x="1306.5" y="451.2" font-size="31.9" class="k" textLength="16.23" lengthAdjust="spacingAndGlyphs">5</text>
<text transform="translate(1326.6 528.7) rotate(-90)" font-size="31.9" class="k" textLength="48.68" lengthAdjust="spacingAndGlyphs">501</text>
<text x="1354.5" y="451.2" font-size="31.9" class="k" textLength="16.23" lengthAdjust="spacingAndGlyphs">8</text>
<text transform="translate(1374.6 561.1) rotate(-90)" font-size="31.9" class="k" textLength="81.13" lengthAdjust="spacingAndGlyphs">12624</text>
<text x="1402.5" y="451.2" font-size="31.9" class="k" textLength="16.23" lengthAdjust="spacingAndGlyphs">1</text>
<text transform="translate(1422.6 544.9) rotate(-90)" font-size="31.9" class="k" textLength="64.90" lengthAdjust="spacingAndGlyphs">4394</text>
<text x="1450.5" y="451.2" font-size="31.9" class="k" textLength="16.23" lengthAdjust="spacingAndGlyphs">1</text>
<text transform="translate(1470.6 544.9) rotate(-90)" font-size="31.9" class="k" textLength="64.90" lengthAdjust="spacingAndGlyphs">7765</text>
<text x="1498.5" y="451.2" font-size="31.9" class="k" textLength="16.23" lengthAdjust="spacingAndGlyphs">8</text>
<text transform="translate(1518.6 561.1) rotate(-90)" font-size="31.9" class="k" textLength="81.13" lengthAdjust="spacingAndGlyphs">12607</text>
<text x="1546.5" y="451.2" font-size="31.9" class="k" textLength="16.23" lengthAdjust="spacingAndGlyphs">1</text>
<text transform="translate(1566.6 544.9) rotate(-90)" font-size="31.9" class="k" textLength="64.90" lengthAdjust="spacingAndGlyphs">5561</text>
<text x="1594.5" y="451.2" font-size="31.9" class="k" textLength="16.23" lengthAdjust="spacingAndGlyphs">1</text>
<text transform="translate(1614.6 544.9) rotate(-90)" font-size="31.9" class="k" textLength="64.90" lengthAdjust="spacingAndGlyphs">2037</text>
<text x="1642.5" y="451.2" font-size="31.9" class="k" textLength="16.23" lengthAdjust="spacingAndGlyphs">1</text>
<text transform="translate(1662.6 544.9) rotate(-90)" font-size="31.9" class="k" textLength="64.90" lengthAdjust="spacingAndGlyphs">4550</text>
<text x="1690.5" y="451.2" font-size="31.9" class="k" textLength="16.23" lengthAdjust="spacingAndGlyphs">1</text>
<text transform="translate(1710.6 544.9) rotate(-90)" font-size="31.9" class="k" textLength="64.90" lengthAdjust="spacingAndGlyphs">9207</text>
<text x="1738.5" y="451.2" font-size="31.9" class="k" textLength="16.23" lengthAdjust="spacingAndGlyphs">7</text>
<text transform="translate(1758.6 544.9) rotate(-90)" font-size="31.9" class="k" textLength="64.90" lengthAdjust="spacingAndGlyphs">5577</text>
<text x="1782.9" y="451.2" font-size="31.9" class="k" textLength="32.45" lengthAdjust="spacingAndGlyphs">10</text>
<text transform="translate(1806.6 544.9) rotate(-90)" font-size="31.9" class="k" textLength="64.90" lengthAdjust="spacingAndGlyphs">9830</text>
<text x="1834.5" y="451.2" font-size="31.9" class="k" textLength="16.23" lengthAdjust="spacingAndGlyphs">1</text>
<text transform="translate(1854.6 542.7) rotate(-90)" font-size="31.9" class="k" textLength="62.74" lengthAdjust="spacingAndGlyphs">9110</text>
<text x="1882.5" y="451.2" font-size="31.9" class="k" textLength="16.23" lengthAdjust="spacingAndGlyphs">1</text>
<text transform="translate(1902.6 544.9) rotate(-90)" font-size="31.9" class="k" textLength="64.90" lengthAdjust="spacingAndGlyphs">2777</text>
<text x="1926.9" y="451.2" font-size="31.9" class="k" textLength="32.45" lengthAdjust="spacingAndGlyphs">10</text>
<text transform="translate(1950.6 544.9) rotate(-90)" font-size="31.9" class="k" textLength="64.90" lengthAdjust="spacingAndGlyphs">9829</text>
<text x="1978.5" y="451.2" font-size="31.9" class="k" textLength="16.23" lengthAdjust="spacingAndGlyphs">4</text>
<text transform="translate(1998.6 544.9) rotate(-90)" font-size="31.9" class="k" textLength="64.90" lengthAdjust="spacingAndGlyphs">8757</text>
<text x="2026.5" y="451.2" font-size="31.9" class="k" textLength="16.23" lengthAdjust="spacingAndGlyphs">5</text>
<text transform="translate(2046.6 561.1) rotate(-90)" font-size="31.9" class="k" textLength="81.13" lengthAdjust="spacingAndGlyphs">16075</text>
<text transform="translate(2083 586.7) rotate(-90)" font-size="31.9" class="k" textLength="128.88" lengthAdjust="spacingAndGlyphs">(negative)</text>
<text x="1837.3" y="36.3" font-size="31.9" textLength="170.52" lengthAdjust="spacingAndGlyphs">tRNA family</text>
<circle cx="1778.5" cy="77" r="14.2" fill="#DC2A3C"/>
<text x="1816.5" y="87.5" font-size="31.9" class="k">Arg</text>
<circle cx="1973.7" cy="79.3" r="14.2" fill="#4AA9DB"/>
<text x="2012" y="86.5" font-size="31.9" class="k">Leu</text>
<circle cx="1775.8" cy="130.2" r="14.2" fill="#6472B3"/>
<text x="1815.5" y="139.4" font-size="31.9" class="k">Ser</text>
<circle cx="1973.7" cy="136.4" r="14.2" fill="#D0A9CB"/>
<text x="2011.4" y="145.4" font-size="31.9" class="k">Tyr</text>
<text x="19" y="741.3" font-size="54" font-weight="bold">c</text>
<rect x="206.2" y="957" width="12.8" height="178.4" fill="#6AC3EC"/>
<rect x="262.7" y="1007.2" width="12.8" height="128.2" fill="#6AC3EC"/>
<rect x="319.3" y="938.5" width="12.8" height="196.9" fill="#6AC3EC"/>
<rect x="375.8" y="916.4" width="12.8" height="219" fill="#6AC3EC"/>
<rect x="432.4" y="944.5" width="12.8" height="190.9" fill="#6AC3EC"/>
<rect x="488.9" y="1055.1" width="12.8" height="80.3" fill="#6AC3EC"/>
<rect x="545.4" y="1023.8" width="12.8" height="111.6" fill="#6AC3EC"/>
<rect x="602" y="1011.5" width="12.8" height="123.9" fill="#6AC3EC"/>
<rect x="658.5" y="1009.9" width="12.8" height="125.5" fill="#6AC3EC"/>
<rect x="715.1" y="1002.6" width="12.8" height="132.8" fill="#6AC3EC"/>
<rect x="771.6" y="1005.9" width="12.8" height="129.5" fill="#6AC3EC"/>
<rect x="828.1" y="982.5" width="12.8" height="152.9" fill="#6AC3EC"/>
<rect x="884.7" y="965.9" width="12.8" height="169.5" fill="#6AC3EC"/>
<rect x="941.2" y="996.3" width="12.8" height="139.1" fill="#6AC3EC"/>
<rect x="997.8" y="1011.5" width="12.8" height="123.9" fill="#6AC3EC"/>
<rect x="1054.3" y="851" width="12.8" height="284.4" fill="#6AC3EC"/>
<line x1="198.2" y1="774.4" x2="198.2" y2="1136.4" stroke="#000" stroke-width="2"/>
<line x1="183.3" y1="1135.4" x2="1095.8" y2="1135.4" stroke="#000" stroke-width="2"/>
<line x1="183.3" y1="775.4" x2="198.2" y2="775.4" stroke="#000" stroke-width="2"/>
<line x1="183.3" y1="895.2" x2="198.2" y2="895.2" stroke="#000" stroke-width="2"/>
<line x1="183.3" y1="1015.5" x2="198.2" y2="1015.5" stroke="#000" stroke-width="2"/>
<line x1="222.6" y1="1135.4" x2="222.6" y2="1149.5" stroke="#000" stroke-width="2"/>
<line x1="279.1" y1="1135.4" x2="279.1" y2="1149.5" stroke="#000" stroke-width="2"/>
<line x1="335.7" y1="1135.4" x2="335.7" y2="1149.5" stroke="#000" stroke-width="2"/>
<line x1="392.2" y1="1135.4" x2="392.2" y2="1149.5" stroke="#000" stroke-width="2"/>
<line x1="448.8" y1="1135.4" x2="448.8" y2="1149.5" stroke="#000" stroke-width="2"/>
<line x1="505.3" y1="1135.4" x2="505.3" y2="1149.5" stroke="#000" stroke-width="2"/>
<line x1="561.8" y1="1135.4" x2="561.8" y2="1149.5" stroke="#000" stroke-width="2"/>
<line x1="618.4" y1="1135.4" x2="618.4" y2="1149.5" stroke="#000" stroke-width="2"/>
<line x1="674.9" y1="1135.4" x2="674.9" y2="1149.5" stroke="#000" stroke-width="2"/>
<line x1="731.5" y1="1135.4" x2="731.5" y2="1149.5" stroke="#000" stroke-width="2"/>
<line x1="788" y1="1135.4" x2="788" y2="1149.5" stroke="#000" stroke-width="2"/>
<line x1="844.5" y1="1135.4" x2="844.5" y2="1149.5" stroke="#000" stroke-width="2"/>
<line x1="901.1" y1="1135.4" x2="901.1" y2="1149.5" stroke="#000" stroke-width="2"/>
<line x1="957.6" y1="1135.4" x2="957.6" y2="1149.5" stroke="#000" stroke-width="2"/>
<line x1="1014.2" y1="1135.4" x2="1014.2" y2="1149.5" stroke="#000" stroke-width="2"/>
<line x1="1070.7" y1="1135.4" x2="1070.7" y2="1149.5" stroke="#000" stroke-width="2"/>
<text x="139.5" y="785.4" font-size="34.3" class="k" textLength="35.48" lengthAdjust="spacingAndGlyphs">60</text>
<text x="139.5" y="905.4" font-size="34.3" class="k" textLength="35.48" lengthAdjust="spacingAndGlyphs">40</text>
<text x="139.5" y="1025.6" font-size="34.3" class="k" textLength="35.48" lengthAdjust="spacingAndGlyphs">20</text>
<text x="157.3" y="1145.5" font-size="34.3" class="k" textLength="17.74" lengthAdjust="spacingAndGlyphs">0</text>
<text transform="translate(77.6 1114.3) rotate(-90)" font-size="31.9" class="k" textLength="320.24" lengthAdjust="spacingAndGlyphs">Sequencing reads with</text>
<text transform="translate(120.6 1104) rotate(-90)" font-size="31.9" class="k" textLength="295.70" lengthAdjust="spacingAndGlyphs">the specified edit (%)</text>
<line x1="212.6" y1="942.2" x2="212.6" y2="969" stroke="#000" stroke-width="2.1"/>
<line x1="208.3" y1="942.2" x2="216.8" y2="942.2" stroke="#000" stroke-width="2.1"/>
<line x1="208.3" y1="969" x2="216.8" y2="969" stroke="#000" stroke-width="2.1"/>
<circle cx="212.4" cy="946.1" r="5.5" fill="#000"/>
<circle cx="213" cy="966.3" r="5.5" fill="#000"/>
<circle cx="231.4" cy="1134.8" r="5.5" fill="#000"/>
<circle cx="236.2" cy="1134.4" r="5.5" fill="#000"/>
<line x1="269.1" y1="998" x2="269.1" y2="1014" stroke="#000" stroke-width="2.1"/>
<line x1="264.9" y1="998" x2="273.4" y2="998" stroke="#000" stroke-width="2.1"/>
<line x1="264.9" y1="1014" x2="273.4" y2="1014" stroke="#000" stroke-width="2.1"/>
<circle cx="269.1" cy="1000" r="5.5" fill="#000"/>
<circle cx="269.1" cy="1012.2" r="5.5" fill="#000"/>
<circle cx="287.9" cy="1134.8" r="5.5" fill="#000"/>
<circle cx="292.7" cy="1134.4" r="5.5" fill="#000"/>
<circle cx="327.7" cy="934.6" r="5.5" fill="#000"/>
<circle cx="323.8" cy="937.9" r="5.5" fill="#000"/>
<circle cx="344.5" cy="1134.8" r="5.5" fill="#000"/>
<circle cx="349.3" cy="1134.4" r="5.5" fill="#000"/>
<line x1="382.2" y1="909" x2="382.2" y2="922" stroke="#000" stroke-width="2.1"/>
<line x1="378" y1="909" x2="386.5" y2="909" stroke="#000" stroke-width="2.1"/>
<line x1="378" y1="922" x2="386.5" y2="922" stroke="#000" stroke-width="2.1"/>
<circle cx="384.2" cy="911.4" r="5.5" fill="#000"/>
<circle cx="380.3" cy="920.3" r="5.5" fill="#000"/>
<circle cx="401" cy="1134.8" r="5.5" fill="#000"/>
<circle cx="405.8" cy="1134.4" r="5.5" fill="#000"/>
<line x1="438.8" y1="922" x2="438.8" y2="965.3" stroke="#000" stroke-width="2.1"/>
<line x1="434.5" y1="922" x2="443" y2="922" stroke="#000" stroke-width="2.1"/>
<line x1="434.5" y1="965.3" x2="443" y2="965.3" stroke="#000" stroke-width="2.1"/>
<circle cx="438.8" cy="928" r="5.5" fill="#000"/>
<circle cx="438.8" cy="959.7" r="5.5" fill="#000"/>
<circle cx="457.6" cy="1134.8" r="5.5" fill="#000"/>
<circle cx="462.4" cy="1134.4" r="5.5" fill="#000"/>
<line x1="495.3" y1="1046" x2="495.3" y2="1059" stroke="#000" stroke-width="2.1"/>
<line x1="491" y1="1046" x2="499.5" y2="1046" stroke="#000" stroke-width="2.1"/>
<line x1="491" y1="1059" x2="499.5" y2="1059" stroke="#000" stroke-width="2.1"/>
<circle cx="497.3" cy="1048.5" r="5.5" fill="#000"/>
<circle cx="493.3" cy="1056.8" r="5.5" fill="#000"/>
<circle cx="514.1" cy="1134.8" r="5.5" fill="#000"/>
<circle cx="518.9" cy="1134.4" r="5.5" fill="#000"/>
<line x1="551.8" y1="1016" x2="551.8" y2="1030" stroke="#000" stroke-width="2.1"/>
<line x1="547.6" y1="1016" x2="556.1" y2="1016" stroke="#000" stroke-width="2.1"/>
<line x1="547.6" y1="1030" x2="556.1" y2="1030" stroke="#000" stroke-width="2.1"/>
<circle cx="554" cy="1018.5" r="5.5" fill="#000"/>
<circle cx="549.7" cy="1028" r="5.5" fill="#000"/>
<circle cx="570.6" cy="1134.8" r="5.5" fill="#000"/>
<circle cx="575.4" cy="1134.4" r="5.5" fill="#000"/>
<line x1="608.4" y1="941.2" x2="608.4" y2="1080.9" stroke="#000" stroke-width="2.1"/>
<line x1="604.1" y1="941.2" x2="612.6" y2="941.2" stroke="#000" stroke-width="2.1"/>
<line x1="604.1" y1="1080.9" x2="612.6" y2="1080.9" stroke="#000" stroke-width="2.1"/>
<circle cx="608.4" cy="962" r="5.5" fill="#000"/>
<circle cx="608.4" cy="1060.1" r="5.5" fill="#000"/>
<circle cx="627.2" cy="1134.8" r="5.5" fill="#000"/>
<circle cx="632" cy="1134.4" r="5.5" fill="#000"/>
<line x1="664.9" y1="993" x2="664.9" y2="1024.7" stroke="#000" stroke-width="2.1"/>
<line x1="660.7" y1="993" x2="669.2" y2="993" stroke="#000" stroke-width="2.1"/>
<line x1="660.7" y1="1024.7" x2="669.2" y2="1024.7" stroke="#000" stroke-width="2.1"/>
<circle cx="664.9" cy="997.7" r="5.5" fill="#000"/>
<circle cx="664.9" cy="1020.4" r="5.5" fill="#000"/>
<circle cx="683.7" cy="1134.8" r="5.5" fill="#000"/>
<circle cx="688.5" cy="1134.4" r="5.5" fill="#000"/>
<line x1="721.5" y1="993" x2="721.5" y2="1010" stroke="#000" stroke-width="2.1"/>
<line x1="717.2" y1="993" x2="725.7" y2="993" stroke="#000" stroke-width="2.1"/>
<line x1="717.2" y1="1010" x2="725.7" y2="1010" stroke="#000" stroke-width="2.1"/>
<circle cx="721.5" cy="995.7" r="5.5" fill="#000"/>
<circle cx="721.5" cy="1007.9" r="5.5" fill="#000"/>
<circle cx="740.3" cy="1134.8" r="5.5" fill="#000"/>
<circle cx="745.1" cy="1134.4" r="5.5" fill="#000"/>
<line x1="778" y1="994" x2="778" y2="1015" stroke="#000" stroke-width="2.1"/>
<line x1="773.8" y1="994" x2="782.2" y2="994" stroke="#000" stroke-width="2.1"/>
<line x1="773.8" y1="1015" x2="782.2" y2="1015" stroke="#000" stroke-width="2.1"/>
<circle cx="778" cy="996.7" r="5.5" fill="#000"/>
<circle cx="778" cy="1012.9" r="5.5" fill="#000"/>
<circle cx="796.8" cy="1134.8" r="5.5" fill="#000"/>
<circle cx="801.6" cy="1134.4" r="5.5" fill="#000"/>
<circle cx="836.7" cy="980.8" r="5.5" fill="#000"/>
<circle cx="832.4" cy="983.1" r="5.5" fill="#000"/>
<circle cx="853.3" cy="1134.8" r="5.5" fill="#000"/>
<circle cx="858.1" cy="1134.4" r="5.5" fill="#000"/>
<line x1="891.1" y1="956" x2="891.1" y2="975" stroke="#000" stroke-width="2.1"/>
<line x1="886.8" y1="956" x2="895.3" y2="956" stroke="#000" stroke-width="2.1"/>
<line x1="886.8" y1="975" x2="895.3" y2="975" stroke="#000" stroke-width="2.1"/>
<circle cx="891.1" cy="958.3" r="5.5" fill="#000"/>
<circle cx="891.1" cy="972.5" r="5.5" fill="#000"/>
<circle cx="909.9" cy="1134.8" r="5.5" fill="#000"/>
<circle cx="914.7" cy="1134.4" r="5.5" fill="#000"/>
<line x1="947.6" y1="984" x2="947.6" y2="1006" stroke="#000" stroke-width="2.1"/>
<line x1="943.4" y1="984" x2="951.9" y2="984" stroke="#000" stroke-width="2.1"/>
<line x1="943.4" y1="1006" x2="951.9" y2="1006" stroke="#000" stroke-width="2.1"/>
<circle cx="947.6" cy="986.4" r="5.5" fill="#000"/>
<circle cx="947.6" cy="1003.3" r="5.5" fill="#000"/>
<circle cx="966.4" cy="1134.8" r="5.5" fill="#000"/>
<circle cx="971.2" cy="1134.4" r="5.5" fill="#000"/>
<line x1="1004.2" y1="992.4" x2="1004.2" y2="1030.4" stroke="#000" stroke-width="2.1"/>
<line x1="999.9" y1="992.4" x2="1008.4" y2="992.4" stroke="#000" stroke-width="2.1"/>
<line x1="999.9" y1="1030.4" x2="1008.4" y2="1030.4" stroke="#000" stroke-width="2.1"/>
<circle cx="1004.2" cy="998" r="5.5" fill="#000"/>
<circle cx="1004.2" cy="1026.4" r="5.5" fill="#000"/>
<circle cx="1023" cy="1134.8" r="5.5" fill="#000"/>
<circle cx="1027.8" cy="1134.4" r="5.5" fill="#000"/>
<line x1="1060.7" y1="841" x2="1060.7" y2="859" stroke="#000" stroke-width="2.1"/>
<line x1="1056.5" y1="841" x2="1065" y2="841" stroke="#000" stroke-width="2.1"/>
<line x1="1056.5" y1="859" x2="1065" y2="859" stroke="#000" stroke-width="2.1"/>
<circle cx="1060.7" cy="843.7" r="5.5" fill="#000"/>
<circle cx="1060.7" cy="856.9" r="5.5" fill="#000"/>
<circle cx="1079.5" cy="1134.8" r="5.5" fill="#000"/>
<circle cx="1084.3" cy="1134.4" r="5.5" fill="#000"/>
<rect x="232.9" y="779.3" width="41.6" height="25.6" fill="#6AC3EC"/>
<rect x="232.9" y="816.3" width="41.6" height="25.6" fill="#E1E1E1"/>
<text x="284.8" y="804.7" font-size="31.9" textLength="174.34" lengthAdjust="spacingAndGlyphs">Desired edit</text>
<text x="284.4" y="840.4" font-size="31.9" textLength="88.90" lengthAdjust="spacingAndGlyphs">Indels</text>
<text x="-1.3" y="1190.6" font-size="31.9" textLength="141.61" lengthAdjust="spacingAndGlyphs">epegRNA</text>
<text x="104.2" y="1229.6" font-size="31.9" textLength="45.19" lengthAdjust="spacingAndGlyphs">ID:</text>
<text transform="translate(196.6 1207.2) rotate(-45)" font-size="31.9" class="k" textLength="50.06" lengthAdjust="spacingAndGlyphs">469</text>
<text transform="translate(231.1 1229.2) rotate(-45)" font-size="31.9" class="k" textLength="81.20" lengthAdjust="spacingAndGlyphs">11836</text>
<text transform="translate(309.7 1207.2) rotate(-45)" font-size="31.9" class="k" textLength="50.06" lengthAdjust="spacingAndGlyphs">491</text>
<text transform="translate(366.2 1207.2) rotate(-45)" font-size="31.9" class="k" textLength="50.06" lengthAdjust="spacingAndGlyphs">501</text>
<text transform="translate(399.2 1230.8) rotate(-45)" font-size="31.9" class="k" textLength="83.43" lengthAdjust="spacingAndGlyphs">12624</text>
<text transform="translate(467.5 1219) rotate(-45)" font-size="31.9" class="k" textLength="66.74" lengthAdjust="spacingAndGlyphs">4394</text>
<text transform="translate(524 1219) rotate(-45)" font-size="31.9" class="k" textLength="66.74" lengthAdjust="spacingAndGlyphs">7765</text>
<text transform="translate(568.8 1230.8) rotate(-45)" font-size="31.9" class="k" textLength="83.43" lengthAdjust="spacingAndGlyphs">12607</text>
<text transform="translate(637.1 1219) rotate(-45)" font-size="31.9" class="k" textLength="66.74" lengthAdjust="spacingAndGlyphs">2037</text>
<text transform="translate(693.7 1219) rotate(-45)" font-size="31.9" class="k" textLength="66.74" lengthAdjust="spacingAndGlyphs">4550</text>
<text transform="translate(750.2 1219) rotate(-45)" font-size="31.9" class="k" textLength="66.74" lengthAdjust="spacingAndGlyphs">9207</text>
<text transform="translate(806.7 1219) rotate(-45)" font-size="31.9" class="k" textLength="66.74" lengthAdjust="spacingAndGlyphs">9830</text>
<text transform="translate(864.9 1217.4) rotate(-45)" font-size="31.9" class="k" textLength="64.52" lengthAdjust="spacingAndGlyphs">9110</text>
<text transform="translate(919.8 1219) rotate(-45)" font-size="31.9" class="k" textLength="66.74" lengthAdjust="spacingAndGlyphs">9829</text>
<text transform="translate(976.4 1219) rotate(-45)" font-size="31.9" class="k" textLength="66.74" lengthAdjust="spacingAndGlyphs">8757</text>
<text transform="translate(1021.1 1230.8) rotate(-45)" font-size="31.9" class="k" textLength="83.43" lengthAdjust="spacingAndGlyphs">16075</text>
<text x="1163.5" y="739.6" font-size="54" font-weight="bold">d</text>
<rect x="1312.9" y="724.1" width="852.5" height="461.1" fill="#fff"/>
<line x1="1312.9" y1="1111.8" x2="2165.4" y2="1111.8" stroke="#EAEAEA" stroke-width="1.2"/>
<line x1="1312.9" y1="1006.9" x2="2165.4" y2="1006.9" stroke="#EAEAEA" stroke-width="1.2"/>
<line x1="1312.9" y1="902" x2="2165.4" y2="902" stroke="#EAEAEA" stroke-width="1.2"/>
<line x1="1312.9" y1="797" x2="2165.4" y2="797" stroke="#EAEAEA" stroke-width="1.2"/>
<line x1="1312.9" y1="1164.2" x2="2165.4" y2="1164.2" stroke="#DCDCDC" stroke-width="2.2"/>
<line x1="1312.9" y1="1059.3" x2="2165.4" y2="1059.3" stroke="#DCDCDC" stroke-width="2.2"/>
<line x1="1312.9" y1="954.4" x2="2165.4" y2="954.4" stroke="#DCDCDC" stroke-width="2.2"/>
<line x1="1312.9" y1="849.5" x2="2165.4" y2="849.5" stroke="#DCDCDC" stroke-width="2.2"/>
<line x1="1312.9" y1="744.6" x2="2165.4" y2="744.6" stroke="#DCDCDC" stroke-width="2.2"/>
<line x1="1354.5" y1="724.1" x2="1354.5" y2="1185.2" stroke="#DCDCDC" stroke-width="2.2"/>
<line x1="1424.5" y1="724.1" x2="1424.5" y2="1185.2" stroke="#DCDCDC" stroke-width="2.2"/>
<line x1="1494.6" y1="724.1" x2="1494.6" y2="1185.2" stroke="#DCDCDC" stroke-width="2.2"/>
<line x1="1564.6" y1="724.1" x2="1564.6" y2="1185.2" stroke="#DCDCDC" stroke-width="2.2"/>
<line x1="1634.6" y1="724.1" x2="1634.6" y2="1185.2" stroke="#DCDCDC" stroke-width="2.2"/>
<line x1="1704.7" y1="724.1" x2="1704.7" y2="1185.2" stroke="#DCDCDC" stroke-width="2.2"/>
<line x1="1774.7" y1="724.1" x2="1774.7" y2="1185.2" stroke="#DCDCDC" stroke-width="2.2"/>
<line x1="1844.7" y1="724.1" x2="1844.7" y2="1185.2" stroke="#DCDCDC" stroke-width="2.2"/>
<line x1="1914.7" y1="724.1" x2="1914.7" y2="1185.2" stroke="#DCDCDC" stroke-width="2.2"/>
<line x1="1984.8" y1="724.1" x2="1984.8" y2="1185.2" stroke="#DCDCDC" stroke-width="2.2"/>
<line x1="2054.8" y1="724.1" x2="2054.8" y2="1185.2" stroke="#DCDCDC" stroke-width="2.2"/>
<line x1="2124.8" y1="724.1" x2="2124.8" y2="1185.2" stroke="#DCDCDC" stroke-width="2.2"/>
<g fill="#6472B3">
<circle cx="1362.1" cy="1011.5" r="5.3"/><circle cx="1331.7" cy="1038.6" r="5.3"/><circle cx="1357.5" cy="1049.5" r="5.3"/><circle cx="1358.6" cy="1135" r="5.3"/><circle cx="1380.3" cy="1162.3" r="5.3"/><circle cx="1346.9" cy="1161.6" r="5.3"/><circle cx="1343.6" cy="1156.9" r="5.3"/><circle cx="1334.9" cy="1105.2" r="5.3"/><circle cx="1367.8" cy="1158.1" r="5.3"/><circle cx="1330.6" cy="1162.4" r="5.3"/><circle cx="1367.7" cy="1121.7" r="5.3"/><circle cx="1361.4" cy="1129" r="5.3"/><circle cx="1371.3" cy="1102.7" r="5.3"/><circle cx="1362" cy="1134.9" r="5.3"/><circle cx="1376.1" cy="1156.8" r="5.3"/><circle cx="1379" cy="1139.7" r="5.3"/><circle cx="1371.8" cy="1137.4" r="5.3"/><circle cx="1342.6" cy="1039.7" r="5.3"/><circle cx="1369" cy="1093.5" r="5.3"/><circle cx="1332.7" cy="1110.8" r="5.3"/><circle cx="1380.7" cy="1162.2" r="5.3"/><circle cx="1381.1" cy="1124.1" r="5.3"/><circle cx="1363.4" cy="1144.6" r="5.3"/><circle cx="1375.7" cy="1040.9" r="5.3"/><circle cx="1350.3" cy="1149.4" r="5.3"/><circle cx="1375.5" cy="1153.9" r="5.3"/><circle cx="1357.9" cy="1147.2" r="5.3"/><circle cx="1353.5" cy="1141.9" r="5.3"/><circle cx="1333.5" cy="1140.5" r="5.3"/><circle cx="1365.8" cy="1141.2" r="5.3"/><circle cx="1340.6" cy="1062.8" r="5.3"/><circle cx="1336.1" cy="1133.6" r="5.3"/><circle cx="1380.6" cy="1158.5" r="5.3"/><circle cx="1352" cy="1124.9" r="5.3"/><circle cx="1376.7" cy="1162" r="5.3"/><circle cx="1377.8" cy="1128.8" r="5.3"/><circle cx="1375.1" cy="1158.9" r="5.3"/><circle cx="1345.8" cy="1088.4" r="5.3"/><circle cx="1334.4" cy="1105.6" r="5.3"/><circle cx="1368.9" cy="1130.1" r="5.3"/><circle cx="1353.5" cy="1155.1" r="5.3"/><circle cx="1347.1" cy="1145.1" r="5.3"/>
</g>
<g fill="#4AA9DB">
<circle cx="1353.2" cy="798.4" r="5.3"/><circle cx="1349.2" cy="851" r="5.3"/><circle cx="1343.3" cy="863.9" r="5.3"/><circle cx="1377.3" cy="859.9" r="5.3"/><circle cx="1331.7" cy="931.3" r="5.3"/><circle cx="1349.9" cy="945.5" r="5.3"/><circle cx="1372" cy="986.8" r="5.3"/><circle cx="1344.3" cy="996.7" r="5.3"/><circle cx="1364.7" cy="998" r="5.3"/><circle cx="1340" cy="1015.5" r="5.3"/><circle cx="1374" cy="1010.5" r="5.3"/><circle cx="1333.3" cy="1022.1" r="5.3"/><circle cx="1332.4" cy="1032" r="5.3"/><circle cx="1347.2" cy="1033.7" r="5.3"/><circle cx="1364.7" cy="1032" r="5.3"/><circle cx="1360.4" cy="1037" r="5.3"/><circle cx="1375.3" cy="1039.3" r="5.3"/><circle cx="1368" cy="1045.2" r="5.3"/><circle cx="1330" cy="1050.2" r="5.3"/><circle cx="1341.6" cy="1065" r="5.3"/><circle cx="1356.5" cy="1065" r="5.3"/><circle cx="1374.6" cy="1070" r="5.3"/><circle cx="1377.9" cy="1083.2" r="5.3"/><circle cx="1361.4" cy="1084.9" r="5.3"/><circle cx="1348.2" cy="1091.5" r="5.3"/><circle cx="1335" cy="1073.2" r="5.3"/><circle cx="1361.4" cy="1102.9" r="5.3"/><circle cx="1356.9" cy="1162.5" r="5.3"/><circle cx="1342.2" cy="1158" r="5.3"/><circle cx="1353.3" cy="1101.3" r="5.3"/><circle cx="1346" cy="1092.2" r="5.3"/><circle cx="1373.3" cy="1141.2" r="5.3"/><circle cx="1370.9" cy="1029.7" r="5.3"/><circle cx="1376.6" cy="1157" r="5.3"/><circle cx="1351" cy="1023.1" r="5.3"/><circle cx="1369.8" cy="1107.5" r="5.3"/><circle cx="1335.8" cy="1081.3" r="5.3"/><circle cx="1358.5" cy="1158.6" r="5.3"/><circle cx="1367.4" cy="1158" r="5.3"/><circle cx="1335.7" cy="1104.9" r="5.3"/><circle cx="1345" cy="1148.4" r="5.3"/><circle cx="1359.7" cy="1161.6" r="5.3"/><circle cx="1348.9" cy="1112.6" r="5.3"/><circle cx="1340.3" cy="1054.9" r="5.3"/><circle cx="1370.2" cy="1043.7" r="5.3"/><circle cx="1351.4" cy="1112.2" r="5.3"/><circle cx="1379.3" cy="1162.3" r="5.3"/><circle cx="1344.8" cy="1113.4" r="5.3"/><circle cx="1333.3" cy="1089.5" r="5.3"/><circle cx="1377" cy="1152.5" r="5.3"/><circle cx="1343.6" cy="1162.5" r="5.3"/><circle cx="1338.8" cy="1162.1" r="5.3"/><circle cx="1336.5" cy="1117.5" r="5.3"/><circle cx="1359.8" cy="1095.6" r="5.3"/><circle cx="1379.3" cy="1093.6" r="5.3"/><circle cx="1381.2" cy="1149.3" r="5.3"/><circle cx="1372.8" cy="1045.8" r="5.3"/><circle cx="1372.9" cy="1136.5" r="5.3"/><circle cx="1330.3" cy="1154.2" r="5.3"/><circle cx="1340.2" cy="1098.2" r="5.3"/><circle cx="1362.9" cy="1044.4" r="5.3"/><circle cx="1373" cy="1042.1" r="5.3"/><circle cx="1346" cy="1115.7" r="5.3"/><circle cx="1378.7" cy="1091.4" r="5.3"/><circle cx="1352.9" cy="1159" r="5.3"/><circle cx="1353.4" cy="1022.6" r="5.3"/><circle cx="1374.7" cy="1162.4" r="5.3"/><circle cx="1359.1" cy="1092" r="5.3"/><circle cx="1331.1" cy="1073.5" r="5.3"/><circle cx="1337" cy="1155.4" r="5.3"/><circle cx="1338.9" cy="1090.8" r="5.3"/><circle cx="1368.7" cy="1110.2" r="5.3"/><circle cx="1376" cy="1073.4" r="5.3"/><circle cx="1365.6" cy="1037" r="5.3"/><circle cx="1377.9" cy="1072.3" r="5.3"/><circle cx="1334" cy="1146.6" r="5.3"/><circle cx="1371.4" cy="1162.4" r="5.3"/><circle cx="1339" cy="1071.6" r="5.3"/><circle cx="1337.2" cy="1074.4" r="5.3"/><circle cx="1337" cy="1032.2" r="5.3"/><circle cx="1345.8" cy="1119.5" r="5.3"/><circle cx="1375" cy="1060.4" r="5.3"/><circle cx="1360.9" cy="1128.1" r="5.3"/><circle cx="1356.2" cy="1026.3" r="5.3"/><circle cx="1354.1" cy="1153.3" r="5.3"/><circle cx="1346.1" cy="1131.9" r="5.3"/><circle cx="1377.4" cy="1109.6" r="5.3"/><circle cx="1331.1" cy="1076.4" r="5.3"/><circle cx="1365.1" cy="1156" r="5.3"/><circle cx="1361.7" cy="1146" r="5.3"/><circle cx="1349.1" cy="1137" r="5.3"/><circle cx="1337.9" cy="1124.3" r="5.3"/><circle cx="1346.9" cy="1045.3" r="5.3"/><circle cx="1338.2" cy="1049.4" r="5.3"/><circle cx="1343.1" cy="1088.2" r="5.3"/><circle cx="1377.1" cy="1042.9" r="5.3"/><circle cx="1339.5" cy="1096.7" r="5.3"/><circle cx="1359" cy="1126.5" r="5.3"/><circle cx="1373.8" cy="1020.1" r="5.3"/><circle cx="1378.8" cy="1162.1" r="5.3"/><circle cx="1346.6" cy="1079.7" r="5.3"/><circle cx="1339.8" cy="1140.7" r="5.3"/><circle cx="1371.6" cy="1076.7" r="5.3"/><circle cx="1369.1" cy="1079.2" r="5.3"/><circle cx="1333.4" cy="1089" r="5.3"/><circle cx="1330.3" cy="1132.9" r="5.3"/><circle cx="1361.9" cy="1105.8" r="5.3"/><circle cx="1362.9" cy="1033.5" r="5.3"/><circle cx="1350.4" cy="1154.1" r="5.3"/><circle cx="1349.1" cy="1157.8" r="5.3"/><circle cx="1377.7" cy="1162.3" r="5.3"/><circle cx="1330.4" cy="1151.2" r="5.3"/><circle cx="1376.4" cy="1161.9" r="5.3"/><circle cx="1379.9" cy="1131.7" r="5.3"/><circle cx="1340.2" cy="1134.6" r="5.3"/><circle cx="1336.1" cy="1124.5" r="5.3"/><circle cx="1353.2" cy="1100.2" r="5.3"/><circle cx="1342" cy="1086.5" r="5.3"/><circle cx="1339.5" cy="1082.3" r="5.3"/><circle cx="1332.8" cy="1162.3" r="5.3"/><circle cx="1361.8" cy="1138.4" r="5.3"/><circle cx="1333.5" cy="1122.4" r="5.3"/><circle cx="1354.4" cy="1144.2" r="5.3"/><circle cx="1369.3" cy="1108.6" r="5.3"/><circle cx="1352.2" cy="1040.3" r="5.3"/><circle cx="1374.8" cy="1161.4" r="5.3"/><circle cx="1344.3" cy="1095" r="5.3"/><circle cx="1367.1" cy="1145.7" r="5.3"/><circle cx="1371.1" cy="1136.8" r="5.3"/><circle cx="1343.7" cy="1047.4" r="5.3"/><circle cx="1348.4" cy="1144.9" r="5.3"/><circle cx="1345.1" cy="1051.1" r="5.3"/><circle cx="1369.1" cy="1125.5" r="5.3"/><circle cx="1376.9" cy="1092.1" r="5.3"/><circle cx="1371.1" cy="1091.7" r="5.3"/><circle cx="1350.1" cy="1019.9" r="5.3"/><circle cx="1351.6" cy="1157.3" r="5.3"/><circle cx="1336.2" cy="1026.2" r="5.3"/><circle cx="1332.9" cy="1158.6" r="5.3"/><circle cx="1376.6" cy="1115.5" r="5.3"/><circle cx="1339.2" cy="1161.1" r="5.3"/><circle cx="1339.2" cy="1156.2" r="5.3"/><circle cx="1368.8" cy="1158.9" r="5.3"/><circle cx="1341.1" cy="1131" r="5.3"/><circle cx="1369" cy="1032.7" r="5.3"/><circle cx="1356.3" cy="1124.6" r="5.3"/><circle cx="1362.2" cy="1020.1" r="5.3"/><circle cx="1354.1" cy="1162.5" r="5.3"/><circle cx="1337.8" cy="1159.5" r="5.3"/><circle cx="1380.9" cy="1106.1" r="5.3"/><circle cx="1334.8" cy="1066.2" r="5.3"/><circle cx="1377" cy="1139.3" r="5.3"/><circle cx="1345.7" cy="1150" r="5.3"/><circle cx="1365.1" cy="1145.5" r="5.3"/><circle cx="1363.1" cy="1064.3" r="5.3"/><circle cx="1366.3" cy="1143.8" r="5.3"/><circle cx="1353.3" cy="1118.8" r="5.3"/><circle cx="1368.3" cy="1019.7" r="5.3"/><circle cx="1344.7" cy="1109.9" r="5.3"/><circle cx="1345.1" cy="1122.7" r="5.3"/><circle cx="1364.1" cy="1142.1" r="5.3"/><circle cx="1367.4" cy="1157.6" r="5.3"/><circle cx="1372.3" cy="1148.2" r="5.3"/><circle cx="1339" cy="1092.1" r="5.3"/><circle cx="1360" cy="1062.5" r="5.3"/><circle cx="1337.8" cy="1156.1" r="5.3"/><circle cx="1372" cy="1079.3" r="5.3"/><circle cx="1351" cy="1148.2" r="5.3"/><circle cx="1346.8" cy="1162.5" r="5.3"/><circle cx="1335.2" cy="1103.5" r="5.3"/><circle cx="1357.7" cy="1045.2" r="5.3"/><circle cx="1339.9" cy="1107.9" r="5.3"/><circle cx="1377.6" cy="1148.4" r="5.3"/><circle cx="1358.6" cy="1119.4" r="5.3"/><circle cx="1375.9" cy="1151.8" r="5.3"/><circle cx="1372.5" cy="1117.3" r="5.3"/><circle cx="1333.6" cy="1121.4" r="5.3"/><circle cx="1331.2" cy="1070.6" r="5.3"/><circle cx="1337.1" cy="1133" r="5.3"/><circle cx="1359" cy="1153.7" r="5.3"/><circle cx="1351.1" cy="1057.9" r="5.3"/><circle cx="1336.1" cy="1162" r="5.3"/><circle cx="1350.2" cy="1128.2" r="5.3"/><circle cx="1356.8" cy="1094.8" r="5.3"/><circle cx="1350.1" cy="1150.4" r="5.3"/><circle cx="1374.4" cy="1100.7" r="5.3"/><circle cx="1376.3" cy="1118.4" r="5.3"/><circle cx="1333.2" cy="1031.7" r="5.3"/><circle cx="1346.5" cy="1151" r="5.3"/><circle cx="1370.3" cy="1047.3" r="5.3"/><circle cx="1359.9" cy="1145.8" r="5.3"/><circle cx="1376" cy="1162.4" r="5.3"/><circle cx="1340.4" cy="1132.4" r="5.3"/><circle cx="1373.6" cy="1039.8" r="5.3"/><circle cx="1362.3" cy="1157.4" r="5.3"/><circle cx="1334.1" cy="1051.3" r="5.3"/><circle cx="1365.7" cy="1054.1" r="5.3"/><circle cx="1378" cy="1094.6" r="5.3"/><circle cx="1341.2" cy="1161.8" r="5.3"/><circle cx="1339.8" cy="1091.6" r="5.3"/><circle cx="1341.5" cy="1114.5" r="5.3"/><circle cx="1363.1" cy="1038.6" r="5.3"/><circle cx="1360.6" cy="1162.3" r="5.3"/><circle cx="1371.1" cy="1154.5" r="5.3"/><circle cx="1368.7" cy="1152.1" r="5.3"/><circle cx="1358" cy="1152.5" r="5.3"/><circle cx="1378.3" cy="1046.8" r="5.3"/><circle cx="1368.4" cy="1133.8" r="5.3"/><circle cx="1355.5" cy="1037.9" r="5.3"/><circle cx="1363" cy="1120.1" r="5.3"/><circle cx="1378.8" cy="1125.6" r="5.3"/><circle cx="1370.3" cy="1074.7" r="5.3"/><circle cx="1337.5" cy="1158.5" r="5.3"/><circle cx="1352.1" cy="1129.2" r="5.3"/><circle cx="1370.9" cy="1153.7" r="5.3"/><circle cx="1342.2" cy="1073.5" r="5.3"/><circle cx="1331.9" cy="1150" r="5.3"/><circle cx="1356.8" cy="1109" r="5.3"/><circle cx="1342.8" cy="1158.9" r="5.3"/><circle cx="1350.9" cy="1162.1" r="5.3"/><circle cx="1379.7" cy="1156.7" r="5.3"/><circle cx="1350" cy="1160.1" r="5.3"/><circle cx="1333.7" cy="1138.5" r="5.3"/><circle cx="1331.8" cy="1110.9" r="5.3"/><circle cx="1332.7" cy="1103.7" r="5.3"/><circle cx="1353.7" cy="1049.7" r="5.3"/><circle cx="1347.6" cy="1156.7" r="5.3"/><circle cx="1338.2" cy="1121.2" r="5.3"/><circle cx="1353.8" cy="1156.8" r="5.3"/>
</g>
<g fill="#D0A9CB">
<circle cx="1372" cy="874.1" r="5.3"/><circle cx="1348.2" cy="954.4" r="5.3"/><circle cx="1358.8" cy="998.3" r="5.3"/><circle cx="1357.1" cy="1013.8" r="5.3"/><circle cx="1364.7" cy="1020.4" r="5.3"/><circle cx="1370.7" cy="1022.1" r="5.3"/><circle cx="1342.3" cy="1040.3" r="5.3"/><circle cx="1340.9" cy="1050.2" r="5.3"/><circle cx="1332.4" cy="1056.8" r="5.3"/><circle cx="1366.4" cy="1061.7" r="5.3"/><circle cx="1376.3" cy="1061.7" r="5.3"/><circle cx="1344.9" cy="1076.6" r="5.3"/><circle cx="1366.4" cy="1075" r="5.3"/><circle cx="1332.7" cy="1083.9" r="5.3"/><circle cx="1340" cy="1093.1" r="5.3"/><circle cx="1355.9" cy="1133.3" r="5.3"/><circle cx="1356.1" cy="1158.3" r="5.3"/><circle cx="1371.4" cy="1161.6" r="5.3"/><circle cx="1352.4" cy="1133.5" r="5.3"/><circle cx="1362.7" cy="1125.8" r="5.3"/><circle cx="1376.6" cy="1017.9" r="5.3"/><circle cx="1333.3" cy="1151.8" r="5.3"/><circle cx="1332.8" cy="1161.3" r="5.3"/><circle cx="1345.6" cy="1070.7" r="5.3"/><circle cx="1350" cy="1157" r="5.3"/><circle cx="1343" cy="1156.8" r="5.3"/><circle cx="1354.8" cy="1029.3" r="5.3"/><circle cx="1378.7" cy="1157.7" r="5.3"/><circle cx="1343" cy="1092.8" r="5.3"/><circle cx="1373.6" cy="1119.6" r="5.3"/><circle cx="1378.1" cy="1048.4" r="5.3"/><circle cx="1354.6" cy="1106.3" r="5.3"/><circle cx="1366" cy="1085.9" r="5.3"/><circle cx="1348.7" cy="1041.9" r="5.3"/><circle cx="1373.9" cy="1073.8" r="5.3"/><circle cx="1349.4" cy="1108.3" r="5.3"/><circle cx="1333.8" cy="1111.2" r="5.3"/><circle cx="1371.7" cy="1019.2" r="5.3"/><circle cx="1367.6" cy="1142.6" r="5.3"/><circle cx="1331.3" cy="1083" r="5.3"/><circle cx="1341.6" cy="1131.3" r="5.3"/><circle cx="1347.4" cy="1048.2" r="5.3"/><circle cx="1351.9" cy="1157.6" r="5.3"/><circle cx="1372.9" cy="1129.1" r="5.3"/><circle cx="1351.1" cy="1156.8" r="5.3"/><circle cx="1346" cy="1129.5" r="5.3"/><circle cx="1331" cy="1134.7" r="5.3"/><circle cx="1352.7" cy="1107.6" r="5.3"/><circle cx="1340" cy="1096.9" r="5.3"/><circle cx="1330.3" cy="1158.6" r="5.3"/><circle cx="1365.7" cy="1146.9" r="5.3"/><circle cx="1359" cy="1143.8" r="5.3"/><circle cx="1340.3" cy="1103.4" r="5.3"/><circle cx="1362.5" cy="1067.1" r="5.3"/><circle cx="1357.1" cy="1024" r="5.3"/><circle cx="1376.6" cy="1149.2" r="5.3"/><circle cx="1369.3" cy="1121" r="5.3"/><circle cx="1367" cy="1126.2" r="5.3"/><circle cx="1378.5" cy="1095.9" r="5.3"/><circle cx="1344.7" cy="1124.7" r="5.3"/><circle cx="1356.7" cy="1105.8" r="5.3"/><circle cx="1378.2" cy="1059" r="5.3"/><circle cx="1340.1" cy="1117.4" r="5.3"/><circle cx="1358.6" cy="1071.3" r="5.3"/><circle cx="1333.1" cy="1095.6" r="5.3"/><circle cx="1336" cy="1087.2" r="5.3"/><circle cx="1339.9" cy="1154.6" r="5.3"/><circle cx="1362.6" cy="1107.2" r="5.3"/><circle cx="1360.9" cy="1058.9" r="5.3"/><circle cx="1367.9" cy="1155.7" r="5.3"/><circle cx="1351.6" cy="1063.7" r="5.3"/><circle cx="1350.5" cy="1160.6" r="5.3"/><circle cx="1340.1" cy="1162.5" r="5.3"/><circle cx="1368.8" cy="1127.8" r="5.3"/><circle cx="1331.6" cy="1161.2" r="5.3"/><circle cx="1340.2" cy="1158.3" r="5.3"/><circle cx="1351.9" cy="1126.4" r="5.3"/><circle cx="1365.8" cy="1162.5" r="5.3"/><circle cx="1353.1" cy="1158.5" r="5.3"/><circle cx="1330.5" cy="1126.8" r="5.3"/><circle cx="1365.8" cy="1071.1" r="5.3"/><circle cx="1350.6" cy="1107.5" r="5.3"/><circle cx="1380.4" cy="1128" r="5.3"/><circle cx="1376.7" cy="1154" r="5.3"/><circle cx="1373.3" cy="1046.9" r="5.3"/><circle cx="1359.1" cy="1101.8" r="5.3"/><circle cx="1381.2" cy="1142.4" r="5.3"/><circle cx="1361.4" cy="1162.5" r="5.3"/><circle cx="1376.4" cy="1154.5" r="5.3"/><circle cx="1379.6" cy="1127.5" r="5.3"/><circle cx="1361.4" cy="1018.6" r="5.3"/><circle cx="1360.5" cy="1161.9" r="5.3"/><circle cx="1338.4" cy="1132.5" r="5.3"/><circle cx="1356.9" cy="1138.9" r="5.3"/><circle cx="1344.4" cy="1144.9" r="5.3"/><circle cx="1344.3" cy="1119.4" r="5.3"/><circle cx="1337.8" cy="1162.3" r="5.3"/><circle cx="1376" cy="1142.4" r="5.3"/><circle cx="1378" cy="1125.2" r="5.3"/><circle cx="1380.2" cy="1132.9" r="5.3"/><circle cx="1335.6" cy="1112.1" r="5.3"/><circle cx="1351.3" cy="1115.8" r="5.3"/><circle cx="1368.8" cy="1048" r="5.3"/><circle cx="1343.7" cy="1145.6" r="5.3"/><circle cx="1360.2" cy="1118.7" r="5.3"/><circle cx="1373.5" cy="1023.3" r="5.3"/><circle cx="1358.1" cy="1098.6" r="5.3"/><circle cx="1368.1" cy="1147.1" r="5.3"/><circle cx="1335.9" cy="1161.9" r="5.3"/><circle cx="1343" cy="1138.5" r="5.3"/><circle cx="1358" cy="1148.7" r="5.3"/><circle cx="1358.8" cy="1161.7" r="5.3"/><circle cx="1345.1" cy="1096.8" r="5.3"/><circle cx="1340.7" cy="1161.9" r="5.3"/><circle cx="1345.4" cy="1161.7" r="5.3"/><circle cx="1366.3" cy="1160.9" r="5.3"/><circle cx="1339.8" cy="1142.6" r="5.3"/><circle cx="1357.5" cy="1072.2" r="5.3"/><circle cx="1338.8" cy="1119" r="5.3"/><circle cx="1357.8" cy="1126.3" r="5.3"/><circle cx="1362.1" cy="1027.2" r="5.3"/><circle cx="1357.9" cy="1162.1" r="5.3"/><circle cx="1333.9" cy="1161.7" r="5.3"/><circle cx="1336.1" cy="1046.2" r="5.3"/><circle cx="1368.2" cy="1160" r="5.3"/><circle cx="1341.1" cy="1154.9" r="5.3"/><circle cx="1379.6" cy="1147.6" r="5.3"/><circle cx="1357.4" cy="1129.5" r="5.3"/><circle cx="1363.7" cy="1065.1" r="5.3"/><circle cx="1372.2" cy="1070.1" r="5.3"/><circle cx="1361.7" cy="1029.7" r="5.3"/><circle cx="1337.2" cy="1138.9" r="5.3"/><circle cx="1363.1" cy="1161" r="5.3"/><circle cx="1366.7" cy="1155.5" r="5.3"/><circle cx="1371.8" cy="1121.4" r="5.3"/><circle cx="1366.2" cy="1072.3" r="5.3"/><circle cx="1374.5" cy="1154" r="5.3"/><circle cx="1337.5" cy="1123.5" r="5.3"/><circle cx="1372" cy="1162.5" r="5.3"/><circle cx="1334.7" cy="1090.3" r="5.3"/><circle cx="1379" cy="1132.9" r="5.3"/><circle cx="1346" cy="1057.3" r="5.3"/><circle cx="1341.1" cy="1065.1" r="5.3"/><circle cx="1337.8" cy="1124.8" r="5.3"/><circle cx="1353.8" cy="1150.4" r="5.3"/><circle cx="1358.3" cy="1033.4" r="5.3"/><circle cx="1334.6" cy="1160.1" r="5.3"/><circle cx="1356.1" cy="1138.2" r="5.3"/><circle cx="1363.6" cy="1074" r="5.3"/><circle cx="1370.4" cy="1127.3" r="5.3"/><circle cx="1337.9" cy="1110.8" r="5.3"/><circle cx="1337" cy="1128.5" r="5.3"/><circle cx="1356.2" cy="1021.2" r="5.3"/><circle cx="1359.4" cy="1154.9" r="5.3"/><circle cx="1376.3" cy="1160.3" r="5.3"/><circle cx="1378.3" cy="1043.4" r="5.3"/><circle cx="1336" cy="1112.5" r="5.3"/><circle cx="1345.6" cy="1102.1" r="5.3"/><circle cx="1349.4" cy="1085.8" r="5.3"/><circle cx="1338.7" cy="1117.9" r="5.3"/><circle cx="1331.7" cy="1105.2" r="5.3"/><circle cx="1379.2" cy="1160" r="5.3"/><circle cx="1350.9" cy="1132.7" r="5.3"/><circle cx="1368.8" cy="1096" r="5.3"/><circle cx="1381" cy="1130.6" r="5.3"/><circle cx="1376.4" cy="1118.5" r="5.3"/><circle cx="1332.5" cy="1149.2" r="5.3"/><circle cx="1366.3" cy="1046" r="5.3"/><circle cx="1345.4" cy="1082.6" r="5.3"/><circle cx="1341.5" cy="1070.3" r="5.3"/><circle cx="1336.5" cy="1073.3" r="5.3"/><circle cx="1348.3" cy="1062.2" r="5.3"/><circle cx="1364" cy="1155.5" r="5.3"/><circle cx="1363.8" cy="1144.2" r="5.3"/><circle cx="1356.9" cy="1136.5" r="5.3"/><circle cx="1370.1" cy="1102.1" r="5.3"/><circle cx="1373.3" cy="1127.8" r="5.3"/><circle cx="1338.4" cy="1076.3" r="5.3"/><circle cx="1352.4" cy="1155.5" r="5.3"/><circle cx="1341.1" cy="1130.1" r="5.3"/><circle cx="1331.5" cy="1128.7" r="5.3"/><circle cx="1359.2" cy="1090.7" r="5.3"/><circle cx="1358.7" cy="1044" r="5.3"/><circle cx="1334.3" cy="1114.7" r="5.3"/><circle cx="1372.5" cy="1095.7" r="5.3"/><circle cx="1353.2" cy="1160" r="5.3"/><circle cx="1342.1" cy="1162.3" r="5.3"/><circle cx="1366.7" cy="1018.3" r="5.3"/><circle cx="1342.8" cy="1155.9" r="5.3"/><circle cx="1374.3" cy="1094.9" r="5.3"/><circle cx="1349.7" cy="1060.9" r="5.3"/><circle cx="1380.9" cy="1135.7" r="5.3"/>
</g>
<g fill="#4AA9DB">
<circle cx="1335" cy="1073.2" r="5.3"/><circle cx="1342.2" cy="1158" r="5.3"/><circle cx="1373.3" cy="1141.2" r="5.3"/><circle cx="1351" cy="1023.1" r="5.3"/><circle cx="1358.5" cy="1158.6" r="5.3"/><circle cx="1345" cy="1148.4" r="5.3"/><circle cx="1340.3" cy="1054.9" r="5.3"/><circle cx="1379.3" cy="1162.3" r="5.3"/><circle cx="1377" cy="1152.5" r="5.3"/><circle cx="1336.5" cy="1117.5" r="5.3"/><circle cx="1381.2" cy="1149.3" r="5.3"/><circle cx="1330.3" cy="1154.2" r="5.3"/><circle cx="1373" cy="1042.1" r="5.3"/><circle cx="1352.9" cy="1159" r="5.3"/><circle cx="1359.1" cy="1092" r="5.3"/><circle cx="1338.9" cy="1090.8" r="5.3"/><circle cx="1365.6" cy="1037" r="5.3"/><circle cx="1371.4" cy="1162.4" r="5.3"/><circle cx="1337" cy="1032.2" r="5.3"/><circle cx="1360.9" cy="1128.1" r="5.3"/><circle cx="1346.1" cy="1131.9" r="5.3"/><circle cx="1365.1" cy="1156" r="5.3"/><circle cx="1337.9" cy="1124.3" r="5.3"/><circle cx="1343.1" cy="1088.2" r="5.3"/><circle cx="1359" cy="1126.5" r="5.3"/><circle cx="1346.6" cy="1079.7" r="5.3"/><circle cx="1369.1" cy="1079.2" r="5.3"/><circle cx="1361.9" cy="1105.8" r="5.3"/><circle cx="1349.1" cy="1157.8" r="5.3"/><circle cx="1376.4" cy="1161.9" r="5.3"/><circle cx="1336.1" cy="1124.5" r="5.3"/><circle cx="1339.5" cy="1082.3" r="5.3"/><circle cx="1333.5" cy="1122.4" r="5.3"/><circle cx="1352.2" cy="1040.3" r="5.3"/><circle cx="1367.1" cy="1145.7" r="5.3"/><circle cx="1348.4" cy="1144.9" r="5.3"/><circle cx="1376.9" cy="1092.1" r="5.3"/><circle cx="1351.6" cy="1157.3" r="5.3"/><circle cx="1376.6" cy="1115.5" r="5.3"/><circle cx="1368.8" cy="1158.9" r="5.3"/><circle cx="1356.3" cy="1124.6" r="5.3"/><circle cx="1337.8" cy="1159.5" r="5.3"/><circle cx="1377" cy="1139.3" r="5.3"/><circle cx="1363.1" cy="1064.3" r="5.3"/><circle cx="1368.3" cy="1019.7" r="5.3"/><circle cx="1364.1" cy="1142.1" r="5.3"/><circle cx="1339" cy="1092.1" r="5.3"/><circle cx="1372" cy="1079.3" r="5.3"/><circle cx="1335.2" cy="1103.5" r="5.3"/><circle cx="1377.6" cy="1148.4" r="5.3"/><circle cx="1372.5" cy="1117.3" r="5.3"/><circle cx="1337.1" cy="1133" r="5.3"/><circle cx="1336.1" cy="1162" r="5.3"/><circle cx="1350.1" cy="1150.4" r="5.3"/><circle cx="1333.2" cy="1031.7" r="5.3"/><circle cx="1359.9" cy="1145.8" r="5.3"/><circle cx="1373.6" cy="1039.8" r="5.3"/><circle cx="1365.7" cy="1054.1" r="5.3"/><circle cx="1339.8" cy="1091.6" r="5.3"/><circle cx="1360.6" cy="1162.3" r="5.3"/><circle cx="1358" cy="1152.5" r="5.3"/><circle cx="1355.5" cy="1037.9" r="5.3"/><circle cx="1370.3" cy="1074.7" r="5.3"/><circle cx="1370.9" cy="1153.7" r="5.3"/><circle cx="1356.8" cy="1109" r="5.3"/><circle cx="1379.7" cy="1156.7" r="5.3"/><circle cx="1331.8" cy="1110.9" r="5.3"/><circle cx="1347.6" cy="1156.7" r="5.3"/>
</g>
<g fill="#DC2A3C">
<circle cx="1332.7" cy="935.5" r="5.3"/><circle cx="1374.7" cy="1162.4" r="5.3"/><circle cx="1349.3" cy="1163.8" r="5.3"/><circle cx="1365.6" cy="1159.7" r="5.3"/><circle cx="1343.6" cy="1164.1" r="5.3"/><circle cx="1338.7" cy="1161.5" r="5.3"/><circle cx="1349.8" cy="1144.4" r="5.3"/><circle cx="1366.9" cy="1161.4" r="5.3"/><circle cx="1348.1" cy="1163" r="5.3"/><circle cx="1378.6" cy="1159.8" r="5.3"/><circle cx="1369.5" cy="1150.8" r="5.3"/><circle cx="1377" cy="1164.1" r="5.3"/><circle cx="1346.1" cy="1159.3" r="5.3"/><circle cx="1333.5" cy="1145.8" r="5.3"/><circle cx="1346.2" cy="1149.3" r="5.3"/><circle cx="1356.5" cy="1163.9" r="5.3"/><circle cx="1349.9" cy="1161.9" r="5.3"/><circle cx="1331.2" cy="1163.1" r="5.3"/><circle cx="1360.5" cy="1164.1" r="5.3"/><circle cx="1345.6" cy="1158.5" r="5.3"/><circle cx="1357.8" cy="1163.2" r="5.3"/><circle cx="1366.4" cy="1161.5" r="5.3"/><circle cx="1367.4" cy="1152.4" r="5.3"/><circle cx="1336.8" cy="1162.4" r="5.3"/><circle cx="1343.9" cy="1151.1" r="5.3"/><circle cx="1350.5" cy="1159.2" r="5.3"/><circle cx="1374.8" cy="1162.1" r="5.3"/><circle cx="1344.5" cy="1160.1" r="5.3"/><circle cx="1340.5" cy="1164" r="5.3"/><circle cx="1330.4" cy="1153.4" r="5.3"/><circle cx="1359" cy="1148.2" r="5.3"/><circle cx="1380.6" cy="1160.9" r="5.3"/><circle cx="1364.5" cy="1144.5" r="5.3"/><circle cx="1340.5" cy="1151.8" r="5.3"/><circle cx="1364.3" cy="1143.3" r="5.3"/><circle cx="1375" cy="1161.9" r="5.3"/><circle cx="1362.5" cy="1163.7" r="5.3"/><circle cx="1351.7" cy="1159.1" r="5.3"/><circle cx="1332.2" cy="1159.3" r="5.3"/><circle cx="1346.4" cy="1156.8" r="5.3"/><circle cx="1343.8" cy="1163" r="5.3"/><circle cx="1350.3" cy="1157.3" r="5.3"/><circle cx="1337.9" cy="1152.5" r="5.3"/><circle cx="1341.7" cy="1163.7" r="5.3"/><circle cx="1347.1" cy="1158.5" r="5.3"/><circle cx="1337" cy="1154.7" r="5.3"/><circle cx="1366.1" cy="1155.4" r="5.3"/><circle cx="1366.1" cy="1164.1" r="5.3"/><circle cx="1349.7" cy="1159.7" r="5.3"/><circle cx="1332.4" cy="1158.9" r="5.3"/><circle cx="1331.9" cy="1156.9" r="5.3"/><circle cx="1360" cy="1157.5" r="5.3"/><circle cx="1346.3" cy="1161.7" r="5.3"/><circle cx="1330.3" cy="1160" r="5.3"/><circle cx="1376.2" cy="1155.1" r="5.3"/><circle cx="1342.9" cy="1152.4" r="5.3"/><circle cx="1338.9" cy="1157.5" r="5.3"/><circle cx="1361.6" cy="1143.3" r="5.3"/><circle cx="1348.2" cy="1154.9" r="5.3"/><circle cx="1378.9" cy="1149.3" r="5.3"/><circle cx="1362.2" cy="1153.7" r="5.3"/><circle cx="1350.8" cy="1158.6" r="5.3"/><circle cx="1343.7" cy="1147.5" r="5.3"/><circle cx="1375.6" cy="1159.3" r="5.3"/><circle cx="1377.1" cy="1164" r="5.3"/><circle cx="1336.2" cy="1156.6" r="5.3"/><circle cx="1345.4" cy="1159.8" r="5.3"/><circle cx="1380.7" cy="1163.1" r="5.3"/><circle cx="1339.2" cy="1162" r="5.3"/><circle cx="1365" cy="1161.9" r="5.3"/><circle cx="1329.1" cy="1155.7" r="5.3"/><circle cx="1349.9" cy="1161.9" r="5.3"/><circle cx="1355.1" cy="1152.9" r="5.3"/><circle cx="1358" cy="1153.6" r="5.3"/><circle cx="1358.7" cy="1147.4" r="5.3"/><circle cx="1380.3" cy="1160.3" r="5.3"/><circle cx="1347.4" cy="1145.6" r="5.3"/><circle cx="1345.6" cy="1151" r="5.3"/><circle cx="1365.8" cy="1151.8" r="5.3"/><circle cx="1380" cy="1147.7" r="5.3"/><circle cx="1337.5" cy="1153.7" r="5.3"/><circle cx="1355" cy="1155.2" r="5.3"/><circle cx="1348.6" cy="1161.1" r="5.3"/><circle cx="1368.6" cy="1155.9" r="5.3"/><circle cx="1341.6" cy="1161.7" r="5.3"/><circle cx="1346.2" cy="1162.7" r="5.3"/><circle cx="1356.2" cy="1163.3" r="5.3"/><circle cx="1332.4" cy="1163.8" r="5.3"/><circle cx="1334.5" cy="1151.3" r="5.3"/><circle cx="1335" cy="1157.9" r="5.3"/><circle cx="1369.9" cy="1157.2" r="5.3"/><circle cx="1337.6" cy="1146.3" r="5.3"/><circle cx="1375" cy="1163.9" r="5.3"/><circle cx="1342.5" cy="1156.6" r="5.3"/><circle cx="1371.2" cy="1159.1" r="5.3"/><circle cx="1366.9" cy="1161.7" r="5.3"/><circle cx="1366.9" cy="1160.4" r="5.3"/><circle cx="1346.7" cy="1149.7" r="5.3"/><circle cx="1373.6" cy="1147.5" r="5.3"/><circle cx="1359.1" cy="1158.5" r="5.3"/><circle cx="1366.4" cy="1153.6" r="5.3"/><circle cx="1373" cy="1148.4" r="5.3"/><circle cx="1335.7" cy="1159.4" r="5.3"/><circle cx="1364.4" cy="1162" r="5.3"/><circle cx="1338.8" cy="1164.1" r="5.3"/><circle cx="1360" cy="1143.8" r="5.3"/><circle cx="1380.3" cy="1163.3" r="5.3"/><circle cx="1365.4" cy="1158.6" r="5.3"/><circle cx="1362.4" cy="1159" r="5.3"/><circle cx="1378.4" cy="1142.1" r="5.3"/><circle cx="1331.6" cy="1151.1" r="5.3"/><circle cx="1335.3" cy="1164" r="5.3"/><circle cx="1344.2" cy="1150.5" r="5.3"/><circle cx="1381.6" cy="1163.4" r="5.3"/><circle cx="1346.5" cy="1164.1" r="5.3"/><circle cx="1357.7" cy="1157.1" r="5.3"/><circle cx="1348.8" cy="1160.7" r="5.3"/><circle cx="1371.4" cy="1147.2" r="5.3"/><circle cx="1344.1" cy="1159.1" r="5.3"/><circle cx="1361.7" cy="1149.5" r="5.3"/><circle cx="1380.9" cy="1159.2" r="5.3"/><circle cx="1365.7" cy="1155.6" r="5.3"/><circle cx="1371.4" cy="1163.1" r="5.3"/><circle cx="1338.3" cy="1163.5" r="5.3"/><circle cx="1378.4" cy="1161.7" r="5.3"/><circle cx="1354.9" cy="1163.4" r="5.3"/><circle cx="1346.2" cy="1164.1" r="5.3"/><circle cx="1359" cy="1163.1" r="5.3"/><circle cx="1362.1" cy="1161.3" r="5.3"/><circle cx="1341.1" cy="1157.2" r="5.3"/><circle cx="1348.4" cy="1161.6" r="5.3"/><circle cx="1331.8" cy="1163.9" r="5.3"/><circle cx="1376.2" cy="1160.7" r="5.3"/><circle cx="1333.2" cy="1162.7" r="5.3"/><circle cx="1354.6" cy="1141.8" r="5.3"/><circle cx="1339.7" cy="1146.3" r="5.3"/><circle cx="1354.7" cy="1158.7" r="5.3"/><circle cx="1371.7" cy="1159.1" r="5.3"/><circle cx="1332.1" cy="1155.5" r="5.3"/><circle cx="1363.8" cy="1153.6" r="5.3"/><circle cx="1343.7" cy="1143.8" r="5.3"/><circle cx="1374.8" cy="1141.9" r="5.3"/><circle cx="1352.5" cy="1147.4" r="5.3"/><circle cx="1367.4" cy="1162.8" r="5.3"/><circle cx="1330.5" cy="1162.9" r="5.3"/><circle cx="1335.3" cy="1163.8" r="5.3"/><circle cx="1348" cy="1149.9" r="5.3"/><circle cx="1345.4" cy="1156.4" r="5.3"/><circle cx="1329.6" cy="1162.3" r="5.3"/><circle cx="1379.8" cy="1164.1" r="5.3"/><circle cx="1356.9" cy="1148.1" r="5.3"/><circle cx="1370.9" cy="1150.4" r="5.3"/><circle cx="1350.2" cy="1148.3" r="5.3"/><circle cx="1372.8" cy="1149.4" r="5.3"/><circle cx="1381.2" cy="1163.6" r="5.3"/><circle cx="1379.3" cy="1158.9" r="5.3"/><circle cx="1366.3" cy="1161.7" r="5.3"/><circle cx="1377.1" cy="1164.1" r="5.3"/><circle cx="1359.5" cy="1162.1" r="5.3"/><circle cx="1349.6" cy="1159.6" r="5.3"/><circle cx="1363.8" cy="1148.1" r="5.3"/><circle cx="1348.3" cy="1153.2" r="5.3"/><circle cx="1347.8" cy="1161.2" r="5.3"/><circle cx="1376.9" cy="1160.5" r="5.3"/><circle cx="1334" cy="1160.3" r="5.3"/><circle cx="1368.3" cy="1162.3" r="5.3"/><circle cx="1368.3" cy="1155.6" r="5.3"/><circle cx="1365" cy="1162.7" r="5.3"/><circle cx="1334.6" cy="1163.2" r="5.3"/><circle cx="1347.6" cy="1158.3" r="5.3"/><circle cx="1329.6" cy="1156.7" r="5.3"/><circle cx="1350.4" cy="1160.5" r="5.3"/><circle cx="1357.4" cy="1143.4" r="5.3"/><circle cx="1339.9" cy="1145.8" r="5.3"/><circle cx="1346" cy="1149.9" r="5.3"/><circle cx="1334.8" cy="1142.1" r="5.3"/><circle cx="1351.8" cy="1143" r="5.3"/><circle cx="1340.7" cy="1158.8" r="5.3"/><circle cx="1366.4" cy="1162.7" r="5.3"/><circle cx="1343.5" cy="1152.1" r="5.3"/><circle cx="1379.1" cy="1160.5" r="5.3"/><circle cx="1338.8" cy="1159.8" r="5.3"/><circle cx="1381.4" cy="1163.1" r="5.3"/><circle cx="1362.6" cy="1159.4" r="5.3"/><circle cx="1363.1" cy="1162.3" r="5.3"/><circle cx="1361.6" cy="1145.6" r="5.3"/><circle cx="1374.3" cy="1153.5" r="5.3"/><circle cx="1355.7" cy="1155.1" r="5.3"/><circle cx="1335.1" cy="1147.2" r="5.3"/><circle cx="1365.5" cy="1157.8" r="5.3"/><circle cx="1364.2" cy="1158.6" r="5.3"/><circle cx="1349.4" cy="1162" r="5.3"/><circle cx="1360.8" cy="1154.9" r="5.3"/><circle cx="1356.3" cy="1164.1" r="5.3"/><circle cx="1362.2" cy="1158" r="5.3"/><circle cx="1360.4" cy="1154.4" r="5.3"/><circle cx="1378.3" cy="1163.1" r="5.3"/><circle cx="1353.8" cy="1141.9" r="5.3"/><circle cx="1368.1" cy="1160.7" r="5.3"/><circle cx="1368" cy="1142.1" r="5.3"/><circle cx="1350.3" cy="1146.3" r="5.3"/><circle cx="1335.8" cy="1142" r="5.3"/><circle cx="1355" cy="1162" r="5.3"/><circle cx="1373.5" cy="1152.9" r="5.3"/><circle cx="1378.6" cy="1147.5" r="5.3"/><circle cx="1371.2" cy="1156.5" r="5.3"/><circle cx="1381.6" cy="1163.9" r="5.3"/><circle cx="1375" cy="1151.1" r="5.3"/><circle cx="1342.3" cy="1148.2" r="5.3"/><circle cx="1353.1" cy="1155.9" r="5.3"/><circle cx="1374.8" cy="1162.5" r="5.3"/><circle cx="1343.8" cy="1153.1" r="5.3"/><circle cx="1332.9" cy="1155.4" r="5.3"/><circle cx="1370.7" cy="1157" r="5.3"/><circle cx="1341.8" cy="1148.4" r="5.3"/><circle cx="1374.3" cy="1149.3" r="5.3"/><circle cx="1358.1" cy="1145" r="5.3"/><circle cx="1371.2" cy="1163.1" r="5.3"/><circle cx="1348.4" cy="1163.6" r="5.3"/><circle cx="1331" cy="1160" r="5.3"/><circle cx="1374.8" cy="1147.4" r="5.3"/><circle cx="1335.3" cy="1162.7" r="5.3"/><circle cx="1349.6" cy="1146.9" r="5.3"/><circle cx="1361.7" cy="1145.1" r="5.3"/><circle cx="1332.9" cy="1142.1" r="5.3"/><circle cx="1340" cy="1153.5" r="5.3"/><circle cx="1375.4" cy="1150.6" r="5.3"/><circle cx="1339.5" cy="1152.4" r="5.3"/><circle cx="1351.8" cy="1164.1" r="5.3"/><circle cx="1347" cy="1160.6" r="5.3"/><circle cx="1362.3" cy="1161.2" r="5.3"/><circle cx="1360.9" cy="1151.6" r="5.3"/><circle cx="1338.6" cy="1163.3" r="5.3"/><circle cx="1365.7" cy="1157.5" r="5.3"/><circle cx="1335.9" cy="1163.4" r="5.3"/><circle cx="1378.8" cy="1154" r="5.3"/><circle cx="1348" cy="1162.5" r="5.3"/><circle cx="1381.6" cy="1151.7" r="5.3"/><circle cx="1368" cy="1159.8" r="5.3"/><circle cx="1345.5" cy="1158.8" r="5.3"/><circle cx="1336.8" cy="1153.4" r="5.3"/><circle cx="1351.5" cy="1147.8" r="5.3"/><circle cx="1350.7" cy="1157.7" r="5.3"/><circle cx="1355.8" cy="1143.8" r="5.3"/><circle cx="1347.4" cy="1151.4" r="5.3"/><circle cx="1341.5" cy="1154.8" r="5.3"/><circle cx="1344.1" cy="1146.1" r="5.3"/><circle cx="1344.2" cy="1146.7" r="5.3"/><circle cx="1364.8" cy="1157.8" r="5.3"/><circle cx="1378.4" cy="1159.2" r="5.3"/><circle cx="1368.3" cy="1154.2" r="5.3"/><circle cx="1352.8" cy="1163.9" r="5.3"/><circle cx="1351.2" cy="1161.2" r="5.3"/><circle cx="1352.4" cy="1143.3" r="5.3"/><circle cx="1344.5" cy="1151.6" r="5.3"/><circle cx="1364.6" cy="1161.8" r="5.3"/><circle cx="1350.8" cy="1163.3" r="5.3"/><circle cx="1376.4" cy="1161.7" r="5.3"/><circle cx="1351.3" cy="1160.1" r="5.3"/><circle cx="1372.4" cy="1146.8" r="5.3"/><circle cx="1360.3" cy="1155.6" r="5.3"/>
</g>
<g fill="#DC2A3C">
<circle cx="1403.4" cy="1040.6" r="5.3"/><circle cx="1443.4" cy="991" r="5.3"/><circle cx="1449" cy="1025.4" r="5.3"/><circle cx="1419.2" cy="1073.3" r="5.3"/><circle cx="1443.4" cy="1085.5" r="5.3"/><circle cx="1409.3" cy="1091.5" r="5.3"/><circle cx="1406" cy="1096.4" r="5.3"/><circle cx="1444" cy="1096.4" r="5.3"/><circle cx="1440.7" cy="1101.4" r="5.3"/><circle cx="1430.8" cy="1101.4" r="5.3"/><circle cx="1415.9" cy="1116.9" r="5.3"/><circle cx="1425.9" cy="1115.6" r="5.3"/><circle cx="1429.2" cy="1124.5" r="5.3"/><circle cx="1406" cy="1124.5" r="5.3"/><circle cx="1402.7" cy="1129.5" r="5.3"/><circle cx="1440.7" cy="1121.2" r="5.3"/><circle cx="1442.4" cy="1127.8" r="5.3"/><circle cx="1434.1" cy="1129.5" r="5.3"/><circle cx="1449" cy="1137.7" r="5.3"/><circle cx="1404.4" cy="1137.7" r="5.3"/><circle cx="1414.3" cy="1144.3" r="5.3"/><circle cx="1424.2" cy="1129.5" r="5.3"/><circle cx="1440.7" cy="1142.7" r="5.3"/><circle cx="1401.1" cy="1154.2" r="5.3"/><circle cx="1406" cy="1150.9" r="5.3"/><circle cx="1449" cy="1155.2" r="5.3"/><circle cx="1445.7" cy="1160.9" r="5.3"/><circle cx="1424.2" cy="1150.9" r="5.3"/><circle cx="1429.2" cy="1160.9" r="5.3"/><circle cx="1417.6" cy="1109.6" r="5.3"/><circle cx="1437.4" cy="1109.6" r="5.3"/><circle cx="1405.3" cy="1138.6" r="5.3"/><circle cx="1404.8" cy="1156.9" r="5.3"/><circle cx="1419" cy="1145.3" r="5.3"/><circle cx="1433.6" cy="1157.5" r="5.3"/><circle cx="1444.9" cy="1136.5" r="5.3"/><circle cx="1401.6" cy="1148.5" r="5.3"/><circle cx="1423.7" cy="1157" r="5.3"/><circle cx="1423.4" cy="1158.2" r="5.3"/><circle cx="1433.7" cy="1149.4" r="5.3"/><circle cx="1448.5" cy="1135.4" r="5.3"/><circle cx="1449.6" cy="1156.1" r="5.3"/><circle cx="1441.5" cy="1147.9" r="5.3"/><circle cx="1435.2" cy="1134.5" r="5.3"/><circle cx="1403.7" cy="1154.1" r="5.3"/><circle cx="1420.3" cy="1147.7" r="5.3"/><circle cx="1411.2" cy="1134.8" r="5.3"/><circle cx="1410.8" cy="1156.8" r="5.3"/><circle cx="1407.5" cy="1156.1" r="5.3"/><circle cx="1437.2" cy="1163.2" r="5.3"/><circle cx="1408.7" cy="1147.9" r="5.3"/><circle cx="1431.3" cy="1144.6" r="5.3"/><circle cx="1413" cy="1142" r="5.3"/><circle cx="1436.6" cy="1143.3" r="5.3"/><circle cx="1406.3" cy="1153.9" r="5.3"/><circle cx="1401.2" cy="1140.1" r="5.3"/><circle cx="1447.2" cy="1138.7" r="5.3"/><circle cx="1401.6" cy="1157.3" r="5.3"/><circle cx="1427" cy="1151.8" r="5.3"/><circle cx="1405.9" cy="1142.8" r="5.3"/><circle cx="1415.4" cy="1152.7" r="5.3"/><circle cx="1406.6" cy="1150.7" r="5.3"/><circle cx="1406.8" cy="1163.2" r="5.3"/><circle cx="1425.8" cy="1158.8" r="5.3"/><circle cx="1438.9" cy="1160" r="5.3"/><circle cx="1420.9" cy="1163.7" r="5.3"/><circle cx="1411.2" cy="1154.4" r="5.3"/><circle cx="1428.1" cy="1154.1" r="5.3"/><circle cx="1442.6" cy="1162.9" r="5.3"/><circle cx="1442.5" cy="1162" r="5.3"/><circle cx="1448.5" cy="1152.1" r="5.3"/>
</g>
<g fill="#D0A9CB">
<circle cx="1429.2" cy="1103" r="5.3"/><circle cx="1412.6" cy="1129.5" r="5.3"/><circle cx="1407.7" cy="1142.7" r="5.3"/>
</g>
<g fill="#4AA9DB">
<circle cx="1438.1" cy="920.4" r="5.3"/><circle cx="1433.1" cy="973.5" r="5.3"/><circle cx="1430.1" cy="1073.3" r="5.3"/><circle cx="1446.3" cy="1113.6" r="5.3"/><circle cx="1415.9" cy="1136.1" r="5.3"/><circle cx="1420.9" cy="1141" r="5.3"/><circle cx="1446.3" cy="1142" r="5.3"/><circle cx="1424.2" cy="1146" r="5.3"/><circle cx="1445.7" cy="1152.6" r="5.3"/><circle cx="1419.2" cy="1160.9" r="5.3"/>
</g>
<g fill="#6472B3">
<circle cx="1433.4" cy="1137.7" r="5.3"/><circle cx="1401.1" cy="1159.2" r="5.3"/><circle cx="1406" cy="1162.5" r="5.3"/><circle cx="1411" cy="1157.5" r="5.3"/><circle cx="1415.9" cy="1162.5" r="5.3"/><circle cx="1420.9" cy="1157.5" r="5.3"/><circle cx="1432.5" cy="1152.6" r="5.3"/><circle cx="1435.8" cy="1160.9" r="5.3"/><circle cx="1440.7" cy="1157.5" r="5.3"/><circle cx="1430.8" cy="1164.2" r="5.3"/><circle cx="1414.3" cy="1149.3" r="5.3"/><circle cx="1404.4" cy="1159.9" r="5.3"/>
</g>
<g fill="#4AA9DB">
<circle cx="1507.8" cy="920.7" r="5.3"/><circle cx="1475.4" cy="984.8" r="5.3"/><circle cx="1505.8" cy="995.7" r="5.3"/><circle cx="1488" cy="1028.4" r="5.3"/><circle cx="1502.8" cy="1029.7" r="5.3"/><circle cx="1481.4" cy="1056.1" r="5.3"/><circle cx="1496.2" cy="1059.4" r="5.3"/><circle cx="1512.7" cy="1062.7" r="5.3"/><circle cx="1494.2" cy="1066" r="5.3"/><circle cx="1480.4" cy="1069.3" r="5.3"/><circle cx="1518.4" cy="1079.9" r="5.3"/><circle cx="1505.1" cy="1087.5" r="5.3"/><circle cx="1478" cy="1098.7" r="5.3"/><circle cx="1486.3" cy="1098.7" r="5.3"/><circle cx="1511.7" cy="1098.7" r="5.3"/><circle cx="1518.4" cy="1100.7" r="5.3"/><circle cx="1484.3" cy="1108" r="5.3"/><circle cx="1490.3" cy="1150.8" r="5.3"/><circle cx="1514.5" cy="1155.4" r="5.3"/><circle cx="1490.6" cy="1142.8" r="5.3"/><circle cx="1476.9" cy="1153.5" r="5.3"/><circle cx="1507.6" cy="1152.1" r="5.3"/><circle cx="1477.1" cy="1149.7" r="5.3"/><circle cx="1470.3" cy="1144.1" r="5.3"/><circle cx="1484.7" cy="1155.5" r="5.3"/><circle cx="1502.8" cy="1153.9" r="5.3"/><circle cx="1471.2" cy="1148.2" r="5.3"/><circle cx="1472.9" cy="1146.1" r="5.3"/><circle cx="1474.7" cy="1154.8" r="5.3"/><circle cx="1486.2" cy="1149.1" r="5.3"/><circle cx="1503.4" cy="1154.4" r="5.3"/><circle cx="1518.8" cy="1150.2" r="5.3"/><circle cx="1495.3" cy="1154.6" r="5.3"/><circle cx="1489.6" cy="1146.6" r="5.3"/><circle cx="1507.9" cy="1146.1" r="5.3"/><circle cx="1488.2" cy="1148.4" r="5.3"/><circle cx="1494" cy="1147.4" r="5.3"/><circle cx="1491.6" cy="1148.6" r="5.3"/><circle cx="1471.4" cy="1153.7" r="5.3"/><circle cx="1472.1" cy="1149.7" r="5.3"/><circle cx="1497.7" cy="1148" r="5.3"/><circle cx="1480.6" cy="1144" r="5.3"/><circle cx="1488.5" cy="1146.8" r="5.3"/><circle cx="1494.4" cy="1145.7" r="5.3"/><circle cx="1508.4" cy="1149.1" r="5.3"/><circle cx="1469.3" cy="1148.1" r="5.3"/><circle cx="1519.9" cy="1142.8" r="5.3"/><circle cx="1500.2" cy="1155.4" r="5.3"/><circle cx="1488.1" cy="1150.6" r="5.3"/><circle cx="1488.3" cy="1146.7" r="5.3"/><circle cx="1501" cy="1150.5" r="5.3"/><circle cx="1485.5" cy="1149.3" r="5.3"/><circle cx="1496.1" cy="1152.6" r="5.3"/><circle cx="1471.6" cy="1143.9" r="5.3"/><circle cx="1482.1" cy="1146.3" r="5.3"/>
</g>
<g fill="#6472B3">
<circle cx="1496.2" cy="1144.3" r="5.3"/><circle cx="1521.7" cy="1162.5" r="5.3"/><circle cx="1468.8" cy="1157.5" r="5.3"/>
</g>
<g fill="#DC2A3C">
<circle cx="1503.5" cy="1075.9" r="5.3"/><circle cx="1497.5" cy="1083.2" r="5.3"/><circle cx="1476.4" cy="1114.6" r="5.3"/><circle cx="1490.9" cy="1130.5" r="5.3"/><circle cx="1483.7" cy="1141" r="5.3"/><circle cx="1512" cy="1159" r="5.3"/><circle cx="1515.5" cy="1158.8" r="5.3"/><circle cx="1483.7" cy="1161.3" r="5.3"/><circle cx="1472.5" cy="1164" r="5.3"/><circle cx="1514" cy="1158.2" r="5.3"/><circle cx="1485.4" cy="1162.5" r="5.3"/><circle cx="1511.6" cy="1161" r="5.3"/><circle cx="1471" cy="1162" r="5.3"/><circle cx="1470.5" cy="1160.8" r="5.3"/><circle cx="1498.4" cy="1163.5" r="5.3"/><circle cx="1503.3" cy="1155.4" r="5.3"/><circle cx="1519.7" cy="1162" r="5.3"/><circle cx="1500" cy="1155.3" r="5.3"/><circle cx="1508.7" cy="1159" r="5.3"/><circle cx="1505.5" cy="1164" r="5.3"/><circle cx="1518.7" cy="1155.9" r="5.3"/><circle cx="1511.2" cy="1159.2" r="5.3"/><circle cx="1509.5" cy="1158.6" r="5.3"/><circle cx="1492.7" cy="1159.1" r="5.3"/><circle cx="1474.4" cy="1158.1" r="5.3"/><circle cx="1508.6" cy="1155.9" r="5.3"/><circle cx="1474.2" cy="1162.7" r="5.3"/><circle cx="1504.8" cy="1160.1" r="5.3"/><circle cx="1474.1" cy="1156.3" r="5.3"/><circle cx="1485" cy="1163.7" r="5.3"/><circle cx="1498.9" cy="1163.5" r="5.3"/><circle cx="1479.5" cy="1158.9" r="5.3"/><circle cx="1497.6" cy="1162.7" r="5.3"/><circle cx="1474.7" cy="1163" r="5.3"/><circle cx="1494" cy="1155.5" r="5.3"/><circle cx="1491.8" cy="1158.6" r="5.3"/><circle cx="1505.2" cy="1163.5" r="5.3"/><circle cx="1495.2" cy="1161.4" r="5.3"/><circle cx="1489.3" cy="1162.2" r="5.3"/><circle cx="1473.6" cy="1161.9" r="5.3"/><circle cx="1477" cy="1160.5" r="5.3"/><circle cx="1479" cy="1158.3" r="5.3"/><circle cx="1476.9" cy="1158.4" r="5.3"/><circle cx="1500.6" cy="1159.9" r="5.3"/><circle cx="1489.4" cy="1160.4" r="5.3"/><circle cx="1514.6" cy="1158.4" r="5.3"/><circle cx="1500.2" cy="1159.5" r="5.3"/><circle cx="1522.2" cy="1158.2" r="5.3"/><circle cx="1506.5" cy="1157.3" r="5.3"/><circle cx="1482.3" cy="1161.8" r="5.3"/><circle cx="1499.7" cy="1157.5" r="5.3"/><circle cx="1471.4" cy="1162.6" r="5.3"/><circle cx="1488.8" cy="1161.6" r="5.3"/><circle cx="1491.8" cy="1160.7" r="5.3"/><circle cx="1498.9" cy="1163.9" r="5.3"/><circle cx="1518.3" cy="1159.3" r="5.3"/><circle cx="1494.8" cy="1157.3" r="5.3"/><circle cx="1509.6" cy="1156.1" r="5.3"/><circle cx="1484.8" cy="1162.8" r="5.3"/><circle cx="1469.8" cy="1161.5" r="5.3"/><circle cx="1499.3" cy="1160.2" r="5.3"/><circle cx="1486.3" cy="1156.6" r="5.3"/><circle cx="1520.6" cy="1162.1" r="5.3"/><circle cx="1512.5" cy="1156.1" r="5.3"/><circle cx="1511.3" cy="1157.2" r="5.3"/>
</g>
<g fill="#4AA9DB">
<circle cx="1580.5" cy="1116.3" r="5.3"/><circle cx="1581.1" cy="1122.9" r="5.3"/><circle cx="1550.7" cy="1123.9" r="5.3"/><circle cx="1548.1" cy="1132.8" r="5.3"/><circle cx="1540.8" cy="1139.4" r="5.3"/><circle cx="1544.8" cy="1142.7" r="5.3"/><circle cx="1582.8" cy="1136.1" r="5.3"/><circle cx="1566.3" cy="1162.5" r="5.3"/><circle cx="1554.7" cy="1154.2" r="5.3"/><circle cx="1567.9" cy="1153.3" r="5.3"/>
</g>
<g fill="#DC2A3C">
<circle cx="1563.6" cy="962.6" r="5.3"/><circle cx="1585.1" cy="1140" r="5.3"/><circle cx="1568.9" cy="1154.2" r="5.3"/>
</g>
<g fill="#6472B3">
<circle cx="1561.3" cy="1140.4" r="5.3"/><circle cx="1556.3" cy="1149.3" r="5.3"/><circle cx="1581.1" cy="1150.9" r="5.3"/><circle cx="1541.5" cy="1159.2" r="5.3"/><circle cx="1551.4" cy="1160.9" r="5.3"/><circle cx="1559.6" cy="1157.5" r="5.3"/><circle cx="1561.3" cy="1162.5" r="5.3"/><circle cx="1577.8" cy="1157.5" r="5.3"/><circle cx="1579.5" cy="1164.2" r="5.3"/><circle cx="1586.1" cy="1160.9" r="5.3"/><circle cx="1589.4" cy="1155.9" r="5.3"/><circle cx="1549.7" cy="1155.9" r="5.3"/><circle cx="1557" cy="1159.9" r="5.3"/><circle cx="1582.8" cy="1157.5" r="5.3"/>
</g>
<g fill="#DC2A3C">
<circle cx="1644.9" cy="1046.2" r="5.3"/><circle cx="1618.1" cy="1078.6" r="5.3"/><circle cx="1610.2" cy="1103.7" r="5.3"/><circle cx="1634" cy="1128.1" r="5.3"/><circle cx="1610.9" cy="1152.6" r="5.3"/><circle cx="1617.5" cy="1147.6" r="5.3"/><circle cx="1623.1" cy="1150" r="5.3"/><circle cx="1633.3" cy="1146.6" r="5.3"/><circle cx="1643.9" cy="1148.3" r="5.3"/><circle cx="1652.1" cy="1156.6" r="5.3"/><circle cx="1613.2" cy="1159.2" r="5.3"/><circle cx="1625.7" cy="1159.9" r="5.3"/><circle cx="1634" cy="1155.9" r="5.3"/><circle cx="1640.6" cy="1159.9" r="5.3"/><circle cx="1617.5" cy="1164.2" r="5.3"/><circle cx="1634" cy="1164.2" r="5.3"/><circle cx="1642.2" cy="1164.2" r="5.3"/><circle cx="1620.8" cy="1155.2" r="5.3"/>
</g>
<g fill="#4AA9DB">
<circle cx="1719.9" cy="1094.8" r="5.3"/><circle cx="1724.8" cy="1108" r="5.3"/><circle cx="1723.8" cy="1128.5" r="5.3"/><circle cx="1702.4" cy="1155.9" r="5.3"/>
</g>
<g fill="#6472B3">
<circle cx="1713.9" cy="1123.9" r="5.3"/><circle cx="1681.9" cy="1155.9" r="5.3"/><circle cx="1679.6" cy="1161.8" r="5.3"/><circle cx="1686.8" cy="1163.5" r="5.3"/><circle cx="1691.8" cy="1157.5" r="5.3"/><circle cx="1696.7" cy="1164.2" r="5.3"/><circle cx="1705" cy="1164.2" r="5.3"/><circle cx="1716.6" cy="1164.2" r="5.3"/><circle cx="1723.2" cy="1164.2" r="5.3"/><circle cx="1684.5" cy="1159.9" r="5.3"/>
</g>
<g fill="#4AA9DB">
<circle cx="1765.9" cy="883.1" r="5.3"/><circle cx="1761.4" cy="1091.1" r="5.3"/><circle cx="1755.1" cy="1117.5" r="5.3"/><circle cx="1767.1" cy="1120.1" r="5.3"/><circle cx="1783.5" cy="1124.5" r="5.3"/><circle cx="1785.1" cy="1128.6" r="5.3"/><circle cx="1770.9" cy="1131.1" r="5.3"/><circle cx="1772.5" cy="1136.4" r="5.3"/><circle cx="1752" cy="1155.3" r="5.3"/><circle cx="1777.2" cy="1153.8" r="5.3"/><circle cx="1794.5" cy="1153.8" r="5.3"/>
</g>
<g fill="#6472B3">
<circle cx="1762.4" cy="1129.2" r="5.3"/><circle cx="1762.4" cy="1139" r="5.3"/><circle cx="1764.6" cy="1149" r="5.3"/><circle cx="1775.6" cy="1145.9" r="5.3"/><circle cx="1796.1" cy="1156" r="5.3"/><circle cx="1750.4" cy="1158.5" r="5.3"/><circle cx="1778.8" cy="1163.2" r="5.3"/>
</g>
<g fill="#DC2A3C">
<circle cx="1760.5" cy="1161.8" r="5.3"/><circle cx="1781.2" cy="1164.2" r="5.3"/><circle cx="1789" cy="1161.3" r="5.3"/><circle cx="1795.8" cy="1156.8" r="5.3"/><circle cx="1785.2" cy="1163.5" r="5.3"/><circle cx="1798.4" cy="1159.6" r="5.3"/><circle cx="1765.1" cy="1157.7" r="5.3"/><circle cx="1787.1" cy="1164.2" r="5.3"/><circle cx="1763" cy="1164.2" r="5.3"/><circle cx="1777.5" cy="1164.2" r="5.3"/><circle cx="1765.2" cy="1164.2" r="5.3"/><circle cx="1757.1" cy="1162.3" r="5.3"/><circle cx="1764.2" cy="1164.2" r="5.3"/><circle cx="1764.4" cy="1162.1" r="5.3"/><circle cx="1794.5" cy="1164.2" r="5.3"/><circle cx="1793.8" cy="1157.8" r="5.3"/><circle cx="1781.1" cy="1161.7" r="5.3"/><circle cx="1787.4" cy="1161.8" r="5.3"/><circle cx="1783.7" cy="1156.9" r="5.3"/><circle cx="1789.5" cy="1164.2" r="5.3"/><circle cx="1753.2" cy="1156.6" r="5.3"/><circle cx="1768.7" cy="1158.7" r="5.3"/><circle cx="1762.2" cy="1162.7" r="5.3"/><circle cx="1769.1" cy="1159.5" r="5.3"/><circle cx="1798" cy="1162.1" r="5.3"/><circle cx="1779" cy="1163.7" r="5.3"/><circle cx="1762.1" cy="1156.4" r="5.3"/><circle cx="1756" cy="1156.5" r="5.3"/><circle cx="1783.6" cy="1164.2" r="5.3"/><circle cx="1795.9" cy="1164.2" r="5.3"/><circle cx="1778.9" cy="1164.2" r="5.3"/><circle cx="1800.3" cy="1164" r="5.3"/><circle cx="1794.4" cy="1164.2" r="5.3"/><circle cx="1784" cy="1164.2" r="5.3"/><circle cx="1751.9" cy="1161.4" r="5.3"/><circle cx="1800" cy="1160" r="5.3"/><circle cx="1793.5" cy="1158.7" r="5.3"/><circle cx="1776.7" cy="1164.2" r="5.3"/><circle cx="1777" cy="1164.2" r="5.3"/><circle cx="1777" cy="1163.6" r="5.3"/><circle cx="1775.6" cy="1164.2" r="5.3"/><circle cx="1786" cy="1163" r="5.3"/><circle cx="1774.9" cy="1164.2" r="5.3"/><circle cx="1775" cy="1161.5" r="5.3"/><circle cx="1799.5" cy="1161.5" r="5.3"/><circle cx="1757.2" cy="1164.1" r="5.3"/><circle cx="1767.3" cy="1159.8" r="5.3"/><circle cx="1797.8" cy="1156" r="5.3"/><circle cx="1798.3" cy="1156.8" r="5.3"/><circle cx="1793.7" cy="1156.6" r="5.3"/><circle cx="1751.4" cy="1162.3" r="5.3"/><circle cx="1780.2" cy="1160" r="5.3"/><circle cx="1781.3" cy="1160.9" r="5.3"/><circle cx="1797.5" cy="1164.2" r="5.3"/><circle cx="1776.6" cy="1156.3" r="5.3"/><circle cx="1752" cy="1164.2" r="5.3"/><circle cx="1794.2" cy="1156.3" r="5.3"/><circle cx="1751.6" cy="1164.2" r="5.3"/><circle cx="1792.3" cy="1160" r="5.3"/><circle cx="1776.6" cy="1161.3" r="5.3"/><circle cx="1788.6" cy="1158.4" r="5.3"/><circle cx="1750.5" cy="1164.2" r="5.3"/><circle cx="1790.5" cy="1156" r="5.3"/><circle cx="1792.4" cy="1163.1" r="5.3"/><circle cx="1767.3" cy="1163.7" r="5.3"/><circle cx="1751.2" cy="1158.9" r="5.3"/><circle cx="1763.6" cy="1161.2" r="5.3"/><circle cx="1776.9" cy="1163.8" r="5.3"/><circle cx="1784.4" cy="1162.7" r="5.3"/><circle cx="1762.2" cy="1157.4" r="5.3"/><circle cx="1759.3" cy="1164.2" r="5.3"/><circle cx="1763.2" cy="1162.4" r="5.3"/><circle cx="1789.9" cy="1163.8" r="5.3"/><circle cx="1762.4" cy="1160.4" r="5.3"/><circle cx="1763.5" cy="1161.9" r="5.3"/>
</g>
<g fill="#6472B3">
<circle cx="1823.8" cy="1149" r="5.3"/><circle cx="1820.4" cy="1162.3" r="5.3"/><circle cx="1853.5" cy="1148.1" r="5.3"/><circle cx="1843.4" cy="1164.2" r="5.3"/><circle cx="1848.7" cy="1164.2" r="5.3"/>
</g>
<g fill="#4AA9DB">
<circle cx="1840.5" cy="943.3" r="5.3"/><circle cx="1850.9" cy="1051.7" r="5.3"/><circle cx="1831.7" cy="1061.4" r="5.3"/><circle cx="1822.9" cy="1077.2" r="5.3"/><circle cx="1833" cy="1085.4" r="5.3"/><circle cx="1834.6" cy="1102.7" r="5.3"/><circle cx="1832.4" cy="1108.1" r="5.3"/><circle cx="1851.3" cy="1116.6" r="5.3"/><circle cx="1861.7" cy="1117.5" r="5.3"/><circle cx="1867" cy="1123.2" r="5.3"/><circle cx="1845" cy="1129.2" r="5.3"/><circle cx="1820.7" cy="1131.7" r="5.3"/><circle cx="1823.5" cy="1136.4" r="5.3"/><circle cx="1830.8" cy="1131.7" r="5.3"/><circle cx="1832.4" cy="1139.6" r="5.3"/><circle cx="1835.5" cy="1144.3" r="5.3"/><circle cx="1829.2" cy="1147.5" r="5.3"/><circle cx="1828.3" cy="1153.8" r="5.3"/><circle cx="1838.7" cy="1149" r="5.3"/><circle cx="1845" cy="1145.9" r="5.3"/><circle cx="1860.7" cy="1148.1" r="5.3"/><circle cx="1834.9" cy="1163.9" r="5.3"/>
</g>
<g fill="#4AA9DB">
<circle cx="1902.3" cy="1153" r="5.3"/><circle cx="1898.7" cy="1163.5" r="5.3"/><circle cx="1904.7" cy="1162.2" r="5.3"/><circle cx="1926.8" cy="1156.7" r="5.3"/><circle cx="1930.2" cy="1159" r="5.3"/><circle cx="1893.2" cy="1155.1" r="5.3"/><circle cx="1901.8" cy="1163.7" r="5.3"/><circle cx="1910.6" cy="1150.8" r="5.3"/><circle cx="1908.3" cy="1161.8" r="5.3"/><circle cx="1936.4" cy="1150.8" r="5.3"/><circle cx="1909.2" cy="1164.2" r="5.3"/><circle cx="1930.1" cy="1154.8" r="5.3"/><circle cx="1906.7" cy="1154.6" r="5.3"/><circle cx="1908.8" cy="1162.8" r="5.3"/><circle cx="1919.9" cy="1155.5" r="5.3"/><circle cx="1913.8" cy="1154.1" r="5.3"/><circle cx="1889.8" cy="1159.6" r="5.3"/><circle cx="1908.9" cy="1164.2" r="5.3"/><circle cx="1936.6" cy="1164.2" r="5.3"/><circle cx="1899.8" cy="1153" r="5.3"/><circle cx="1939" cy="1152" r="5.3"/><circle cx="1906.8" cy="1152" r="5.3"/><circle cx="1896.4" cy="1156" r="5.3"/><circle cx="1938.2" cy="1164" r="5.3"/><circle cx="1896.1" cy="1156.6" r="5.3"/><circle cx="1935" cy="1155.8" r="5.3"/><circle cx="1938.4" cy="1160.3" r="5.3"/><circle cx="1908.4" cy="1164.2" r="5.3"/><circle cx="1903.3" cy="1151.8" r="5.3"/><circle cx="1892.8" cy="1164.1" r="5.3"/><circle cx="1907.1" cy="1164.2" r="5.3"/><circle cx="1905" cy="1164.1" r="5.3"/><circle cx="1895.5" cy="1159.2" r="5.3"/><circle cx="1917.2" cy="1158.5" r="5.3"/><circle cx="1928.7" cy="1159.2" r="5.3"/><circle cx="1938.3" cy="1164.2" r="5.3"/><circle cx="1900.7" cy="1164.2" r="5.3"/><circle cx="1905.2" cy="1155.1" r="5.3"/><circle cx="1937.1" cy="1159.5" r="5.3"/><circle cx="1897.4" cy="1162.2" r="5.3"/><circle cx="1918.6" cy="1162.7" r="5.3"/><circle cx="1930.3" cy="1151.2" r="5.3"/><circle cx="1913" cy="1157.9" r="5.3"/><circle cx="1933.1" cy="1160.2" r="5.3"/><circle cx="1899" cy="1151.7" r="5.3"/><circle cx="1939.9" cy="1164.2" r="5.3"/><circle cx="1928.7" cy="1161.1" r="5.3"/><circle cx="1891.8" cy="1164.2" r="5.3"/><circle cx="1898.1" cy="1155.6" r="5.3"/><circle cx="1900.1" cy="1164.2" r="5.3"/><circle cx="1900.5" cy="1154.4" r="5.3"/><circle cx="1915" cy="1157.1" r="5.3"/><circle cx="1913.3" cy="1164.1" r="5.3"/><circle cx="1889.9" cy="1162.5" r="5.3"/><circle cx="1891.2" cy="1163.1" r="5.3"/><circle cx="1921.2" cy="1161.6" r="5.3"/><circle cx="1913.7" cy="1157.6" r="5.3"/><circle cx="1905.6" cy="1161.8" r="5.3"/><circle cx="1935" cy="1158.3" r="5.3"/><circle cx="1910.8" cy="1159" r="5.3"/><circle cx="1913" cy="1162.1" r="5.3"/><circle cx="1936.6" cy="1163.5" r="5.3"/><circle cx="1937.7" cy="1153.4" r="5.3"/><circle cx="1934.9" cy="1164.2" r="5.3"/><circle cx="1915.5" cy="1150.9" r="5.3"/><circle cx="1904.1" cy="1164.2" r="5.3"/><circle cx="1926.7" cy="1163.4" r="5.3"/><circle cx="1919.4" cy="1164.2" r="5.3"/><circle cx="1938.3" cy="1162.8" r="5.3"/><circle cx="1894.1" cy="1156.5" r="5.3"/><circle cx="1907.1" cy="1158.6" r="5.3"/><circle cx="1914.9" cy="1152.1" r="5.3"/><circle cx="1915.8" cy="1161.5" r="5.3"/><circle cx="1889.2" cy="1159.7" r="5.3"/><circle cx="1903.1" cy="1158.4" r="5.3"/><circle cx="1921.9" cy="1160.2" r="5.3"/><circle cx="1893.7" cy="1159.6" r="5.3"/><circle cx="1914.1" cy="1157.3" r="5.3"/><circle cx="1939.5" cy="1162.9" r="5.3"/><circle cx="1912.1" cy="1164.2" r="5.3"/><circle cx="1930.7" cy="1163.5" r="5.3"/><circle cx="1932.2" cy="1154.5" r="5.3"/><circle cx="1902.3" cy="1152.5" r="5.3"/><circle cx="1915.3" cy="1160.8" r="5.3"/><circle cx="1917.9" cy="1151.7" r="5.3"/><circle cx="1914.5" cy="1159.9" r="5.3"/><circle cx="1904.2" cy="1153.7" r="5.3"/><circle cx="1915.2" cy="1162" r="5.3"/><circle cx="1899.3" cy="1163.7" r="5.3"/><circle cx="1932.4" cy="1154.4" r="5.3"/><circle cx="1940" cy="1152.2" r="5.3"/><circle cx="1924.7" cy="1154.5" r="5.3"/><circle cx="1926.1" cy="1154.3" r="5.3"/><circle cx="1930.7" cy="1164.2" r="5.3"/><circle cx="1931.4" cy="1162.5" r="5.3"/><circle cx="1901.8" cy="1152.2" r="5.3"/><circle cx="1890.3" cy="1159.4" r="5.3"/><circle cx="1906.9" cy="1154.6" r="5.3"/><circle cx="1920.8" cy="1152.3" r="5.3"/><circle cx="1937.6" cy="1157.2" r="5.3"/><circle cx="1892.4" cy="1156.8" r="5.3"/><circle cx="1894.8" cy="1151" r="5.3"/><circle cx="1934.4" cy="1162.4" r="5.3"/><circle cx="1898.7" cy="1156.3" r="5.3"/><circle cx="1928.5" cy="1150.9" r="5.3"/><circle cx="1921.5" cy="1164.2" r="5.3"/><circle cx="1926.9" cy="1164.2" r="5.3"/><circle cx="1934.2" cy="1155" r="5.3"/><circle cx="1929.9" cy="1153.1" r="5.3"/><circle cx="1918.7" cy="1151.7" r="5.3"/>
</g>
<g fill="#4AA9DB">
<circle cx="1980.1" cy="816" r="5.3"/><circle cx="1975.4" cy="954" r="5.3"/><circle cx="1992.4" cy="1075" r="5.3"/><circle cx="1975.1" cy="1076.6" r="5.3"/><circle cx="1963.8" cy="1083.5" r="5.3"/><circle cx="1973.5" cy="1087.6" r="5.3"/><circle cx="1980.5" cy="1085.1" r="5.3"/><circle cx="1961.5" cy="1097.1" r="5.3"/><circle cx="1986.1" cy="1097.7" r="5.3"/><circle cx="1985.5" cy="1109.7" r="5.3"/><circle cx="1995.3" cy="1111.2" r="5.3"/><circle cx="1968.5" cy="1120.4" r="5.3"/><circle cx="1976.7" cy="1130.1" r="5.3"/><circle cx="1996.2" cy="1127.9" r="5.3"/><circle cx="2004.1" cy="1130.8" r="5.3"/><circle cx="1977.3" cy="1136.4" r="5.3"/><circle cx="1985.8" cy="1137.4" r="5.3"/><circle cx="1993.1" cy="1136.4" r="5.3"/><circle cx="2000" cy="1138.6" r="5.3"/><circle cx="1971.6" cy="1145.9" r="5.3"/>
</g>
<g fill="#6472B3">
<circle cx="2037.2" cy="1151.3" r="5.3"/><circle cx="2055.1" cy="1156" r="5.3"/><circle cx="2075.6" cy="1155.3" r="5.3"/><circle cx="2029.3" cy="1161.6" r="5.3"/><circle cx="2034.7" cy="1163.2" r="5.3"/><circle cx="2039.7" cy="1164.2" r="5.3"/><circle cx="2046.6" cy="1163.2" r="5.3"/><circle cx="2051.4" cy="1164.2" r="5.3"/><circle cx="2056.1" cy="1164.2" r="5.3"/><circle cx="2062.4" cy="1161.6" r="5.3"/><circle cx="2067.1" cy="1164.2" r="5.3"/><circle cx="2071.8" cy="1163.2" r="5.3"/><circle cx="2078.1" cy="1158.5" r="5.3"/><circle cx="2059.2" cy="1158.5" r="5.3"/><circle cx="2043.5" cy="1158.5" r="5.3"/>
</g>
<g fill="#6472B3">
<circle cx="2146.2" cy="1128.2" r="5.3"/><circle cx="2115.3" cy="1151.3" r="5.3"/><circle cx="2137.4" cy="1151.3" r="5.3"/><circle cx="2114.4" cy="1163.2" r="5.3"/><circle cx="2120.7" cy="1164.2" r="5.3"/><circle cx="2126" cy="1160.1" r="5.3"/><circle cx="2131.7" cy="1163.2" r="5.3"/><circle cx="2139.6" cy="1161.6" r="5.3"/><circle cx="2144.3" cy="1164.2" r="5.3"/><circle cx="2149" cy="1164.2" r="5.3"/>
</g>
<rect x="1312.9" y="724.1" width="852.5" height="461.1" fill="none" stroke="#1a1a1a" stroke-width="2"/>
<line x1="1304.3" y1="1164.2" x2="1312.9" y2="1164.2" stroke="#333" stroke-width="3.8"/>
<text x="1278.3" y="1174.4" font-size="34.3" textLength="17.74" lengthAdjust="spacingAndGlyphs">0</text>
<line x1="1304.3" y1="1059.3" x2="1312.9" y2="1059.3" stroke="#333" stroke-width="3.8"/>
<text x="1260.5" y="1069.5" font-size="34.3" textLength="35.48" lengthAdjust="spacingAndGlyphs">20</text>
<line x1="1304.3" y1="954.4" x2="1312.9" y2="954.4" stroke="#333" stroke-width="3.8"/>
<text x="1260.5" y="964.6" font-size="34.3" textLength="35.48" lengthAdjust="spacingAndGlyphs">40</text>
<line x1="1304.3" y1="849.5" x2="1312.9" y2="849.5" stroke="#333" stroke-width="3.8"/>
<text x="1260.5" y="859.7" font-size="34.3" textLength="35.48" lengthAdjust="spacingAndGlyphs">60</text>
<line x1="1304.3" y1="744.6" x2="1312.9" y2="744.6" stroke="#333" stroke-width="3.8"/>
<text x="1260.5" y="754.8" font-size="34.3" textLength="35.48" lengthAdjust="spacingAndGlyphs">80</text>
<line x1="1354.5" y1="1185.2" x2="1354.5" y2="1193.4" stroke="#333" stroke-width="3.8"/>
<text x="1345.6" y="1225.3" font-size="34.3" textLength="17.74" lengthAdjust="spacingAndGlyphs">1</text>
<line x1="1424.5" y1="1185.2" x2="1424.5" y2="1193.4" stroke="#333" stroke-width="3.8"/>
<text x="1415.7" y="1225.3" font-size="34.3" textLength="17.74" lengthAdjust="spacingAndGlyphs">2</text>
<line x1="1494.6" y1="1185.2" x2="1494.6" y2="1193.4" stroke="#333" stroke-width="3.8"/>
<text x="1485.7" y="1225.3" font-size="34.3" textLength="17.74" lengthAdjust="spacingAndGlyphs">3</text>
<line x1="1564.6" y1="1185.2" x2="1564.6" y2="1193.4" stroke="#333" stroke-width="3.8"/>
<text x="1555.7" y="1225.3" font-size="34.3" textLength="17.74" lengthAdjust="spacingAndGlyphs">4</text>
<line x1="1634.6" y1="1185.2" x2="1634.6" y2="1193.4" stroke="#333" stroke-width="3.8"/>
<text x="1625.7" y="1225.3" font-size="34.3" textLength="17.74" lengthAdjust="spacingAndGlyphs">5</text>
<line x1="1704.7" y1="1185.2" x2="1704.7" y2="1193.4" stroke="#333" stroke-width="3.8"/>
<text x="1695.8" y="1225.3" font-size="34.3" textLength="17.74" lengthAdjust="spacingAndGlyphs">6</text>
<line x1="1774.7" y1="1185.2" x2="1774.7" y2="1193.4" stroke="#333" stroke-width="3.8"/>
<text x="1765.8" y="1225.3" font-size="34.3" textLength="17.74" lengthAdjust="spacingAndGlyphs">7</text>
<line x1="1844.7" y1="1185.2" x2="1844.7" y2="1193.4" stroke="#333" stroke-width="3.8"/>
<text x="1835.8" y="1225.3" font-size="34.3" textLength="17.74" lengthAdjust="spacingAndGlyphs">8</text>
<line x1="1914.7" y1="1185.2" x2="1914.7" y2="1193.4" stroke="#333" stroke-width="3.8"/>
<text x="1905.9" y="1225.3" font-size="34.3" textLength="17.74" lengthAdjust="spacingAndGlyphs">9</text>
<line x1="1984.8" y1="1185.2" x2="1984.8" y2="1193.4" stroke="#333" stroke-width="3.8"/>
<text x="1967" y="1225.3" font-size="34.3" textLength="35.48" lengthAdjust="spacingAndGlyphs">10</text>
<line x1="2054.8" y1="1185.2" x2="2054.8" y2="1193.4" stroke="#333" stroke-width="3.8"/>
<text x="2038.2" y="1225.3" font-size="34.3" textLength="33.11" lengthAdjust="spacingAndGlyphs">11</text>
<line x1="2124.8" y1="1185.2" x2="2124.8" y2="1193.4" stroke="#333" stroke-width="3.8"/>
<text x="2107.1" y="1225.3" font-size="34.3" textLength="35.48" lengthAdjust="spacingAndGlyphs">19</text>
<text x="1355.5" y="1274.8" font-size="31.9" textLength="766.01" lengthAdjust="spacingAndGlyphs">Number of unique tRNAs targeted by each epegRNA</text>
<text transform="translate(1201.2 1047.8) rotate(-90)" font-size="31.9" textLength="233.74" lengthAdjust="spacingAndGlyphs">Fold enrichment</text>
<text transform="translate(1237.6 1065.4) rotate(-90)" font-size="31.9" textLength="281.91" lengthAdjust="spacingAndGlyphs">(GFP+ vs. plasmid)</text>
<rect x="1431.5" y="743.9" width="306.5" height="152.7" fill="#fff" stroke="#1a1a1a" stroke-width="1.8"/>
<text x="1457.9" y="776" font-size="31.9" class="k" textLength="170.12" lengthAdjust="spacingAndGlyphs">tRNA family</text>
<circle cx="1469.5" cy="814.6" r="12.2" fill="#DC2A3C"/>
<text x="1501" y="822.9" font-size="31.9" class="k" textLength="50.55" lengthAdjust="spacingAndGlyphs">Arg</text>
<circle cx="1467.1" cy="860.2" r="12.2" fill="#4AA9DB"/>
<text x="1499.5" y="867.8" font-size="31.9" class="k" textLength="54.20" lengthAdjust="spacingAndGlyphs">Leu</text>
<circle cx="1637.3" cy="815.6" r="12.2" fill="#6472B3"/>
<text x="1668.5" y="823.2" font-size="31.9" class="k" textLength="50.55" lengthAdjust="spacingAndGlyphs">Ser</text>
<circle cx="1637.3" cy="864.2" r="12.2" fill="#D0A9CB"/>
<text x="1669.5" y="872.8" font-size="31.9" class="k" textLength="45.11" lengthAdjust="spacingAndGlyphs">Tyr</text>
<text x="19" y="1363" font-size="54" font-weight="bold">e</text>
<rect x="350.1" y="1916.4" width="21.4" height="27.4" fill="#4AA9DB"/>
<rect x="381.6" y="1838.6" width="21.4" height="105.2" fill="#4AA9DB"/>
<rect x="413" y="1868.7" width="21.4" height="75.1" fill="#4AA9DB"/>
<rect x="444.5" y="1911.4" width="21.4" height="32.4" fill="#4AA9DB"/>
<rect x="475.9" y="1883.3" width="21.4" height="60.5" fill="#4AA9DB"/>
<rect x="528.7" y="1862.4" width="21.4" height="81.4" fill="#4AA9DB"/>
<rect x="560.2" y="1831.7" width="21.4" height="112.1" fill="#4AA9DB"/>
<rect x="591.6" y="1598.7" width="21.4" height="345.1" fill="#4AA9DB"/>
<rect x="623.1" y="1723.4" width="21.4" height="220.4" fill="#4AA9DB"/>
<rect x="654.5" y="1913.1" width="21.4" height="30.7" fill="#4AA9DB"/>
<rect x="707.5" y="1798.9" width="21.4" height="144.9" fill="#4AA9DB"/>
<rect x="739" y="1861.1" width="21.4" height="82.7" fill="#4AA9DB"/>
<rect x="770.4" y="1873" width="21.4" height="70.8" fill="#4AA9DB"/>
<rect x="801.9" y="1861.8" width="21.4" height="82" fill="#4AA9DB"/>
<rect x="833.3" y="1840.3" width="21.4" height="103.5" fill="#4AA9DB"/>
<rect x="886.2" y="1909.7" width="21.4" height="34.1" fill="#4AA9DB"/>
<rect x="917.7" y="1905.4" width="21.4" height="38.4" fill="#4AA9DB"/>
<rect x="949.1" y="1866.1" width="21.4" height="77.7" fill="#4AA9DB"/>
<rect x="980.6" y="1895.9" width="21.4" height="47.9" fill="#4AA9DB"/>
<rect x="1012" y="1925" width="21.4" height="18.8" fill="#4AA9DB"/>
<line x1="339.2" y1="1457.1" x2="339.2" y2="1944.8" stroke="#000" stroke-width="2"/>
<line x1="320.3" y1="1943.8" x2="1044.3" y2="1943.8" stroke="#000" stroke-width="2"/>
<line x1="320.3" y1="1458.1" x2="339.2" y2="1458.1" stroke="#000" stroke-width="2"/>
<line x1="320.3" y1="1555" x2="339.2" y2="1555" stroke="#000" stroke-width="2"/>
<line x1="320.3" y1="1652" x2="339.2" y2="1652" stroke="#000" stroke-width="2"/>
<line x1="320.3" y1="1749.3" x2="339.2" y2="1749.3" stroke="#000" stroke-width="2"/>
<line x1="320.3" y1="1846.2" x2="339.2" y2="1846.2" stroke="#000" stroke-width="2"/>
<text x="255.2" y="1468.5" font-size="34.3" class="k" textLength="53.22" lengthAdjust="spacingAndGlyphs">100</text>
<text x="272.9" y="1565.4" font-size="34.3" class="k" textLength="35.48" lengthAdjust="spacingAndGlyphs">80</text>
<text x="272.9" y="1662.4" font-size="34.3" class="k" textLength="35.48" lengthAdjust="spacingAndGlyphs">60</text>
<text x="272.9" y="1759.7" font-size="34.3" class="k" textLength="35.48" lengthAdjust="spacingAndGlyphs">40</text>
<text x="272.9" y="1856.6" font-size="34.3" class="k" textLength="35.48" lengthAdjust="spacingAndGlyphs">20</text>
<text x="290.7" y="1953.8" font-size="34.3" class="k" textLength="17.74" lengthAdjust="spacingAndGlyphs">0</text>
<line x1="360.8" y1="1905.1" x2="360.8" y2="1928.9" stroke="#000" stroke-width="2.3"/>
<line x1="354.8" y1="1905.1" x2="366.8" y2="1905.1" stroke="#000" stroke-width="2.3"/>
<line x1="354.8" y1="1928.9" x2="366.8" y2="1928.9" stroke="#000" stroke-width="2.3"/>
<circle cx="360.8" cy="1910.1" r="4.8" fill="#000"/>
<circle cx="360.8" cy="1925.6" r="4.8" fill="#000"/>
<line x1="392.2" y1="1805.5" x2="392.2" y2="1872.7" stroke="#000" stroke-width="2.3"/>
<line x1="386.2" y1="1805.5" x2="398.2" y2="1805.5" stroke="#000" stroke-width="2.3"/>
<line x1="386.2" y1="1872.7" x2="398.2" y2="1872.7" stroke="#000" stroke-width="2.3"/>
<circle cx="392.2" cy="1815.1" r="4.8" fill="#000"/>
<circle cx="392.2" cy="1862.8" r="4.8" fill="#000"/>
<line x1="423.7" y1="1843.9" x2="423.7" y2="1894.2" stroke="#000" stroke-width="2.3"/>
<line x1="417.7" y1="1843.9" x2="429.7" y2="1843.9" stroke="#000" stroke-width="2.3"/>
<line x1="417.7" y1="1894.2" x2="429.7" y2="1894.2" stroke="#000" stroke-width="2.3"/>
<circle cx="423.7" cy="1851.5" r="4.8" fill="#000"/>
<circle cx="423.7" cy="1886.9" r="4.8" fill="#000"/>
<line x1="455.2" y1="1893.5" x2="455.2" y2="1929.6" stroke="#000" stroke-width="2.3"/>
<line x1="449.2" y1="1893.5" x2="461.2" y2="1893.5" stroke="#000" stroke-width="2.3"/>
<line x1="449.2" y1="1929.6" x2="461.2" y2="1929.6" stroke="#000" stroke-width="2.3"/>
<circle cx="455.2" cy="1899.8" r="4.8" fill="#000"/>
<circle cx="455.2" cy="1925" r="4.8" fill="#000"/>
<line x1="486.6" y1="1875" x2="486.6" y2="1891.5" stroke="#000" stroke-width="2.3"/>
<line x1="480.6" y1="1875" x2="492.6" y2="1875" stroke="#000" stroke-width="2.3"/>
<line x1="480.6" y1="1891.5" x2="492.6" y2="1891.5" stroke="#000" stroke-width="2.3"/>
<circle cx="486.6" cy="1879.3" r="4.8" fill="#000"/>
<circle cx="486.6" cy="1888.6" r="4.8" fill="#000"/>
<line x1="539.4" y1="1833" x2="539.4" y2="1891.9" stroke="#000" stroke-width="2.3"/>
<line x1="533.4" y1="1833" x2="545.4" y2="1833" stroke="#000" stroke-width="2.3"/>
<line x1="533.4" y1="1891.9" x2="545.4" y2="1891.9" stroke="#000" stroke-width="2.3"/>
<circle cx="539.4" cy="1841.6" r="4.8" fill="#000"/>
<circle cx="539.4" cy="1883.3" r="4.8" fill="#000"/>
<line x1="570.9" y1="1789.3" x2="570.9" y2="1873.3" stroke="#000" stroke-width="2.3"/>
<line x1="564.9" y1="1789.3" x2="576.9" y2="1789.3" stroke="#000" stroke-width="2.3"/>
<line x1="564.9" y1="1873.3" x2="576.9" y2="1873.3" stroke="#000" stroke-width="2.3"/>
<circle cx="570.9" cy="1801.5" r="4.8" fill="#000"/>
<circle cx="570.9" cy="1861.4" r="4.8" fill="#000"/>
<line x1="602.3" y1="1465" x2="602.3" y2="1732.7" stroke="#000" stroke-width="2.3"/>
<line x1="596.3" y1="1465" x2="608.3" y2="1465" stroke="#000" stroke-width="2.3"/>
<line x1="596.3" y1="1732.7" x2="608.3" y2="1732.7" stroke="#000" stroke-width="2.3"/>
<circle cx="602.3" cy="1504.1" r="4.8" fill="#000"/>
<circle cx="602.3" cy="1693.7" r="4.8" fill="#000"/>
<line x1="633.8" y1="1648.7" x2="633.8" y2="1798.2" stroke="#000" stroke-width="2.3"/>
<line x1="627.8" y1="1648.7" x2="639.8" y2="1648.7" stroke="#000" stroke-width="2.3"/>
<line x1="627.8" y1="1798.2" x2="639.8" y2="1798.2" stroke="#000" stroke-width="2.3"/>
<circle cx="633.8" cy="1670.2" r="4.8" fill="#000"/>
<circle cx="633.8" cy="1776.7" r="4.8" fill="#000"/>
<line x1="665.2" y1="1894.9" x2="665.2" y2="1932.3" stroke="#000" stroke-width="2.3"/>
<line x1="659.2" y1="1894.9" x2="671.2" y2="1894.9" stroke="#000" stroke-width="2.3"/>
<line x1="659.2" y1="1932.3" x2="671.2" y2="1932.3" stroke="#000" stroke-width="2.3"/>
<circle cx="665.2" cy="1900.8" r="4.8" fill="#000"/>
<circle cx="665.2" cy="1926.6" r="4.8" fill="#000"/>
<line x1="718.2" y1="1714.8" x2="718.2" y2="1882.9" stroke="#000" stroke-width="2.3"/>
<line x1="712.2" y1="1714.8" x2="724.2" y2="1714.8" stroke="#000" stroke-width="2.3"/>
<line x1="712.2" y1="1882.9" x2="724.2" y2="1882.9" stroke="#000" stroke-width="2.3"/>
<circle cx="718.2" cy="1739.7" r="4.8" fill="#000"/>
<circle cx="718.2" cy="1858.8" r="4.8" fill="#000"/>
<line x1="749.7" y1="1850.2" x2="749.7" y2="1872.7" stroke="#000" stroke-width="2.3"/>
<line x1="743.7" y1="1850.2" x2="755.7" y2="1850.2" stroke="#000" stroke-width="2.3"/>
<line x1="743.7" y1="1872.7" x2="755.7" y2="1872.7" stroke="#000" stroke-width="2.3"/>
<circle cx="749.7" cy="1853.8" r="4.8" fill="#000"/>
<circle cx="749.7" cy="1868.7" r="4.8" fill="#000"/>
<line x1="781.1" y1="1846.9" x2="781.1" y2="1899.2" stroke="#000" stroke-width="2.3"/>
<line x1="775.1" y1="1846.9" x2="787.1" y2="1846.9" stroke="#000" stroke-width="2.3"/>
<line x1="775.1" y1="1899.2" x2="787.1" y2="1899.2" stroke="#000" stroke-width="2.3"/>
<circle cx="781.1" cy="1855.1" r="4.8" fill="#000"/>
<circle cx="781.1" cy="1891.5" r="4.8" fill="#000"/>
<line x1="812.6" y1="1808.8" x2="812.6" y2="1915" stroke="#000" stroke-width="2.3"/>
<line x1="806.6" y1="1808.8" x2="818.6" y2="1808.8" stroke="#000" stroke-width="2.3"/>
<line x1="806.6" y1="1915" x2="818.6" y2="1915" stroke="#000" stroke-width="2.3"/>
<circle cx="812.6" cy="1824.4" r="4.8" fill="#000"/>
<circle cx="812.6" cy="1899.8" r="4.8" fill="#000"/>
<line x1="844" y1="1823.7" x2="844" y2="1856.8" stroke="#000" stroke-width="2.3"/>
<line x1="838" y1="1823.7" x2="850" y2="1823.7" stroke="#000" stroke-width="2.3"/>
<line x1="838" y1="1856.8" x2="850" y2="1856.8" stroke="#000" stroke-width="2.3"/>
<circle cx="844" cy="1828" r="4.8" fill="#000"/>
<circle cx="844" cy="1852.2" r="4.8" fill="#000"/>
<line x1="896.9" y1="1883.9" x2="896.9" y2="1936.2" stroke="#000" stroke-width="2.3"/>
<line x1="890.9" y1="1883.9" x2="902.9" y2="1883.9" stroke="#000" stroke-width="2.3"/>
<line x1="890.9" y1="1936.2" x2="902.9" y2="1936.2" stroke="#000" stroke-width="2.3"/>
<circle cx="896.9" cy="1891.5" r="4.8" fill="#000"/>
<circle cx="896.9" cy="1928.6" r="4.8" fill="#000"/>
<line x1="928.4" y1="1892.5" x2="928.4" y2="1919" stroke="#000" stroke-width="2.3"/>
<line x1="922.4" y1="1892.5" x2="934.4" y2="1892.5" stroke="#000" stroke-width="2.3"/>
<line x1="922.4" y1="1919" x2="934.4" y2="1919" stroke="#000" stroke-width="2.3"/>
<circle cx="928.4" cy="1896.5" r="4.8" fill="#000"/>
<circle cx="928.4" cy="1915" r="4.8" fill="#000"/>
<line x1="959.8" y1="1852.2" x2="959.8" y2="1879.3" stroke="#000" stroke-width="2.3"/>
<line x1="953.8" y1="1852.2" x2="965.8" y2="1852.2" stroke="#000" stroke-width="2.3"/>
<line x1="953.8" y1="1879.3" x2="965.8" y2="1879.3" stroke="#000" stroke-width="2.3"/>
<circle cx="959.8" cy="1856.1" r="4.8" fill="#000"/>
<circle cx="959.8" cy="1875.3" r="4.8" fill="#000"/>
<line x1="991.3" y1="1882.3" x2="991.3" y2="1909.1" stroke="#000" stroke-width="2.3"/>
<line x1="985.3" y1="1882.3" x2="997.3" y2="1882.3" stroke="#000" stroke-width="2.3"/>
<line x1="985.3" y1="1909.1" x2="997.3" y2="1909.1" stroke="#000" stroke-width="2.3"/>
<circle cx="991.3" cy="1887.2" r="4.8" fill="#000"/>
<circle cx="991.3" cy="1904.8" r="4.8" fill="#000"/>
<line x1="1022.7" y1="1915.7" x2="1022.7" y2="1935.6" stroke="#000" stroke-width="2.3"/>
<line x1="1016.7" y1="1915.7" x2="1028.7" y2="1915.7" stroke="#000" stroke-width="2.3"/>
<line x1="1016.7" y1="1935.6" x2="1028.7" y2="1935.6" stroke="#000" stroke-width="2.3"/>
<circle cx="1022.7" cy="1919.7" r="4.8" fill="#000"/>
<circle cx="1022.7" cy="1931.3" r="4.8" fill="#000"/>
<text x="372" y="1389.6" font-size="31.9" textLength="447.46" lengthAdjust="spacingAndGlyphs">tRNA-Leu-TAA-1-1 (TAA&gt;CTA)</text>
<text x="371" y="1427.6" font-size="31.9" textLength="561.49" lengthAdjust="spacingAndGlyphs">Spacer: gCACGCGGACATATGTCCAT</text>
<text transform="translate(207.8 1806.6) rotate(-90)" font-size="31.9" class="k" textLength="232.32" lengthAdjust="spacingAndGlyphs">Fold enrichment</text>
<text transform="translate(242.9 1861.8) rotate(-90)" font-size="31.9" class="k" textLength="352.10" lengthAdjust="spacingAndGlyphs">(GFP+ vs. plasmid pool)</text>
<text transform="translate(371.2 2021.6) rotate(-90)" font-size="31.9" class="k" textLength="64.93" lengthAdjust="spacingAndGlyphs">4399</text>
<text transform="translate(402.6 2021.6) rotate(-90)" font-size="31.9" class="k" textLength="64.63" lengthAdjust="spacingAndGlyphs">4403</text>
<text transform="translate(434.1 2021.6) rotate(-90)" font-size="31.9" class="k" textLength="64.63" lengthAdjust="spacingAndGlyphs">4395</text>
<text transform="translate(465.6 2021.6) rotate(-90)" font-size="31.9" class="k" textLength="64.93" lengthAdjust="spacingAndGlyphs">4387</text>
<text transform="translate(497 2021.6) rotate(-90)" font-size="31.9" class="k" textLength="64.93" lengthAdjust="spacingAndGlyphs">4391</text>
<text transform="translate(549.8 2021.6) rotate(-90)" font-size="31.9" class="k" textLength="64.63" lengthAdjust="spacingAndGlyphs">4398</text>
<text transform="translate(581.3 2021.6) rotate(-90)" font-size="31.9" class="k" textLength="64.93" lengthAdjust="spacingAndGlyphs">4402</text>
<text transform="translate(612.7 2021.6) rotate(-90)" font-size="31.9" class="k" textLength="64.33" lengthAdjust="spacingAndGlyphs">4394</text>
<text transform="translate(644.2 2021.6) rotate(-90)" font-size="31.9" class="k" textLength="64.63" lengthAdjust="spacingAndGlyphs">4386</text>
<text transform="translate(675.6 2021.6) rotate(-90)" font-size="31.9" class="k" textLength="64.63" lengthAdjust="spacingAndGlyphs">4390</text>
<text transform="translate(728.6 2021.6) rotate(-90)" font-size="31.9" class="k" textLength="64.93" lengthAdjust="spacingAndGlyphs">4397</text>
<text transform="translate(760.1 2021.6) rotate(-90)" font-size="31.9" class="k" textLength="64.93" lengthAdjust="spacingAndGlyphs">4401</text>
<text transform="translate(791.5 2021.6) rotate(-90)" font-size="31.9" class="k" textLength="64.63" lengthAdjust="spacingAndGlyphs">4393</text>
<text transform="translate(823 2021.6) rotate(-90)" font-size="31.9" class="k" textLength="64.63" lengthAdjust="spacingAndGlyphs">4385</text>
<text transform="translate(854.4 2021.6) rotate(-90)" font-size="31.9" class="k" textLength="64.93" lengthAdjust="spacingAndGlyphs">4389</text>
<text transform="translate(907.3 2021.6) rotate(-90)" font-size="31.9" class="k" textLength="64.63" lengthAdjust="spacingAndGlyphs">4396</text>
<text transform="translate(938.8 2021.6) rotate(-90)" font-size="31.9" class="k" textLength="64.63" lengthAdjust="spacingAndGlyphs">4400</text>
<text transform="translate(970.2 2021.6) rotate(-90)" font-size="31.9" class="k" textLength="64.93" lengthAdjust="spacingAndGlyphs">4392</text>
<text transform="translate(1001.7 2021.6) rotate(-90)" font-size="31.9" class="k" textLength="64.33" lengthAdjust="spacingAndGlyphs">4384</text>
<text transform="translate(1033.1 2021.6) rotate(-90)" font-size="31.9" class="k" textLength="64.63" lengthAdjust="spacingAndGlyphs">4388</text>
<text x="124" y="2007.5" font-size="31.9" textLength="181.56" lengthAdjust="spacingAndGlyphs">epegRNA ID</text>
<text x="23.6" y="2066.3" font-size="31.9" textLength="283.18" lengthAdjust="spacingAndGlyphs">RTT homology (bp)</text>
<text x="173" y="2121.5" font-size="31.9" textLength="133.79" lengthAdjust="spacingAndGlyphs">PBS (bp)</text>
<text x="341.3" y="2063.7" font-size="27.6" text-anchor="middle" class="k">6</text>
<polygon points="356.1,2053.8 464.8,2043 464.8,2065.2" fill="#A7A4A5"/>
<text x="472.7" y="2063.7" font-size="27.6" class="k">10</text>
<text x="535.7" y="2063.7" font-size="27.6" text-anchor="middle" class="k">6</text>
<polygon points="551.2,2053.8 659.2,2043 659.2,2065.2" fill="#A7A4A5"/>
<text x="666.5" y="2063.7" font-size="27.6" class="k">10</text>
<text x="714.7" y="2063.7" font-size="27.6" text-anchor="middle" class="k">6</text>
<polygon points="730.3,2053.8 838,2043 838,2065.2" fill="#A7A4A5"/>
<text x="844.9" y="2063.7" font-size="27.6" class="k">10</text>
<text x="893.8" y="2063.7" font-size="27.6" text-anchor="middle" class="k">6</text>
<polygon points="909.6,2053.8 1017,2043 1017,2065.2" fill="#A7A4A5"/>
<text x="1023.3" y="2063.7" font-size="27.6" class="k">10</text>
<line x1="345.2" y1="2115.6" x2="398.1" y2="2115.6" stroke="#231F20" stroke-width="1.7"/>
<line x1="437.7" y1="2115.6" x2="497.9" y2="2115.6" stroke="#231F20" stroke-width="1.7"/>
<text x="402.5" y="2124.2" font-size="27.6" class="k">11</text>
<line x1="525.8" y1="2115.6" x2="579.3" y2="2115.6" stroke="#231F20" stroke-width="1.7"/>
<line x1="618.9" y1="2115.6" x2="678.4" y2="2115.6" stroke="#231F20" stroke-width="1.7"/>
<text x="583.8" y="2124.2" font-size="27.6" class="k">12</text>
<line x1="705.5" y1="2115.6" x2="759.3" y2="2115.6" stroke="#231F20" stroke-width="1.7"/>
<line x1="798" y1="2115.6" x2="857.4" y2="2115.6" stroke="#231F20" stroke-width="1.7"/>
<text x="764.3" y="2124.2" font-size="27.6" class="k">13</text>
<line x1="883.2" y1="2115.6" x2="936.7" y2="2115.6" stroke="#231F20" stroke-width="1.7"/>
<line x1="975.7" y1="2115.6" x2="1035.8" y2="2115.6" stroke="#231F20" stroke-width="1.7"/>
<text x="941.2" y="2124.2" font-size="27.6" class="k">14</text>
<text x="1169.5" y="1363" font-size="54" font-weight="bold">f</text>
<rect x="1460.1" y="1811.5" width="21.5" height="122.4" fill="#6472B3"/>
<rect x="1491.9" y="1716.2" width="21.5" height="217.7" fill="#6472B3"/>
<rect x="1523.8" y="1877.7" width="21.5" height="56.2" fill="#6472B3"/>
<rect x="1555.6" y="1852.8" width="21.5" height="81.1" fill="#6472B3"/>
<rect x="1587.5" y="1883.3" width="21.5" height="50.6" fill="#6472B3"/>
<rect x="1640.5" y="1881" width="21.5" height="52.9" fill="#6472B3"/>
<rect x="1672.3" y="1643.7" width="21.5" height="290.2" fill="#6472B3"/>
<rect x="1704.2" y="1691" width="21.5" height="242.9" fill="#6472B3"/>
<rect x="1736" y="1803.2" width="21.5" height="130.7" fill="#6472B3"/>
<rect x="1767.9" y="1888.6" width="21.5" height="45.3" fill="#6472B3"/>
<rect x="1821.2" y="1920.3" width="21.5" height="13.6" fill="#6472B3"/>
<rect x="1853" y="1913.1" width="21.5" height="20.8" fill="#6472B3"/>
<rect x="1884.9" y="1926.6" width="21.5" height="7.3" fill="#6472B3"/>
<rect x="1916.8" y="1920.7" width="21.5" height="13.2" fill="#6472B3"/>
<rect x="1948.6" y="1918.4" width="21.5" height="15.5" fill="#6472B3"/>
<rect x="2001.5" y="1902.5" width="21.5" height="31.4" fill="#6472B3"/>
<rect x="2033.3" y="1930.6" width="21.5" height="3.3" fill="#6472B3"/>
<rect x="2065.2" y="1890.2" width="21.5" height="43.7" fill="#6472B3"/>
<rect x="2097.1" y="1925.6" width="21.5" height="8.3" fill="#6472B3"/>
<rect x="2128.9" y="1909.1" width="21.5" height="24.8" fill="#6472B3"/>
<line x1="1449.8" y1="1442.5" x2="1449.8" y2="1934.9" stroke="#000" stroke-width="2"/>
<line x1="1430.6" y1="1933.9" x2="2160.7" y2="1933.9" stroke="#000" stroke-width="2"/>
<line x1="1430.6" y1="1443.5" x2="1449.8" y2="1443.5" stroke="#000" stroke-width="2"/>
<line x1="1430.6" y1="1688.4" x2="1449.8" y2="1688.4" stroke="#000" stroke-width="2"/>
<line x1="1439.8" y1="1565.9" x2="1449.8" y2="1565.9" stroke="#000" stroke-width="2"/>
<line x1="1439.8" y1="1811.5" x2="1449.8" y2="1811.5" stroke="#000" stroke-width="2"/>
<text x="1386" y="1454.6" font-size="34.3" class="k" textLength="35.48" lengthAdjust="spacingAndGlyphs">50</text>
<text x="1386" y="1699.2" font-size="34.3" class="k" textLength="35.48" lengthAdjust="spacingAndGlyphs">25</text>
<text x="1403.8" y="1944.4" font-size="34.3" class="k" textLength="17.74" lengthAdjust="spacingAndGlyphs">0</text>
<line x1="1470.8" y1="1783.3" x2="1470.8" y2="1839.6" stroke="#000" stroke-width="2.3"/>
<line x1="1464.8" y1="1783.3" x2="1476.8" y2="1783.3" stroke="#000" stroke-width="2.3"/>
<line x1="1464.8" y1="1839.6" x2="1476.8" y2="1839.6" stroke="#000" stroke-width="2.3"/>
<circle cx="1470.8" cy="1791.6" r="4.8" fill="#000"/>
<circle cx="1470.8" cy="1832" r="4.8" fill="#000"/>
<line x1="1502.7" y1="1692.7" x2="1502.7" y2="1739.7" stroke="#000" stroke-width="2.3"/>
<line x1="1496.7" y1="1692.7" x2="1508.7" y2="1692.7" stroke="#000" stroke-width="2.3"/>
<line x1="1496.7" y1="1739.7" x2="1508.7" y2="1739.7" stroke="#000" stroke-width="2.3"/>
<circle cx="1502.7" cy="1700" r="4.8" fill="#000"/>
<circle cx="1502.7" cy="1733" r="4.8" fill="#000"/>
<line x1="1529" y1="1877.7" x2="1540.1" y2="1877.7" stroke="#000" stroke-width="2.3"/>
<circle cx="1529" cy="1877.7" r="4.8" fill="#000"/>
<circle cx="1540.1" cy="1877.7" r="4.8" fill="#000"/>
<line x1="1560.8" y1="1852.8" x2="1572" y2="1851.2" stroke="#000" stroke-width="2.3"/>
<circle cx="1560.8" cy="1852.8" r="4.8" fill="#000"/>
<circle cx="1572" cy="1851.2" r="4.8" fill="#000"/>
<line x1="1598.2" y1="1875.3" x2="1598.2" y2="1892.5" stroke="#000" stroke-width="2.3"/>
<line x1="1592.2" y1="1875.3" x2="1604.2" y2="1875.3" stroke="#000" stroke-width="2.3"/>
<line x1="1592.2" y1="1892.5" x2="1604.2" y2="1892.5" stroke="#000" stroke-width="2.3"/>
<circle cx="1598.2" cy="1878.3" r="4.8" fill="#000"/>
<circle cx="1598.2" cy="1889.2" r="4.8" fill="#000"/>
<line x1="1651.2" y1="1868.4" x2="1651.2" y2="1894.2" stroke="#000" stroke-width="2.3"/>
<line x1="1645.2" y1="1868.4" x2="1657.2" y2="1868.4" stroke="#000" stroke-width="2.3"/>
<line x1="1645.2" y1="1894.2" x2="1657.2" y2="1894.2" stroke="#000" stroke-width="2.3"/>
<circle cx="1651.2" cy="1872.7" r="4.8" fill="#000"/>
<circle cx="1651.2" cy="1889.9" r="4.8" fill="#000"/>
<line x1="1683.1" y1="1507.7" x2="1683.1" y2="1780" stroke="#000" stroke-width="2.3"/>
<line x1="1677.1" y1="1507.7" x2="1689.1" y2="1507.7" stroke="#000" stroke-width="2.3"/>
<line x1="1677.1" y1="1780" x2="1689.1" y2="1780" stroke="#000" stroke-width="2.3"/>
<circle cx="1683.1" cy="1547.4" r="4.8" fill="#000"/>
<circle cx="1683.1" cy="1740.3" r="4.8" fill="#000"/>
<line x1="1715" y1="1677.8" x2="1715" y2="1704.9" stroke="#000" stroke-width="2.3"/>
<line x1="1709" y1="1677.8" x2="1721" y2="1677.8" stroke="#000" stroke-width="2.3"/>
<line x1="1709" y1="1704.9" x2="1721" y2="1704.9" stroke="#000" stroke-width="2.3"/>
<circle cx="1715" cy="1682.4" r="4.8" fill="#000"/>
<circle cx="1715" cy="1700.6" r="4.8" fill="#000"/>
<line x1="1746.8" y1="1776.7" x2="1746.8" y2="1829.7" stroke="#000" stroke-width="2.3"/>
<line x1="1740.8" y1="1776.7" x2="1752.8" y2="1776.7" stroke="#000" stroke-width="2.3"/>
<line x1="1740.8" y1="1829.7" x2="1752.8" y2="1829.7" stroke="#000" stroke-width="2.3"/>
<circle cx="1746.8" cy="1785" r="4.8" fill="#000"/>
<circle cx="1746.8" cy="1822.4" r="4.8" fill="#000"/>
<line x1="1778.7" y1="1867.4" x2="1778.7" y2="1909.7" stroke="#000" stroke-width="2.3"/>
<line x1="1772.7" y1="1867.4" x2="1784.7" y2="1867.4" stroke="#000" stroke-width="2.3"/>
<line x1="1772.7" y1="1909.7" x2="1784.7" y2="1909.7" stroke="#000" stroke-width="2.3"/>
<circle cx="1778.7" cy="1874.3" r="4.8" fill="#000"/>
<circle cx="1778.7" cy="1904.1" r="4.8" fill="#000"/>
<line x1="1832" y1="1906.4" x2="1832" y2="1933.9" stroke="#000" stroke-width="2.3"/>
<line x1="1826" y1="1906.4" x2="1838" y2="1906.4" stroke="#000" stroke-width="2.3"/>
<line x1="1826" y1="1933.9" x2="1838" y2="1933.9" stroke="#000" stroke-width="2.3"/>
<circle cx="1832" cy="1911.4" r="4.8" fill="#000"/>
<circle cx="1832" cy="1930.6" r="4.8" fill="#000"/>
<line x1="1863.8" y1="1886.6" x2="1863.8" y2="1933.9" stroke="#000" stroke-width="2.3"/>
<line x1="1857.8" y1="1886.6" x2="1869.8" y2="1886.6" stroke="#000" stroke-width="2.3"/>
<line x1="1857.8" y1="1933.9" x2="1869.8" y2="1933.9" stroke="#000" stroke-width="2.3"/>
<circle cx="1863.8" cy="1894.2" r="4.8" fill="#000"/>
<circle cx="1863.8" cy="1932.3" r="4.8" fill="#000"/>
<line x1="1895.7" y1="1920.7" x2="1895.7" y2="1929.6" stroke="#000" stroke-width="2.3"/>
<line x1="1889.7" y1="1920.7" x2="1901.7" y2="1920.7" stroke="#000" stroke-width="2.3"/>
<line x1="1889.7" y1="1929.6" x2="1901.7" y2="1929.6" stroke="#000" stroke-width="2.3"/>
<line x1="1890.1" y1="1928.3" x2="1901.2" y2="1922.3" stroke="#000" stroke-width="2.3"/>
<circle cx="1890.1" cy="1928.3" r="4.8" fill="#000"/>
<circle cx="1901.2" cy="1922.3" r="4.8" fill="#000"/>
<line x1="1921.9" y1="1922.3" x2="1933.1" y2="1920.7" stroke="#000" stroke-width="2.3"/>
<circle cx="1921.9" cy="1922.3" r="4.8" fill="#000"/>
<circle cx="1933.1" cy="1920.7" r="4.8" fill="#000"/>
<line x1="1959.4" y1="1905.1" x2="1959.4" y2="1932.3" stroke="#000" stroke-width="2.3"/>
<line x1="1953.4" y1="1905.1" x2="1965.4" y2="1905.1" stroke="#000" stroke-width="2.3"/>
<line x1="1953.4" y1="1932.3" x2="1965.4" y2="1932.3" stroke="#000" stroke-width="2.3"/>
<circle cx="1959.4" cy="1909.1" r="4.8" fill="#000"/>
<circle cx="1959.4" cy="1928.3" r="4.8" fill="#000"/>
<line x1="2012.2" y1="1870" x2="2012.2" y2="1933.9" stroke="#000" stroke-width="2.3"/>
<line x1="2006.2" y1="1870" x2="2018.2" y2="1870" stroke="#000" stroke-width="2.3"/>
<line x1="2006.2" y1="1933.9" x2="2018.2" y2="1933.9" stroke="#000" stroke-width="2.3"/>
<circle cx="2012.2" cy="1879.6" r="4.8" fill="#000"/>
<circle cx="2012.2" cy="1926.3" r="4.8" fill="#000"/>
<line x1="2038.5" y1="1931.6" x2="2049.7" y2="1928.9" stroke="#000" stroke-width="2.3"/>
<circle cx="2038.5" cy="1931.6" r="4.8" fill="#000"/>
<circle cx="2049.7" cy="1928.9" r="4.8" fill="#6472B3"/>
<line x1="2075.9" y1="1866.1" x2="2075.9" y2="1914.7" stroke="#000" stroke-width="2.3"/>
<line x1="2069.9" y1="1866.1" x2="2081.9" y2="1866.1" stroke="#000" stroke-width="2.3"/>
<line x1="2069.9" y1="1914.7" x2="2081.9" y2="1914.7" stroke="#000" stroke-width="2.3"/>
<circle cx="2075.9" cy="1873.3" r="4.8" fill="#000"/>
<circle cx="2075.9" cy="1908.1" r="4.8" fill="#000"/>
<line x1="2102.2" y1="1927.3" x2="2113.4" y2="1926.3" stroke="#000" stroke-width="2.3"/>
<circle cx="2102.2" cy="1927.3" r="4.8" fill="#000"/>
<circle cx="2113.4" cy="1926.3" r="4.8" fill="#000"/>
<line x1="2139.7" y1="1903.1" x2="2139.7" y2="1915.7" stroke="#000" stroke-width="2.3"/>
<line x1="2133.7" y1="1903.1" x2="2145.7" y2="1903.1" stroke="#000" stroke-width="2.3"/>
<line x1="2133.7" y1="1915.7" x2="2145.7" y2="1915.7" stroke="#000" stroke-width="2.3"/>
<line x1="2134.1" y1="1913.1" x2="2145.2" y2="1905.8" stroke="#000" stroke-width="2.3"/>
<circle cx="2134.1" cy="1913.1" r="4.8" fill="#000"/>
<circle cx="2145.2" cy="1905.8" r="4.8" fill="#000"/>
<text x="1476.6" y="1379.6" font-size="31.9" textLength="459.86" lengthAdjust="spacingAndGlyphs">tRNA-Ser-AGA-4-1 (AGA&gt;CTA)</text>
<text x="1475.6" y="1417.7" font-size="31.9" textLength="590.01" lengthAdjust="spacingAndGlyphs">Spacer: gCTGCGCGGGGAGACCCCAA</text>
<text transform="translate(1327.8 1802.9) rotate(-90)" font-size="31.9" class="k" textLength="232.73" lengthAdjust="spacingAndGlyphs">Fold enrichment</text>
<text transform="translate(1363.1 1856.9) rotate(-90)" font-size="31.9" class="k" textLength="351.29" lengthAdjust="spacingAndGlyphs">(GFP+ vs. plasmid pool)</text>
<text transform="translate(1481.2 2016.6) rotate(-90)" font-size="31.9" class="k" textLength="63.67" lengthAdjust="spacingAndGlyphs">7798</text>
<text transform="translate(1513.1 2016.6) rotate(-90)" font-size="31.9" class="k" textLength="63.67" lengthAdjust="spacingAndGlyphs">7766</text>
<text transform="translate(1545 2016.6) rotate(-90)" font-size="31.9" class="k" textLength="63.67" lengthAdjust="spacingAndGlyphs">7778</text>
<text transform="translate(1576.8 2016.6) rotate(-90)" font-size="31.9" class="k" textLength="63.37" lengthAdjust="spacingAndGlyphs">7794</text>
<text transform="translate(1608.7 2016.6) rotate(-90)" font-size="31.9" class="k" textLength="63.67" lengthAdjust="spacingAndGlyphs">7790</text>
<text transform="translate(1661.7 2016.6) rotate(-90)" font-size="31.9" class="k" textLength="63.96" lengthAdjust="spacingAndGlyphs">7797</text>
<text transform="translate(1693.5 2016.6) rotate(-90)" font-size="31.9" class="k" textLength="63.67" lengthAdjust="spacingAndGlyphs">7765</text>
<text transform="translate(1725.4 2016.6) rotate(-90)" font-size="31.9" class="k" textLength="63.96" lengthAdjust="spacingAndGlyphs">7777</text>
<text transform="translate(1757.2 2016.6) rotate(-90)" font-size="31.9" class="k" textLength="63.67" lengthAdjust="spacingAndGlyphs">7793</text>
<text transform="translate(1789.1 2016.6) rotate(-90)" font-size="31.9" class="k" textLength="63.96" lengthAdjust="spacingAndGlyphs">7789</text>
<text transform="translate(1842.4 2016.6) rotate(-90)" font-size="31.9" class="k" textLength="63.67" lengthAdjust="spacingAndGlyphs">7796</text>
<text transform="translate(1874.2 2016.6) rotate(-90)" font-size="31.9" class="k" textLength="63.37" lengthAdjust="spacingAndGlyphs">7764</text>
<text transform="translate(1906.1 2016.6) rotate(-90)" font-size="31.9" class="k" textLength="63.67" lengthAdjust="spacingAndGlyphs">7776</text>
<text transform="translate(1937.9 2016.6) rotate(-90)" font-size="31.9" class="k" textLength="63.96" lengthAdjust="spacingAndGlyphs">7792</text>
<text transform="translate(1969.8 2016.6) rotate(-90)" font-size="31.9" class="k" textLength="63.67" lengthAdjust="spacingAndGlyphs">7788</text>
<text transform="translate(2022.7 2016.6) rotate(-90)" font-size="31.9" class="k" textLength="63.67" lengthAdjust="spacingAndGlyphs">7795</text>
<text transform="translate(2054.5 2016.6) rotate(-90)" font-size="31.9" class="k" textLength="63.67" lengthAdjust="spacingAndGlyphs">7763</text>
<text transform="translate(2086.3 2016.6) rotate(-90)" font-size="31.9" class="k" textLength="63.67" lengthAdjust="spacingAndGlyphs">7775</text>
<text transform="translate(2118.2 2016.6) rotate(-90)" font-size="31.9" class="k" textLength="63.96" lengthAdjust="spacingAndGlyphs">7791</text>
<text transform="translate(2150.1 2016.6) rotate(-90)" font-size="31.9" class="k" textLength="63.96" lengthAdjust="spacingAndGlyphs">7787</text>
<text x="1233.2" y="2001.8" font-size="31.9" textLength="181.96" lengthAdjust="spacingAndGlyphs">epegRNA ID</text>
<text x="1133.1" y="2061.3" font-size="31.9" textLength="283.28" lengthAdjust="spacingAndGlyphs">RTT homology (bp)</text>
<text x="1282.4" y="2116.5" font-size="31.9" textLength="133.99" lengthAdjust="spacingAndGlyphs">PBS (bp)</text>
<text x="1451.2" y="2058.7" font-size="27.6" text-anchor="middle" class="k">6</text>
<polygon points="1466.7,2048.8 1574.7,2038 1574.7,2060.2" fill="#A7A4A5"/>
<text x="1582" y="2058.7" font-size="27.6" class="k">10</text>
<text x="1645.5" y="2058.7" font-size="27.6" text-anchor="middle" class="k">6</text>
<polygon points="1660.8,2048.8 1769.2,2038 1769.2,2060.2" fill="#A7A4A5"/>
<text x="1776.1" y="2058.7" font-size="27.6" class="k">10</text>
<text x="1824.3" y="2058.7" font-size="27.6" text-anchor="middle" class="k">6</text>
<polygon points="1839.8,2048.8 1948.2,2038 1948.2,2060.2" fill="#A7A4A5"/>
<text x="1955.5" y="2058.7" font-size="27.6" class="k">10</text>
<text x="2003.7" y="2057.2" font-size="27.6" text-anchor="middle" class="k">6</text>
<polygon points="2019.2,2047.3 2127.3,2036.5 2127.3,2058.7" fill="#A7A4A5"/>
<text x="2134.5" y="2057.2" font-size="27.6" class="k">10</text>
<line x1="1455.1" y1="2110.2" x2="1508.7" y2="2110.2" stroke="#231F20" stroke-width="1.7"/>
<line x1="1547.6" y1="2110.2" x2="1607.8" y2="2110.2" stroke="#231F20" stroke-width="1.7"/>
<text x="1512.4" y="2119.8" font-size="27.6" class="k">11</text>
<line x1="1636" y1="2110.2" x2="1689.5" y2="2110.2" stroke="#231F20" stroke-width="1.7"/>
<line x1="1729.2" y1="2110.2" x2="1788.6" y2="2110.2" stroke="#231F20" stroke-width="1.7"/>
<text x="1694.7" y="2119.8" font-size="27.6" class="k">12</text>
<line x1="1815.1" y1="2110.2" x2="1868.9" y2="2110.2" stroke="#231F20" stroke-width="1.7"/>
<line x1="1907.6" y1="2110.2" x2="1967.4" y2="2110.2" stroke="#231F20" stroke-width="1.7"/>
<text x="1873.9" y="2119.8" font-size="27.6" class="k">13</text>
<line x1="1993.5" y1="2110.2" x2="2046.7" y2="2110.2" stroke="#231F20" stroke-width="1.7"/>
<line x1="2086" y1="2110.2" x2="2145.8" y2="2110.2" stroke="#231F20" stroke-width="1.7"/>
<text x="2051.4" y="2119.8" font-size="27.6" class="k">14</text>
</svg>
</body></html>
